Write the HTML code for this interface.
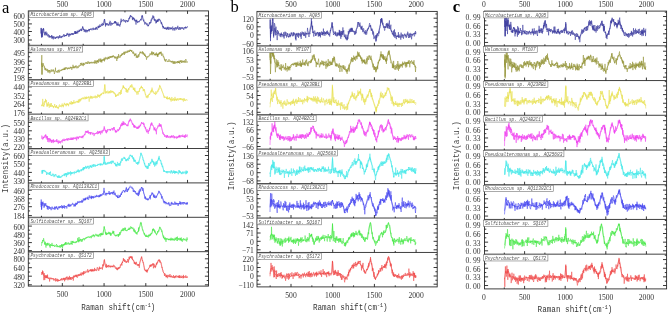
<!DOCTYPE html>
<html><head><meta charset="utf-8"><style>html,body{margin:0;padding:0;background:#fff;width:668px;height:315px;overflow:hidden}svg{display:block;will-change:transform}</style></head><body>
<svg xmlns="http://www.w3.org/2000/svg" width="668" height="315" viewBox="0 0 668 315">
<rect width="668" height="315" fill="#fff"/>
<path d="M41.0,33.3 41.2,27.9 41.5,36.8 41.6,34.6 41.9,31.7 42.0,29.6 42.2,32.8 42.5,37.2 42.8,31.0 43.0,28.8 43.1,30.2 43.4,29.2 43.5,28.5 43.7,28.8 44.0,32.9 44.3,32.7 44.6,32.7 44.9,35.0 45.0,33.0 45.2,32.0 45.5,32.2 45.8,33.5 46.0,31.5 46.1,33.9 46.4,34.6 46.7,34.9 47.0,32.7 47.3,35.3 47.6,35.9 47.9,36.2 48.2,34.2 48.5,35.5 48.8,34.9 49.0,35.1 49.1,37.4 49.4,35.5 49.7,36.5 50.0,37.7 50.3,36.2 50.6,36.7 50.9,37.0 51.2,37.1 51.5,35.2 51.8,37.3 52.0,38.8 52.1,35.6 52.4,38.2 52.7,37.5 53.0,36.6 53.3,39.4 53.6,38.3 53.9,36.2 54.2,37.5 54.5,38.1 54.8,38.5 55.0,38.1 55.1,37.4 55.4,38.3 55.7,39.0 56.0,36.9 56.3,37.9 56.6,37.1 56.9,37.6 57.2,36.3 57.5,37.1 57.8,37.4 58.1,38.5 58.4,38.7 58.7,36.1 59.0,36.5 59.3,37.7 59.6,35.0 59.9,35.4 60.0,36.7 60.2,38.1 60.5,37.6 60.8,36.5 61.1,36.4 61.4,36.4 61.7,38.1 62.0,36.0 62.3,36.0 62.6,36.6 62.9,35.9 63.2,35.7 63.5,34.6 63.8,35.7 64.1,34.3 64.4,36.7 64.7,36.2 65.0,35.4 65.3,36.0 65.6,35.0 65.9,36.2 66.2,35.1 66.5,35.7 66.8,33.6 67.1,35.2 67.4,33.2 67.7,32.9 68.0,34.4 68.3,33.9 68.6,34.9 68.9,36.9 69.2,33.7 69.5,33.8 69.8,35.6 70.0,34.8 70.1,34.1 70.4,34.2 70.7,35.1 71.0,34.9 71.3,33.3 71.6,34.3 71.9,34.4 72.2,33.3 72.5,34.5 72.8,33.3 73.1,35.0 73.4,34.0 73.7,33.8 74.0,33.0 74.3,33.4 74.6,31.4 74.9,32.2 75.0,33.6 75.2,31.1 75.5,34.0 75.8,31.3 76.1,33.7 76.4,31.9 76.7,33.3 77.0,32.4 77.3,30.6 77.6,33.3 77.9,33.4 78.2,31.5 78.5,31.1 78.8,32.0 79.1,29.8 79.4,31.7 79.7,30.0 80.0,30.3 80.3,29.5 80.6,29.7 80.9,28.8 81.2,31.1 81.5,29.6 81.8,30.6 82.0,29.5 82.1,28.5 82.4,27.8 82.7,26.4 83.0,28.0 83.3,29.0 83.5,29.9 83.6,28.8 83.9,29.4 84.2,31.9 84.5,29.7 84.8,29.5 85.1,31.0 85.4,32.3 85.7,29.6 86.0,30.9 86.3,30.7 86.6,29.8 86.9,32.4 87.0,31.5 87.2,31.4 87.5,30.3 87.8,31.2 88.1,30.0 88.4,30.4 88.7,29.2 89.0,28.9 89.3,31.4 89.6,29.3 89.9,29.8 90.0,29.4 90.2,29.1 90.5,28.8 90.8,29.9 91.1,29.0 91.4,29.0 91.7,29.1 92.0,30.3 92.3,29.7 92.6,29.3 92.9,28.4 93.2,27.7 93.5,29.9 93.8,29.9 94.1,28.7 94.4,29.4 94.7,29.4 95.0,29.5 95.3,29.5 95.6,28.0 95.9,29.8 96.2,26.9 96.5,28.8 96.8,28.3 97.1,28.6 97.4,29.6 97.7,28.7 98.0,26.5 98.3,25.8 98.6,28.0 98.9,25.9 99.2,26.7 99.5,27.4 99.8,24.7 100.0,24.4 100.1,26.8 100.4,26.6 100.7,26.1 101.0,26.2 101.3,25.1 101.6,24.2 101.9,25.3 102.2,22.9 102.5,23.4 102.8,25.5 103.1,24.6 103.4,24.9 103.5,23.5 103.7,22.8 104.0,20.8 104.3,19.4 104.5,19.5 104.6,19.0 104.9,21.8 105.2,23.2 105.5,26.5 105.8,23.1 106.1,25.3 106.4,24.2 106.7,24.3 107.0,23.0 107.3,24.0 107.6,25.3 107.9,24.5 108.2,24.7 108.5,24.4 108.8,25.8 109.1,24.6 109.4,22.4 109.7,23.9 110.0,20.8 110.3,21.3 110.6,24.0 110.9,25.8 111.2,24.3 111.5,22.9 111.8,22.9 112.1,24.8 112.4,23.6 112.7,23.5 113.0,23.3 113.3,23.3 113.6,23.9 113.9,23.5 114.2,23.0 114.5,21.5 114.8,22.8 115.0,21.5 115.1,23.5 115.4,21.2 115.7,22.6 116.0,22.9 116.3,21.9 116.6,25.3 116.9,25.5 117.2,23.8 117.5,25.4 117.8,25.3 118.0,22.4 118.1,25.2 118.4,25.1 118.7,25.4 119.0,24.2 119.3,25.0 119.6,25.2 119.9,26.5 120.0,25.6 120.2,24.3 120.5,24.5 120.8,20.9 121.0,20.0 121.1,18.7 121.4,22.2 121.7,21.4 122.0,21.3 122.3,21.1 122.6,20.5 122.9,20.4 123.2,20.1 123.5,19.3 123.8,20.5 124.1,21.9 124.4,21.2 124.7,20.5 125.0,20.0 125.3,20.1 125.6,22.6 125.9,21.4 126.2,21.1 126.5,20.8 126.8,20.0 127.1,20.9 127.4,22.1 127.7,21.1 128.0,21.4 128.3,20.7 128.6,20.5 128.9,18.0 129.2,18.7 129.5,17.3 129.8,18.3 130.1,15.8 130.4,16.2 130.5,16.7 130.7,15.4 131.0,16.1 131.3,16.3 131.6,16.6 131.9,16.2 132.2,18.1 132.5,20.1 132.8,17.5 133.0,18.5 133.1,17.6 133.4,19.1 133.7,17.7 134.0,18.5 134.3,20.5 134.6,18.6 134.9,20.8 135.2,21.5 135.5,20.4 135.8,20.9 136.0,24.6 136.1,20.1 136.4,21.5 136.7,19.7 137.0,21.4 137.3,23.0 137.6,22.8 137.9,21.0 138.2,21.2 138.5,21.8 138.8,22.3 139.1,21.4 139.4,21.5 139.7,21.1 140.0,20.0 140.3,19.9 140.6,19.7 140.9,19.0 141.0,19.5 141.2,20.4 141.5,18.3 141.8,17.0 142.0,15.4 142.1,17.0 142.4,15.4 142.7,16.8 143.0,19.9 143.3,20.6 143.6,20.6 143.9,19.7 144.0,21.2 144.2,22.1 144.5,22.5 144.8,24.5 145.1,23.0 145.4,22.1 145.7,22.1 146.0,23.6 146.3,23.7 146.6,24.2 146.9,24.4 147.0,23.2 147.2,25.7 147.5,25.9 147.8,26.2 148.1,25.0 148.4,26.1 148.5,25.6 148.7,24.8 149.0,24.3 149.3,22.8 149.6,22.1 149.9,23.9 150.2,22.6 150.5,22.5 150.8,22.7 151.0,19.7 151.1,20.3 151.4,20.5 151.7,20.1 152.0,18.5 152.3,19.1 152.6,17.5 152.9,15.4 153.0,15.4 153.2,17.7 153.5,18.1 153.8,16.3 154.1,20.2 154.4,19.1 154.7,21.1 155.0,19.9 155.3,20.2 155.6,19.5 155.9,23.4 156.2,20.8 156.5,22.8 156.8,20.7 157.0,21.7 157.1,19.7 157.4,19.7 157.7,21.9 158.0,19.5 158.3,21.4 158.6,20.3 158.9,18.7 159.0,19.0 159.2,19.2 159.5,20.1 159.8,20.0 160.0,19.8 160.1,20.7 160.4,20.5 160.7,20.8 161.0,22.6 161.3,24.1 161.6,22.2 161.9,24.3 162.2,24.3 162.5,24.7 162.8,27.1 163.0,26.3 163.1,28.5 163.4,26.5 163.7,27.9 164.0,27.6 164.3,27.3 164.6,28.8 164.9,28.2 165.0,29.1 165.2,28.6 165.5,27.5 165.8,28.5 166.1,28.8 166.4,29.7 166.7,27.7 167.0,28.7 167.3,26.9 167.6,29.4 167.9,27.7 168.2,26.8 168.5,28.7 168.8,29.8 169.1,27.2 169.4,27.6 169.7,28.1 170.0,27.6 170.3,29.2 170.6,27.7 170.9,27.8 171.2,29.1 171.5,27.7 171.8,28.8 172.1,27.5 172.4,27.3 172.7,26.6 173.0,30.5 173.3,28.3 173.6,28.9 173.9,28.7 174.2,28.9 174.5,28.6 174.8,30.6 175.0,27.6 175.1,27.0 175.4,27.6 175.7,27.3 176.0,29.3 176.3,29.5 176.6,27.7 176.9,27.2 177.2,28.2 177.5,28.2 177.8,25.8 178.1,29.2 178.4,29.4 178.7,29.8 179.0,27.5 179.3,28.2 179.6,27.0 179.9,27.6 180.0,30.0 180.2,29.6 180.5,28.4 180.8,27.9 181.1,27.0 181.4,28.5 181.7,28.7 182.0,28.6 182.3,28.6 182.6,27.3 182.9,28.3 183.2,28.3 183.5,29.4 183.8,29.9 184.1,27.9 184.4,27.2 184.7,27.8 185.0,27.3 185.3,27.1 185.5,27.8 185.6,26.7 185.9,28.5 186.2,27.6 186.5,27.9 186.8,27.5 187.1,26.9 187.4,26.5 187.5,27.3" fill="none" stroke="#34349a" stroke-width="0.55" stroke-linejoin="round"/>
<path d="M41.0,33.6 41.2,28.2 41.5,37.7 41.8,33.8 42.0,31.4 42.5,35.4 42.6,33.3 43.0,29.8 43.4,28.5 43.5,28.1 44.0,32.8 44.2,33.2 45.0,35.6 45.8,33.1 46.0,33.0 46.6,34.9 47.0,35.7 47.4,36.1 48.2,36.8 49.0,36.5 49.8,36.3 50.6,36.8 51.4,36.8 52.0,37.4 52.2,37.6 53.0,37.2 53.8,37.5 54.6,38.1 55.0,37.5 55.4,37.8 56.2,37.2 57.0,37.2 57.8,37.1 58.6,38.0 59.4,37.0 60.0,36.8 60.2,36.8 61.0,36.7 61.8,36.7 62.6,36.3 63.4,36.7 64.2,35.8 65.0,36.0 65.8,35.4 66.6,35.4 67.4,34.6 68.2,34.8 69.0,34.6 69.8,34.4 70.0,33.7 70.6,34.7 71.4,34.1 72.2,33.9 73.0,33.9 73.8,33.7 74.6,33.7 75.0,33.1 75.4,33.0 76.2,33.0 77.0,32.4 77.8,31.7 78.6,31.2 79.4,30.6 80.0,30.5 80.2,30.8 81.0,29.6 81.8,30.1 82.0,29.8 82.6,26.9 82.8,26.8 83.4,29.0 83.5,29.4 84.2,29.9 85.0,30.6 85.8,31.0 86.6,31.2 87.0,31.6 87.4,30.6 88.2,30.9 89.0,29.7 89.8,29.4 90.0,29.4 90.6,28.9 91.4,28.7 92.2,28.6 93.0,28.8 93.8,28.9 94.6,28.7 95.0,28.1 95.4,28.1 96.2,27.7 97.0,27.8 97.8,26.7 98.6,27.4 99.4,26.5 100.0,26.1 100.2,26.4 101.0,26.2 101.8,25.5 102.6,25.3 103.4,24.5 103.5,24.9 104.2,21.3 104.5,19.3 105.0,22.4 105.5,24.5 105.8,24.4 106.6,24.1 107.4,24.0 108.2,24.7 109.0,24.0 109.8,24.7 110.0,24.6 110.6,23.9 111.4,23.2 112.2,23.6 113.0,23.5 113.8,22.7 114.6,22.6 115.0,21.6 115.4,23.0 116.2,23.2 117.0,24.4 117.8,24.2 118.0,25.3 118.6,25.1 119.4,25.7 120.0,25.1 120.2,24.3 121.0,21.2 121.8,20.2 122.6,20.2 123.4,20.4 124.2,20.1 125.0,20.9 125.8,21.3 126.6,20.8 127.4,20.7 128.0,21.9 128.2,21.5 129.0,19.4 129.8,17.6 130.5,15.3 130.6,15.6 131.4,16.2 132.2,17.2 133.0,18.9 133.8,18.8 134.6,20.3 135.4,20.1 136.0,20.2 136.2,20.9 137.0,21.8 137.8,21.9 138.5,21.8 138.6,21.6 139.4,21.6 140.2,20.0 141.0,19.0 141.8,17.4 142.0,16.5 142.6,17.6 143.4,19.9 144.0,22.1 144.2,21.9 145.0,22.6 145.8,23.8 146.6,24.3 147.0,24.0 147.4,25.0 148.2,25.7 148.5,25.7 149.0,24.6 149.8,23.3 150.6,21.9 151.0,22.6 151.4,20.1 152.2,17.6 153.0,16.6 153.8,17.7 154.6,19.5 155.0,19.9 155.4,20.1 156.2,20.6 157.0,21.4 157.8,20.8 158.6,19.0 159.0,19.6 159.4,19.4 160.0,20.2 160.2,21.1 161.0,22.5 161.8,23.7 162.6,26.5 163.0,26.4 163.4,27.1 164.2,27.8 165.0,29.0 165.8,28.4 166.6,29.0 167.4,28.4 168.2,29.1 169.0,28.4 169.8,28.6 170.0,29.4 170.6,28.8 171.4,28.8 172.2,29.4 173.0,28.7 173.8,28.3 174.6,28.8 175.0,28.0 175.4,28.9 176.2,29.0 177.0,28.4 177.8,28.4 178.6,28.8 179.4,28.8 180.0,28.4 180.2,29.2 181.0,27.9 181.8,28.4 182.6,28.3 183.4,28.2 184.2,28.3 185.0,27.6 185.5,28.2 185.8,27.8 186.6,27.5 187.4,27.0 187.5,27.1" fill="none" stroke="#34349a" stroke-width="0.45" stroke-linejoin="round"/>
<path d="M41.5,65.1 41.8,55.1 42.0,74.6 42.1,67.2 42.2,65.5 42.4,66.9 42.7,65.1 43.0,63.1 43.3,64.7 43.6,65.5 43.9,65.6 44.2,66.6 44.5,66.4 44.8,69.6 45.1,68.3 45.4,70.3 45.7,68.7 46.0,69.5 46.3,69.6 46.6,70.7 46.8,70.9 46.9,70.3 47.2,69.2 47.5,69.1 47.8,72.4 48.1,70.2 48.4,70.3 48.7,72.4 49.0,71.9 49.3,71.2 49.6,70.1 49.9,73.3 50.2,71.0 50.5,71.3 50.8,70.6 51.1,69.4 51.4,69.6 51.7,71.6 52.0,71.6 52.3,70.9 52.6,69.8 52.9,69.6 53.2,70.8 53.5,69.6 53.8,72.0 54.1,72.3 54.4,74.0 54.7,72.1 55.0,70.5 55.3,70.4 55.5,67.7 55.6,70.8 55.9,71.2 56.2,72.4 56.5,71.9 56.8,71.9 57.1,71.4 57.4,72.0 57.7,72.7 58.0,70.1 58.3,70.6 58.6,69.8 58.9,72.6 59.2,72.4 59.5,71.5 59.8,69.7 60.1,70.5 60.4,70.2 60.7,70.4 61.0,70.0 61.3,70.4 61.6,69.5 61.9,70.5 62.2,69.9 62.5,69.3 62.8,69.3 63.0,68.8 63.1,70.1 63.4,69.0 63.7,69.6 64.0,68.9 64.3,67.7 64.6,70.0 64.9,67.9 65.2,69.5 65.5,69.1 65.8,67.0 66.1,67.7 66.4,68.1 66.7,67.7 67.0,67.4 67.3,69.3 67.6,68.2 67.9,68.6 68.2,67.9 68.5,68.5 68.8,67.5 69.1,68.1 69.4,68.8 69.7,68.3 70.0,67.6 70.3,66.8 70.5,68.3 70.6,68.3 70.9,67.6 71.2,67.1 71.5,68.5 71.8,69.8 72.1,67.5 72.4,68.0 72.7,67.9 73.0,64.8 73.3,67.6 73.6,66.6 73.9,68.4 74.2,66.8 74.5,66.3 74.8,66.6 75.1,68.1 75.4,66.2 75.7,66.6 76.0,65.3 76.3,66.3 76.6,67.2 76.9,68.4 77.2,67.2 77.5,66.7 77.8,67.6 78.0,67.4 78.1,68.1 78.4,67.3 78.7,66.0 79.0,66.4 79.3,66.3 79.6,66.3 79.9,65.9 80.2,64.8 80.5,63.3 80.8,64.5 81.1,62.9 81.4,64.8 81.7,64.6 82.0,62.8 82.3,65.1 82.6,65.2 82.9,64.5 83.0,66.0 83.2,66.1 83.5,62.9 83.8,65.1 84.1,64.3 84.4,64.1 84.7,64.5 85.0,62.6 85.3,62.7 85.6,62.5 85.9,62.7 86.2,63.3 86.5,62.0 86.8,62.3 87.1,63.8 87.4,63.1 87.7,63.5 88.0,61.1 88.3,62.1 88.6,62.4 88.9,62.8 89.2,62.2 89.5,63.9 89.8,62.8 90.1,62.9 90.4,62.7 90.7,63.2 91.0,61.9 91.3,63.3 91.6,62.6 91.9,62.5 92.2,62.3 92.5,62.2 92.8,63.3 93.1,63.2 93.4,62.4 93.7,62.9 94.0,62.3 94.3,63.5 94.6,62.1 94.9,60.2 95.2,63.5 95.5,62.0 95.8,60.7 96.1,61.5 96.4,60.8 96.7,63.8 97.0,62.2 97.3,60.0 97.6,62.0 97.9,60.8 98.2,63.0 98.5,60.0 98.8,58.9 99.1,61.1 99.4,60.6 99.7,60.4 100.0,58.6 100.3,60.9 100.6,62.2 100.9,58.7 101.2,61.7 101.5,59.8 101.8,62.5 102.1,60.5 102.4,59.8 102.7,60.9 103.0,60.3 103.3,59.2 103.6,60.4 103.9,59.1 104.2,57.7 104.5,61.4 104.8,58.9 105.1,58.3 105.4,59.2 105.7,57.1 106.0,57.2 106.3,58.1 106.6,58.0 106.9,58.6 107.2,59.6 107.5,57.9 107.8,58.6 108.0,58.5 108.1,56.8 108.4,58.1 108.7,56.9 109.0,58.9 109.3,58.4 109.6,57.6 109.9,56.1 110.2,57.4 110.5,56.4 110.8,57.8 111.1,56.9 111.4,56.1 111.7,57.6 112.0,57.2 112.3,55.8 112.6,57.3 112.9,55.8 113.0,56.0 113.2,56.5 113.5,55.5 113.8,56.1 114.1,56.3 114.4,58.1 114.7,58.2 115.0,56.6 115.3,58.5 115.6,57.1 115.9,57.6 116.2,58.1 116.5,57.6 116.8,61.0 117.1,57.5 117.4,56.2 117.7,58.8 118.0,57.1 118.3,57.0 118.6,54.1 118.9,57.8 119.2,57.3 119.5,57.1 119.8,57.0 120.1,57.6 120.4,55.5 120.7,56.4 121.0,54.6 121.3,54.8 121.6,55.9 121.8,55.2 121.9,53.5 122.2,54.8 122.5,54.1 122.8,53.2 123.1,54.2 123.4,53.2 123.7,52.0 124.0,52.3 124.3,55.0 124.6,51.7 124.9,53.2 125.2,53.5 125.5,53.3 125.8,51.3 126.1,52.0 126.4,52.3 126.7,52.7 127.0,51.2 127.3,50.6 127.6,52.6 127.9,52.6 128.2,51.8 128.5,50.6 128.8,51.7 129.1,51.1 129.4,51.8 129.7,49.8 130.0,51.0 130.3,50.6 130.5,49.8 130.6,50.8 130.9,50.9 131.2,50.6 131.5,51.7 131.8,50.0 132.1,51.8 132.4,52.4 132.7,52.6 133.0,53.7 133.3,51.7 133.6,51.7 133.9,53.8 134.2,54.2 134.5,56.1 134.8,54.9 135.1,53.6 135.4,55.4 135.7,54.2 136.0,53.5 136.3,57.9 136.6,55.8 136.9,56.5 137.2,56.3 137.5,57.8 137.8,56.4 138.0,57.5 138.1,55.2 138.4,54.4 138.7,56.9 139.0,56.4 139.3,54.8 139.6,53.9 139.9,53.1 140.2,51.7 140.5,53.2 140.8,52.4 141.1,52.4 141.4,52.5 141.7,53.4 142.0,53.0 142.3,53.4 142.6,51.4 142.9,52.9 143.0,54.4 143.2,52.4 143.5,53.0 143.8,54.5 144.1,55.0 144.4,55.4 144.7,53.5 145.0,56.0 145.3,54.8 145.5,55.4 145.6,56.8 145.9,56.1 146.2,57.3 146.5,59.7 146.8,57.7 147.1,57.7 147.4,56.3 147.7,56.7 148.0,56.6 148.3,56.8 148.6,55.9 148.9,56.0 149.2,55.9 149.5,54.6 149.8,53.7 150.1,53.4 150.4,53.7 150.7,54.3 151.0,55.0 151.3,54.6 151.6,52.7 151.8,53.5 151.9,51.3 152.2,55.2 152.5,54.4 152.8,53.0 153.1,52.4 153.4,54.1 153.7,52.2 154.0,53.4 154.2,55.2 154.6,54.5 154.9,54.0 155.2,55.5 155.5,53.6 155.8,54.9 156.1,53.2 156.4,52.5 156.7,55.1 157.0,53.7 157.3,56.6 157.6,54.2 157.9,56.9 158.0,53.8 158.2,55.2 158.5,53.2 158.8,52.8 159.1,54.0 159.4,54.3 159.7,52.2 160.0,54.2 160.3,51.9 160.5,52.5 160.6,52.8 160.9,53.5 161.2,51.7 161.5,55.7 161.8,55.0 162.1,54.3 162.4,54.1 162.7,53.7 163.0,54.6 163.3,57.1 163.6,56.8 163.9,56.6 164.2,57.9 164.5,60.5 164.8,59.1 165.1,59.4 165.4,61.7 165.5,60.8 165.7,60.3 166.0,59.9 166.3,59.1 166.6,59.6 166.9,60.4 167.2,60.9 167.5,61.6 167.8,61.6 168.1,61.3 168.4,61.4 168.7,60.3 169.0,59.2 169.3,61.1 169.6,60.8 169.9,61.2 170.2,61.6 170.5,60.7 170.8,60.8 171.1,61.9 171.4,62.0 171.7,61.1 172.0,62.4 172.3,61.7 172.6,60.8 172.9,62.0 173.2,64.0 173.5,61.5 173.8,63.3 174.1,63.5 174.4,63.5 174.7,61.2 175.0,64.0 175.3,62.3 175.6,61.9 175.9,61.9 176.2,62.7 176.5,62.1 176.8,61.8 177.1,63.3 177.4,61.5 177.7,61.1 178.0,62.8 178.3,61.9 178.6,63.0 178.9,60.8 179.2,63.0 179.5,62.5 179.8,63.7 180.1,60.5 180.4,62.0 180.7,61.4 181.0,60.0 181.3,60.8 181.6,62.7 181.9,60.9 182.2,60.6 182.5,62.3 182.8,62.5 183.1,62.5 183.4,60.8 183.7,61.5 184.0,62.5 184.3,60.7 184.6,60.8 184.9,62.3 185.2,63.0 185.5,60.3 185.8,59.0 186.1,60.0 186.4,60.5 186.7,61.5 187.0,62.5 187.3,61.9 187.5,61.5" fill="none" stroke="#909030" stroke-width="0.55" stroke-linejoin="round"/>
<path d="M41.5,66.7 41.8,62.7 42.0,74.5 42.2,64.7 43.0,63.6 43.1,63.8 43.9,66.1 44.2,67.8 44.7,67.5 45.5,68.1 46.3,69.1 46.8,69.4 47.1,69.6 47.9,70.6 48.7,70.3 49.5,70.6 50.3,71.0 50.5,71.1 51.1,70.6 51.9,71.3 52.7,71.1 53.5,71.1 54.3,71.3 55.1,70.7 55.5,71.0 55.9,71.3 56.7,71.5 57.5,71.1 58.3,71.2 59.1,71.6 59.2,71.8 59.9,71.2 60.7,71.0 61.5,69.9 62.3,69.5 63.0,69.3 63.1,69.1 63.9,68.9 64.7,69.5 65.5,68.8 66.3,68.4 67.1,68.7 67.9,69.1 68.7,68.4 69.5,68.7 70.3,68.0 70.5,67.9 71.1,67.2 71.9,67.6 72.7,68.1 73.5,66.9 74.3,67.7 75.1,66.6 75.9,66.6 76.7,66.9 77.5,66.6 78.0,66.3 78.3,65.7 79.1,65.9 79.9,65.0 80.7,66.0 81.5,64.7 82.3,64.5 83.0,63.8 83.1,64.0 83.9,63.5 84.7,64.1 85.5,63.4 86.3,63.5 87.1,62.9 87.9,62.8 88.0,63.7 88.7,62.6 89.5,62.1 90.3,62.9 91.1,62.2 91.9,62.3 92.7,62.7 93.5,62.0 94.3,62.5 95.1,61.9 95.5,62.6 95.9,62.4 96.7,61.6 97.5,61.4 98.3,61.0 99.1,61.6 99.9,61.2 100.7,60.1 101.5,60.7 102.3,59.7 103.0,59.7 103.1,59.3 103.9,60.3 104.7,59.2 105.5,59.0 106.3,58.3 107.1,58.7 107.9,57.6 108.0,58.0 108.7,58.6 109.5,57.4 110.3,57.3 111.1,57.2 111.9,56.4 112.7,56.4 113.0,56.6 113.5,56.5 114.3,56.7 115.1,56.7 115.9,57.2 116.7,57.2 117.5,57.9 118.0,57.7 118.3,57.2 119.1,55.8 119.9,56.5 120.7,56.0 121.5,54.9 121.8,54.3 122.3,54.2 123.1,54.4 123.9,53.2 124.7,52.9 125.5,52.5 126.3,52.6 127.1,51.8 127.9,51.5 128.7,51.0 129.5,51.5 130.3,51.0 130.5,50.5 131.1,50.5 131.9,51.4 132.7,52.6 133.5,52.8 134.2,54.1 135.1,54.4 135.9,54.9 136.7,55.5 137.5,56.0 138.0,55.9 138.3,55.5 139.1,54.5 139.9,52.6 140.5,51.8 140.7,52.5 141.5,52.2 142.3,52.1 143.0,52.0 143.1,52.8 143.9,54.2 144.7,55.6 145.5,56.3 146.3,57.1 147.1,56.8 147.9,57.5 148.0,57.4 148.7,56.7 149.5,55.8 150.3,54.9 151.1,53.1 151.8,53.0 151.9,52.5 152.7,52.9 153.5,53.8 154.2,54.0 155.1,54.7 155.9,54.9 156.7,54.8 157.5,55.2 158.0,54.9 158.3,54.8 159.1,53.4 159.9,53.1 160.5,52.2 160.7,52.6 161.5,53.9 162.3,55.2 163.0,55.6 163.1,55.8 163.9,57.6 164.7,59.3 165.5,60.5 166.3,61.0 167.1,61.4 167.9,61.4 168.7,61.5 169.5,61.4 170.3,61.7 170.5,61.8 171.1,62.1 171.9,62.0 172.7,62.0 173.5,61.9 174.3,62.2 175.1,62.0 175.9,62.1 176.7,62.0 177.5,61.7 178.0,61.5 178.3,62.1 179.1,61.9 179.9,61.7 180.7,61.6 181.5,62.5 182.3,61.3 183.1,61.5 183.9,61.5 184.7,60.9 185.5,61.2 186.3,62.1 187.1,62.1 187.5,62.2" fill="none" stroke="#909030" stroke-width="0.45" stroke-linejoin="round"/>
<path d="M41.5,106.2 41.8,104.7 42.1,105.9 42.4,105.9 42.7,98.9 43.0,102.2 43.3,106.4 43.6,105.1 43.9,106.6 44.2,105.2 44.5,101.8 44.8,101.0 45.1,102.4 45.4,101.6 45.5,98.9 45.7,100.2 46.0,101.7 46.3,100.0 46.6,102.7 46.8,105.8 46.9,106.6 47.2,103.7 47.5,106.4 47.8,103.8 48.1,103.4 48.4,102.0 48.7,106.0 49.0,105.6 49.2,107.8 49.6,105.5 49.9,105.3 50.2,103.2 50.5,107.0 50.8,104.9 51.1,105.4 51.4,103.1 51.7,106.6 52.0,106.7 52.3,105.1 52.6,106.0 52.9,106.4 53.0,107.1 53.2,106.2 53.5,108.1 53.8,106.0 54.1,105.9 54.4,106.1 54.7,104.0 55.0,105.9 55.3,107.9 55.6,107.2 55.9,106.1 56.2,107.6 56.5,105.0 56.8,106.9 57.1,107.8 57.4,108.1 57.7,106.8 58.0,108.4 58.3,109.1 58.6,106.6 58.9,106.1 59.2,105.0 59.5,104.5 59.8,107.0 60.1,106.3 60.4,106.3 60.7,105.4 61.0,105.5 61.3,106.4 61.6,107.2 61.9,104.9 62.2,103.5 62.5,106.3 62.8,105.5 63.0,105.5 63.1,105.1 63.4,107.2 63.7,104.8 64.0,105.2 64.3,102.8 64.6,104.0 64.9,103.8 65.2,104.5 65.5,104.9 65.8,103.8 66.1,106.3 66.4,103.5 66.7,104.1 67.0,104.8 67.3,103.2 67.6,105.0 67.9,104.9 68.2,103.9 68.5,106.2 68.8,104.2 69.1,104.4 69.4,102.9 69.7,102.3 70.0,103.1 70.3,103.3 70.5,103.0 70.6,104.3 70.9,101.5 71.2,102.1 71.5,101.4 71.8,104.6 72.1,102.1 72.4,104.1 72.7,102.0 73.0,103.9 73.3,102.3 73.6,102.8 73.9,100.2 74.2,103.4 74.5,102.6 74.8,102.7 75.1,103.3 75.4,101.9 75.7,101.8 76.0,102.5 76.3,102.0 76.6,101.3 76.9,101.5 77.2,100.9 77.5,102.1 77.8,102.3 78.0,101.4 78.1,103.0 78.4,99.5 78.7,100.7 79.0,102.5 79.3,100.1 79.6,98.9 79.9,101.7 80.2,100.7 80.5,98.9 80.8,100.6 81.1,98.7 81.4,98.2 81.7,99.2 82.0,98.7 82.3,97.8 82.6,98.3 82.9,97.5 83.0,98.6 83.2,98.5 83.5,99.2 83.8,98.0 84.1,96.9 84.4,96.8 84.7,97.7 85.0,99.4 85.3,98.5 85.6,97.1 85.9,98.7 86.2,96.5 86.5,98.7 86.8,97.5 87.1,98.5 87.4,98.2 87.7,97.4 88.0,98.0 88.3,96.4 88.6,97.5 88.9,98.7 89.2,101.7 89.5,98.3 89.8,97.6 90.1,96.5 90.4,98.6 90.7,95.8 91.0,96.5 91.3,97.8 91.6,96.2 91.9,98.9 92.2,98.6 92.5,97.0 92.8,96.8 93.0,96.1 93.1,96.1 93.4,97.8 93.7,98.0 94.0,97.7 94.3,97.6 94.6,96.7 94.9,97.4 95.2,95.5 95.5,97.0 95.8,98.3 96.1,98.1 96.4,96.3 96.7,96.2 97.0,97.7 97.3,98.0 97.6,94.5 97.9,95.5 98.2,96.2 98.5,97.0 98.8,94.8 99.1,96.2 99.4,95.2 99.7,97.6 100.0,95.5 100.3,94.9 100.5,94.5 100.6,95.8 100.9,95.4 101.2,93.6 101.5,94.8 101.8,93.2 102.1,93.7 102.4,93.0 102.7,92.6 103.0,93.1 103.3,92.6 103.6,93.8 103.9,93.8 104.0,92.7 104.2,89.5 104.5,87.9 104.8,84.2 105.1,86.2 105.4,92.1 105.5,93.1 105.7,93.5 106.0,93.2 106.3,91.2 106.6,91.9 106.9,92.8 107.2,91.3 107.5,91.5 107.8,90.7 108.1,91.0 108.4,93.3 108.7,93.0 109.0,91.4 109.3,91.7 109.6,91.0 109.9,93.4 110.0,91.7 110.2,92.5 110.5,90.4 110.8,91.1 111.1,92.4 111.4,92.7 111.7,90.7 112.0,90.9 112.3,92.4 112.6,91.2 112.9,91.0 113.0,91.9 113.2,91.9 113.5,93.1 113.8,93.2 114.1,92.2 114.4,93.1 114.7,93.7 115.0,93.0 115.3,94.0 115.6,96.9 115.9,94.3 116.0,96.8 116.2,95.9 116.5,95.0 116.8,95.4 117.1,95.2 117.4,95.8 117.7,94.1 118.0,94.1 118.3,93.8 118.6,95.6 118.9,94.4 119.0,92.4 119.2,93.0 119.5,92.5 119.8,93.0 120.1,93.0 120.4,94.7 120.7,90.2 121.0,92.9 121.3,94.0 121.6,89.8 121.9,89.6 122.2,88.7 122.5,88.4 122.8,88.7 123.1,85.4 123.4,87.6 123.5,85.7 123.7,87.9 124.0,87.1 124.3,88.2 124.6,88.1 124.9,89.0 125.2,88.5 125.5,88.1 125.8,90.1 126.0,90.4 126.1,92.0 126.4,88.5 126.7,90.8 127.0,92.7 127.3,89.9 127.6,90.5 127.9,92.4 128.2,91.1 128.5,88.3 128.8,90.1 129.1,89.4 129.4,88.4 129.7,87.7 130.0,87.0 130.3,85.5 130.5,85.5 130.6,86.8 130.9,86.0 131.2,87.6 131.5,85.2 131.8,84.2 132.0,85.2 132.1,86.0 132.4,86.8 132.7,87.2 133.0,86.9 133.3,89.7 133.6,88.1 133.9,90.0 134.0,89.1 134.2,88.3 134.5,91.2 134.8,87.7 135.1,89.7 135.4,91.3 135.7,90.8 136.0,92.3 136.3,91.7 136.6,91.7 136.9,94.7 137.0,92.2 137.2,92.2 137.5,91.1 137.8,91.4 138.1,94.5 138.4,92.5 138.7,91.8 139.0,90.8 139.3,91.3 139.6,88.3 139.9,89.2 140.2,88.7 140.5,87.5 140.8,87.9 141.1,86.7 141.4,85.8 141.5,88.1 141.7,87.2 142.0,88.2 142.3,87.3 142.6,88.7 142.9,89.0 143.0,89.6 143.2,91.2 143.5,89.2 143.8,90.4 144.1,90.9 144.4,89.2 144.7,91.0 145.0,92.4 145.3,94.6 145.6,94.1 145.9,96.6 146.2,97.4 146.5,96.3 146.8,97.9 147.1,98.2 147.4,96.8 147.7,95.2 148.0,97.7 148.3,95.7 148.6,94.9 148.9,95.0 149.2,93.8 149.5,94.9 149.8,94.1 150.1,93.9 150.4,92.8 150.7,90.8 151.0,91.0 151.3,91.5 151.6,89.9 151.9,92.6 152.0,87.6 152.2,89.3 152.5,91.5 152.8,91.5 153.1,91.2 153.4,91.5 153.7,93.3 154.0,93.5 154.3,93.9 154.6,92.8 154.9,93.8 155.2,94.6 155.5,94.8 155.8,91.3 156.0,93.8 156.1,93.7 156.4,93.5 156.7,93.3 157.0,93.4 157.3,92.4 157.6,91.1 157.9,90.6 158.2,91.6 158.5,88.8 158.8,89.1 159.1,89.7 159.4,87.8 159.7,84.9 160.0,86.6 160.3,86.2 160.6,87.1 160.9,89.0 161.2,89.0 161.5,88.9 161.8,90.9 162.0,90.9 162.1,90.9 162.4,92.0 162.7,92.9 163.0,93.3 163.3,94.2 163.6,95.7 163.9,95.5 164.0,95.4 164.2,98.0 164.5,96.6 164.8,96.8 165.1,97.1 165.4,97.5 165.7,97.6 166.0,97.8 166.3,97.2 166.6,98.9 166.9,97.5 167.0,99.2 167.2,96.3 167.5,97.2 167.8,99.4 168.1,98.3 168.4,97.9 168.7,99.1 169.0,97.9 169.3,99.2 169.6,97.0 169.9,98.8 170.0,98.8 170.2,99.9 170.5,100.1 170.8,98.4 171.1,101.6 171.4,98.6 171.7,97.2 172.0,97.0 172.3,100.9 172.6,99.1 172.9,98.6 173.2,98.5 173.5,98.2 173.8,100.6 174.1,99.3 174.4,101.1 174.7,99.1 175.0,96.9 175.3,100.2 175.6,98.9 175.9,99.2 176.2,100.9 176.5,99.2 176.8,100.5 177.1,99.4 177.4,98.6 177.7,99.9 178.0,98.7 178.3,100.5 178.6,100.1 178.9,99.2 179.2,99.6 179.5,99.4 179.8,98.6 180.0,99.7 180.1,98.7 180.4,99.6 180.7,98.2 181.0,99.3 181.3,99.7 181.6,98.5 181.9,98.9 182.2,98.8 182.5,100.1 182.8,98.8 183.1,100.1 183.4,101.6 183.7,100.1 184.0,98.0 184.3,99.8 184.6,100.7 184.9,99.3 185.2,100.8 185.5,100.6 185.8,100.4 186.1,99.8 186.4,99.6 186.7,99.7 187.0,100.0 187.3,100.5 187.5,100.3" fill="none" stroke="#e8e050" stroke-width="0.55" stroke-linejoin="round"/>
<path d="M41.5,106.2 42.3,104.5 43.0,102.6 43.1,102.6 43.9,103.9 44.2,105.0 44.7,103.3 45.5,100.4 46.3,102.7 46.8,103.8 47.1,104.0 47.9,104.3 48.7,104.7 49.2,105.5 49.5,104.2 50.3,105.3 51.1,105.8 51.9,106.3 52.7,105.8 53.0,106.4 53.5,106.6 54.3,106.4 55.1,106.1 55.9,106.9 56.7,106.8 57.5,107.8 58.0,107.2 58.3,108.0 59.1,107.0 59.9,106.3 60.7,106.0 61.5,105.4 62.3,105.5 63.0,105.6 63.1,104.9 63.9,105.2 64.7,104.4 65.5,104.7 66.3,105.4 67.1,103.9 67.9,104.6 68.7,104.5 69.5,103.3 70.3,103.2 70.5,103.4 71.1,103.8 71.9,103.1 72.7,102.9 73.5,103.0 74.3,102.5 75.1,102.3 75.9,101.9 76.7,102.1 77.5,101.2 78.0,101.9 78.3,101.0 79.1,100.4 79.9,100.5 80.7,100.1 81.5,98.8 82.3,99.2 83.0,98.3 83.1,98.5 83.9,98.8 84.7,98.0 85.5,98.2 86.3,97.7 87.1,98.3 87.9,97.5 88.0,97.1 88.7,97.2 89.5,97.3 90.3,97.7 91.1,97.6 91.9,97.9 92.7,97.6 93.0,97.6 93.5,97.5 94.3,97.0 95.1,97.0 95.9,96.8 96.7,96.7 97.5,96.0 98.3,95.3 99.1,95.3 99.9,95.4 100.5,94.2 100.7,94.7 101.5,94.6 102.3,93.8 103.1,93.2 103.9,93.7 104.0,93.6 104.7,85.0 105.5,93.0 106.3,93.0 107.1,92.1 107.9,93.5 108.7,92.2 109.5,92.4 110.0,92.2 110.3,92.5 111.1,91.7 111.9,91.9 112.7,92.0 113.0,91.4 113.5,92.1 114.3,93.9 115.1,94.1 115.9,95.9 116.0,95.7 116.7,95.4 117.5,94.7 118.3,94.1 119.0,93.4 119.1,93.1 119.9,92.6 120.7,92.4 121.0,92.0 121.5,90.4 122.3,88.7 123.1,86.8 123.5,86.2 123.9,86.7 124.7,87.7 125.5,88.6 126.0,89.4 126.3,89.6 127.0,90.4 127.1,91.3 127.9,89.6 128.7,88.3 129.5,87.4 130.3,86.8 130.5,85.9 131.1,86.2 131.9,85.7 132.0,85.4 132.7,86.6 133.5,88.8 134.0,89.6 134.3,90.1 135.1,91.2 135.9,91.5 136.7,92.3 137.0,92.5 137.5,92.3 138.3,91.7 139.0,91.2 139.1,92.0 139.9,89.0 140.7,88.0 141.5,86.5 142.3,87.4 143.0,87.9 143.1,88.4 143.9,89.8 144.7,91.9 145.5,94.2 146.3,96.1 146.5,96.5 147.1,96.8 147.9,95.9 148.0,96.4 148.7,94.8 149.5,93.8 150.3,92.3 151.1,91.1 151.9,89.3 152.0,89.3 152.7,90.3 153.5,91.9 154.0,92.8 154.3,93.2 155.1,93.5 155.9,94.4 156.0,93.9 156.7,92.2 157.5,91.0 158.3,89.4 159.1,87.6 159.9,85.9 160.0,86.6 160.7,87.6 161.5,89.0 162.0,91.4 162.3,91.6 163.1,93.9 163.9,96.7 164.0,96.5 164.7,97.7 165.5,96.9 166.3,97.4 167.0,98.2 167.1,98.0 167.9,99.0 168.7,98.2 169.5,98.8 170.0,99.5 170.3,99.4 171.1,99.6 171.9,99.3 172.7,100.0 173.5,99.0 174.3,99.2 175.0,99.5 175.1,99.1 175.9,99.0 176.7,98.9 177.5,98.9 178.3,98.6 179.1,98.8 179.9,98.4 180.0,99.1 180.7,98.5 181.5,99.9 182.3,99.9 183.1,99.8 183.9,99.4 184.7,99.4 185.5,100.1 186.3,99.8 187.1,100.1 187.5,99.7" fill="none" stroke="#e8e050" stroke-width="0.45" stroke-linejoin="round"/>
<path d="M41.5,138.6 41.8,135.6 42.1,136.1 42.4,137.3 42.7,139.5 43.0,139.3 43.3,136.9 43.5,138.4 43.6,137.0 43.9,137.5 44.2,137.2 44.5,137.6 44.8,135.3 45.1,135.7 45.4,135.8 45.5,135.4 45.7,134.3 46.0,138.3 46.3,135.7 46.6,137.9 46.9,137.8 47.2,139.8 47.5,136.1 47.8,141.9 48.1,139.2 48.4,138.0 48.7,139.8 49.0,142.3 49.3,140.1 49.6,138.1 49.9,139.4 50.2,141.7 50.5,138.8 50.8,140.4 51.1,140.3 51.4,143.0 51.7,140.2 52.0,141.8 52.3,139.9 52.6,139.9 52.9,141.9 53.2,143.1 53.5,139.5 53.8,141.9 54.1,142.0 54.4,140.8 54.7,141.8 55.0,141.8 55.3,141.2 55.5,141.0 55.6,140.7 55.9,141.1 56.2,140.2 56.5,141.6 56.8,139.0 57.1,141.9 57.4,141.7 57.7,140.7 58.0,142.4 58.3,143.7 58.6,143.1 58.9,140.4 59.2,143.0 59.5,142.0 59.8,141.8 60.1,141.3 60.4,141.9 60.5,143.4 60.7,142.5 61.0,141.3 61.3,140.7 61.6,140.7 61.9,141.5 62.2,142.5 62.5,139.5 62.8,140.4 63.0,139.9 63.1,139.6 63.4,140.7 63.7,140.7 64.0,138.7 64.3,139.2 64.6,141.1 64.9,140.3 65.2,140.5 65.5,139.5 65.8,139.3 66.1,140.2 66.4,139.1 66.7,138.4 67.0,139.4 67.3,140.4 67.6,138.5 67.9,140.6 68.2,140.1 68.5,138.3 68.8,139.2 69.1,139.0 69.4,139.7 69.7,139.7 70.0,137.9 70.3,137.7 70.5,139.8 70.6,138.8 70.9,139.1 71.2,138.8 71.5,140.0 71.8,137.5 72.1,139.9 72.4,137.9 72.7,139.4 73.0,139.9 73.3,137.3 73.6,138.9 73.9,138.2 74.2,138.3 74.5,138.7 74.8,137.3 75.1,137.4 75.4,139.0 75.7,139.1 76.0,137.7 76.3,136.7 76.6,140.4 76.9,139.0 77.2,138.2 77.5,136.7 77.8,137.2 78.0,137.9 78.1,136.7 78.4,139.1 78.7,137.6 79.0,137.7 79.3,136.3 79.6,136.4 79.9,136.3 80.2,137.4 80.5,136.7 80.8,136.6 81.1,137.1 81.4,137.1 81.7,138.1 82.0,136.5 82.3,135.7 82.6,137.8 82.9,138.2 83.0,136.3 83.2,136.5 83.5,135.7 83.8,136.1 84.1,135.5 84.4,134.1 84.7,134.4 85.0,135.1 85.3,133.4 85.5,132.1 85.6,131.9 85.9,131.0 86.2,131.3 86.5,132.7 86.8,131.3 87.1,132.3 87.4,130.7 87.7,132.4 88.0,132.2 88.3,130.6 88.6,133.4 88.9,132.0 89.2,132.4 89.5,132.6 89.8,132.1 90.1,134.4 90.4,132.6 90.7,134.5 91.0,132.0 91.3,132.8 91.6,132.8 91.9,132.9 92.2,132.6 92.5,133.4 92.8,134.7 93.1,133.3 93.4,133.3 93.7,133.1 94.0,136.1 94.3,135.2 94.6,134.2 94.9,134.3 95.2,133.0 95.5,133.4 95.8,133.7 96.1,133.6 96.4,132.5 96.7,132.5 97.0,133.8 97.3,133.4 97.6,130.9 97.9,133.1 98.2,134.0 98.5,131.9 98.8,132.8 99.1,131.0 99.4,133.2 99.7,131.2 100.0,131.1 100.3,131.9 100.6,134.5 100.9,131.4 101.2,130.6 101.5,132.2 101.8,131.9 102.1,133.3 102.4,130.3 102.7,129.9 103.0,131.1 103.3,130.8 103.6,129.9 103.9,129.7 104.2,126.3 104.5,127.5 104.8,129.0 105.1,130.8 105.4,131.2 105.5,130.4 105.7,129.9 106.0,132.8 106.3,131.5 106.6,133.3 106.9,130.4 107.2,132.0 107.5,129.2 107.8,129.8 108.1,129.6 108.4,129.9 108.7,129.5 109.0,129.6 109.3,130.1 109.6,129.6 109.9,130.4 110.0,129.5 110.2,129.5 110.5,130.8 110.8,129.4 111.1,129.2 111.4,128.9 111.7,129.1 112.0,129.5 112.3,128.2 112.6,130.1 112.9,130.5 113.2,129.9 113.5,128.2 113.8,127.2 114.0,128.2 114.1,127.3 114.4,129.9 114.7,129.4 115.0,129.7 115.3,132.1 115.6,130.4 115.9,132.8 116.0,132.8 116.2,130.7 116.5,131.9 116.8,131.0 117.1,130.4 117.4,129.3 117.7,129.3 118.0,131.2 118.3,130.1 118.6,130.5 118.9,129.0 119.0,129.7 119.2,129.3 119.5,127.4 119.8,129.2 120.1,128.3 120.4,127.3 120.7,124.5 121.0,125.9 121.3,125.8 121.6,126.2 121.9,122.8 122.0,124.0 122.2,125.6 122.5,123.6 122.8,125.1 123.1,121.2 123.4,125.1 123.7,123.7 124.0,121.9 124.3,124.5 124.6,124.8 124.9,125.0 125.0,125.0 125.2,123.0 125.5,123.5 125.8,124.0 126.1,124.7 126.4,125.3 126.7,124.6 127.0,125.4 127.3,125.7 127.6,124.8 127.9,126.2 128.2,125.5 128.5,121.8 128.8,122.0 129.1,120.6 129.4,120.1 129.7,121.5 130.0,119.4 130.3,118.6 130.5,119.3 130.6,120.6 130.9,120.0 131.2,120.6 131.5,122.5 131.8,122.8 132.1,123.4 132.4,124.5 132.7,123.2 133.0,125.0 133.3,124.3 133.6,127.3 133.9,126.4 134.2,124.9 134.5,127.6 134.8,125.4 135.1,127.8 135.4,127.1 135.7,126.3 136.0,126.3 136.3,127.4 136.6,128.0 136.9,127.6 137.0,129.0 137.2,127.0 137.5,128.2 137.8,128.2 138.1,126.4 138.4,128.5 138.7,126.8 139.0,125.6 139.3,127.3 139.6,126.3 139.9,126.7 140.2,124.7 140.5,125.8 140.8,125.0 141.1,124.2 141.4,123.7 141.5,122.6 141.7,122.0 142.0,123.5 142.3,124.0 142.6,123.5 142.9,123.3 143.2,122.4 143.5,124.8 143.8,124.7 144.0,123.3 144.1,126.7 144.4,126.2 144.7,126.2 145.0,127.9 145.3,128.7 145.6,127.2 145.9,129.2 146.2,130.6 146.5,131.7 146.8,132.4 147.1,129.2 147.4,131.2 147.7,132.3 148.0,133.1 148.3,133.8 148.5,131.4 148.6,131.7 148.9,130.0 149.2,130.9 149.5,127.9 149.8,129.5 150.1,128.1 150.4,126.7 150.7,123.7 151.0,123.6 151.3,124.8 151.6,122.5 151.9,123.5 152.0,123.5 152.2,125.1 152.5,125.0 152.8,125.6 153.1,125.4 153.4,126.6 153.7,127.1 154.0,130.3 154.3,128.1 154.6,129.6 154.9,127.3 155.2,130.5 155.5,129.5 155.8,131.3 156.0,130.6 156.1,131.0 156.4,134.3 156.7,128.5 157.0,128.5 157.3,127.8 157.6,127.8 157.9,125.6 158.2,126.5 158.5,126.1 158.8,125.0 159.1,125.0 159.4,123.2 159.5,126.0 159.7,125.3 160.0,127.0 160.3,124.7 160.6,124.6 160.9,126.2 161.0,124.3 161.2,126.9 161.5,126.7 161.8,128.2 162.1,129.9 162.4,130.7 162.7,133.7 163.0,133.5 163.3,132.6 163.5,132.8 163.6,133.6 163.9,135.2 164.2,134.2 164.5,134.8 164.8,137.0 165.1,135.3 165.4,135.5 165.7,135.7 166.0,136.1 166.3,137.9 166.6,135.3 166.9,135.2 167.2,137.1 167.5,135.0 167.8,136.3 168.1,138.0 168.4,136.9 168.7,136.5 169.0,136.3 169.3,136.1 169.6,136.5 169.9,137.0 170.0,138.2 170.2,137.8 170.5,136.4 170.8,136.2 171.1,137.8 171.4,135.4 171.7,136.9 172.0,136.9 172.3,135.7 172.6,136.4 172.9,137.7 173.2,135.7 173.5,135.2 173.8,136.8 174.1,137.4 174.4,136.1 174.7,138.4 175.0,137.1 175.3,137.0 175.6,136.9 175.9,136.6 176.2,136.4 176.5,138.6 176.8,137.6 177.1,137.1 177.4,138.2 177.7,136.6 178.0,137.6 178.3,136.9 178.6,135.9 178.9,137.4 179.2,134.9 179.5,137.1 179.8,135.5 180.0,136.6 180.1,137.6 180.4,136.8 180.7,135.7 181.0,136.4 181.3,136.2 181.6,135.4 181.9,135.4 182.2,136.4 182.5,136.8 182.8,134.6 183.1,136.3 183.4,137.0 183.7,136.7 184.0,135.6 184.3,137.6 184.6,135.4 184.9,137.0 185.2,137.8 185.5,134.4 185.8,136.6 186.1,136.5 186.4,136.5 186.7,135.6 187.0,134.5 187.3,134.8 187.5,136.4" fill="none" stroke="#ee3cee" stroke-width="0.55" stroke-linejoin="round"/>
<path d="M41.5,138.6 42.3,138.6 43.1,137.9 43.5,137.6 43.9,136.4 44.7,136.9 45.5,135.0 46.3,136.8 47.1,137.9 47.5,139.2 47.9,138.6 48.7,139.5 49.5,139.7 50.3,140.5 50.5,139.8 51.1,140.1 51.9,140.5 52.7,141.5 53.5,139.7 54.3,141.3 55.1,141.2 55.5,141.6 55.9,141.8 56.7,141.7 57.5,141.9 58.3,142.0 59.1,141.8 59.9,141.9 60.5,141.5 60.7,141.8 61.5,141.0 62.3,140.6 63.0,140.4 63.1,140.3 63.9,140.2 64.7,140.3 65.5,139.0 66.3,139.8 67.1,139.5 67.9,139.3 68.7,138.8 69.5,139.3 70.3,139.4 70.5,139.3 71.1,138.8 71.9,138.9 72.7,138.8 73.5,139.0 74.3,138.7 75.1,138.3 75.9,138.2 76.7,138.1 77.5,138.0 78.0,137.6 78.3,137.9 79.1,137.2 79.9,137.0 80.7,137.2 81.5,136.7 82.3,136.6 83.0,135.9 83.1,136.8 83.9,135.4 84.7,134.3 85.0,134.1 85.5,131.0 86.3,131.3 87.1,132.8 87.9,132.5 88.0,133.1 88.7,133.4 89.5,132.7 90.3,132.7 91.1,132.8 91.9,133.6 92.7,133.2 93.5,133.0 94.3,133.8 95.1,133.8 95.5,133.2 95.9,133.8 96.7,133.2 97.5,133.9 98.3,133.3 99.1,132.3 99.9,132.2 100.7,131.8 101.5,132.0 102.3,131.7 103.0,131.8 103.1,131.2 103.9,128.3 104.2,127.5 104.7,129.4 105.5,131.4 106.3,130.7 107.1,130.5 107.9,130.2 108.7,130.0 109.5,129.3 110.0,130.0 110.3,129.4 111.1,129.4 111.9,128.2 112.7,128.9 113.5,129.1 114.0,127.7 114.3,129.4 115.1,130.4 115.9,131.3 116.0,131.2 116.7,131.8 117.5,131.1 118.3,130.8 119.0,130.1 119.1,129.6 119.9,128.4 120.7,126.0 121.5,124.8 122.0,122.9 122.3,123.3 123.1,123.2 123.9,124.3 124.7,123.4 125.0,123.6 125.5,124.6 126.3,125.1 127.0,126.2 127.1,125.9 127.9,124.1 128.7,122.7 129.5,120.4 130.3,119.3 130.5,119.1 131.1,120.4 131.9,121.7 132.7,123.5 133.0,124.2 133.5,125.4 134.3,126.0 135.1,126.6 135.9,127.4 136.7,128.4 137.0,128.3 137.5,128.3 138.3,127.7 139.0,128.3 139.1,128.1 139.9,126.1 140.7,124.3 141.5,122.4 142.3,123.6 143.1,123.7 143.9,123.9 144.0,124.1 144.7,126.5 145.5,128.4 146.3,130.7 146.5,131.3 147.1,131.4 147.9,131.4 148.5,132.0 148.7,131.0 149.5,129.0 150.3,126.2 151.0,124.8 151.1,125.7 151.9,122.9 152.0,123.7 152.7,125.3 153.5,126.4 154.0,128.0 154.3,128.6 155.1,129.1 155.9,130.5 156.0,130.3 156.7,129.5 157.5,127.9 158.3,126.5 159.1,125.4 159.5,124.8 159.9,124.9 160.7,125.5 161.0,125.7 161.5,127.5 162.3,130.4 163.1,133.2 163.5,134.5 163.9,134.7 164.7,135.4 165.5,136.1 166.0,136.9 166.3,136.9 167.1,136.5 167.9,136.9 168.7,136.8 169.5,137.0 170.0,137.0 170.3,136.9 171.1,136.7 171.9,136.3 172.7,137.3 173.5,137.8 174.3,137.2 175.0,137.7 175.1,137.4 175.9,137.4 176.7,136.9 177.5,136.9 178.3,136.8 179.1,135.9 179.9,136.6 180.0,136.5 180.7,135.6 181.5,136.7 182.3,136.5 183.1,136.5 183.9,136.6 184.7,136.3 185.5,136.1 186.3,136.3 187.1,136.4 187.5,137.3" fill="none" stroke="#ee3cee" stroke-width="0.45" stroke-linejoin="round"/>
<path d="M41.5,171.4 41.8,170.5 42.1,174.0 42.4,170.0 42.7,173.2 43.0,170.6 43.3,170.7 43.6,170.2 43.9,171.3 44.2,170.4 44.5,170.2 44.8,171.2 45.1,170.7 45.4,172.1 45.5,171.7 45.7,171.3 46.0,171.8 46.3,171.9 46.6,175.0 46.9,173.0 47.2,172.5 47.5,172.9 47.8,174.3 48.1,173.4 48.4,173.4 48.7,173.5 49.0,174.3 49.2,172.2 49.6,174.7 49.9,172.3 50.2,173.1 50.5,171.5 50.8,175.4 51.1,175.9 51.4,175.3 51.7,175.0 52.0,176.1 52.3,175.0 52.6,175.1 52.9,173.5 53.2,174.4 53.5,174.7 53.8,176.4 54.1,177.1 54.2,175.1 54.4,176.2 54.7,176.0 55.0,175.0 55.3,174.2 55.6,175.1 55.9,174.3 56.2,175.7 56.5,176.1 56.8,176.3 57.1,176.4 57.4,177.4 57.7,176.0 58.0,177.9 58.3,175.3 58.6,177.2 58.9,177.7 59.2,176.6 59.5,175.6 59.8,177.7 60.1,176.4 60.4,177.6 60.7,177.4 61.0,176.5 61.3,176.5 61.6,177.2 61.9,176.5 62.2,174.9 62.5,175.9 62.8,176.1 63.0,175.7 63.1,175.5 63.4,175.3 63.7,175.2 64.0,174.2 64.3,173.5 64.6,176.1 64.9,174.0 65.2,174.8 65.5,173.0 65.8,174.5 66.1,173.4 66.4,177.1 66.7,173.1 67.0,173.1 67.3,175.0 67.6,175.2 67.9,171.9 68.2,174.3 68.5,173.8 68.8,172.4 69.1,174.2 69.4,172.6 69.7,172.0 70.0,172.5 70.3,172.4 70.5,171.4 70.6,175.3 70.9,175.3 71.2,172.2 71.5,173.9 71.8,172.7 72.1,174.0 72.4,172.4 72.7,173.1 73.0,172.8 73.3,172.9 73.6,172.3 73.9,172.4 74.2,174.2 74.5,171.6 74.8,171.8 75.1,172.2 75.4,173.0 75.7,172.6 76.0,173.1 76.3,170.7 76.6,172.1 76.9,171.7 77.2,171.5 77.5,172.0 77.8,169.7 78.0,171.7 78.1,171.4 78.4,169.6 78.7,170.8 79.0,172.5 79.3,170.5 79.6,171.5 79.9,170.6 80.2,169.8 80.5,169.6 80.8,169.9 81.1,171.4 81.4,170.8 81.7,169.1 82.0,170.6 82.3,169.3 82.6,168.7 82.9,169.6 83.0,168.2 83.2,167.4 83.5,170.3 83.8,167.0 84.1,169.3 84.4,167.0 84.7,168.3 85.0,167.9 85.3,167.5 85.6,165.9 85.9,167.7 86.2,168.9 86.5,166.7 86.8,167.4 87.1,168.2 87.4,166.5 87.7,167.2 88.0,165.7 88.3,167.2 88.6,167.3 88.9,169.1 89.2,167.4 89.5,166.9 89.8,167.7 90.1,165.2 90.4,167.0 90.7,165.6 91.0,165.6 91.3,167.7 91.6,166.5 91.9,167.6 92.2,164.7 92.5,166.2 92.8,165.4 93.1,165.7 93.4,164.1 93.7,166.9 94.0,166.0 94.3,164.5 94.6,164.1 94.9,164.5 95.2,166.8 95.5,165.3 95.8,165.2 96.1,166.0 96.4,165.5 96.7,165.5 97.0,165.9 97.3,165.5 97.6,166.0 97.9,163.9 98.2,165.0 98.5,164.6 98.8,164.8 99.1,164.4 99.4,163.7 99.7,164.0 100.0,165.3 100.3,163.9 100.5,163.4 100.6,165.3 100.9,165.6 101.2,164.4 101.5,164.5 101.8,163.5 102.1,164.0 102.4,165.2 102.7,164.9 103.0,164.1 103.3,163.7 103.6,162.3 103.8,164.2 103.9,161.9 104.2,156.6 104.5,160.4 104.8,161.8 105.0,164.4 105.1,162.2 105.4,164.5 105.7,164.1 106.0,164.7 106.3,163.8 106.6,163.7 106.9,164.5 107.2,162.5 107.5,163.6 107.8,164.1 108.1,162.2 108.4,161.9 108.7,163.4 109.0,163.1 109.3,163.5 109.6,163.5 109.9,162.0 110.0,163.0 110.2,163.6 110.5,162.0 110.8,162.0 111.1,161.1 111.4,164.0 111.7,164.0 112.0,160.6 112.3,162.5 112.6,162.4 112.9,160.9 113.0,161.1 113.2,160.8 113.5,161.5 113.8,162.6 114.1,163.5 114.4,163.2 114.7,164.2 115.0,163.8 115.3,162.8 115.6,165.7 115.9,165.7 116.0,164.0 116.2,166.4 116.5,165.1 116.8,164.8 117.1,166.4 117.4,161.9 117.7,162.8 118.0,165.0 118.3,164.1 118.6,163.5 118.9,165.9 119.2,164.8 119.5,163.1 119.8,163.7 120.0,165.0 120.1,165.7 120.4,161.4 120.7,162.9 121.0,161.5 121.3,159.5 121.6,160.3 121.9,158.2 122.0,158.9 122.2,160.9 122.5,159.5 122.8,159.6 123.1,159.1 123.4,158.6 123.7,158.8 124.0,157.3 124.3,157.5 124.6,159.0 124.9,157.7 125.2,158.5 125.5,160.4 125.8,161.1 126.1,159.4 126.4,159.6 126.5,161.2 126.7,160.6 127.0,159.3 127.3,160.1 127.6,158.9 127.9,158.5 128.2,160.8 128.5,158.9 128.8,157.9 129.1,157.6 129.4,159.1 129.7,157.0 130.0,154.8 130.3,155.8 130.6,155.8 130.9,155.2 131.2,156.1 131.5,156.3 131.8,156.1 132.0,155.8 132.1,157.3 132.4,155.6 132.7,158.5 133.0,158.4 133.3,159.3 133.6,157.3 133.9,161.7 134.0,158.6 134.2,159.7 134.5,161.5 134.8,160.6 135.1,161.3 135.4,159.9 135.7,162.0 136.0,162.9 136.3,163.6 136.6,162.7 136.9,163.4 137.0,163.8 137.2,162.7 137.5,162.4 137.8,164.9 138.1,162.0 138.4,163.6 138.7,162.1 139.0,163.3 139.3,159.8 139.6,159.6 139.9,158.1 140.2,156.3 140.5,155.5 140.8,153.1 141.0,153.1 141.1,153.0 141.4,154.9 141.7,154.9 142.0,154.6 142.3,156.4 142.6,157.6 142.9,157.4 143.0,160.0 143.2,159.7 143.5,161.0 143.8,160.5 144.1,162.0 144.4,164.3 144.7,162.9 145.0,165.7 145.3,166.4 145.5,166.4 145.6,167.0 145.9,165.5 146.2,167.5 146.5,166.2 146.8,166.3 147.1,169.0 147.4,167.2 147.7,165.8 148.0,169.0 148.3,166.5 148.6,163.1 148.9,165.7 149.2,166.0 149.5,164.8 149.8,165.5 150.0,163.3 150.1,163.9 150.4,161.8 150.7,162.6 151.0,163.4 151.3,161.9 151.6,161.3 151.9,158.8 152.0,160.2 152.2,159.7 152.5,162.2 152.8,160.7 153.1,162.3 153.4,161.4 153.7,164.8 154.0,162.2 154.3,163.9 154.6,166.6 154.9,164.3 155.2,161.6 155.5,165.0 155.8,165.6 156.0,165.6 156.1,162.7 156.4,164.1 156.7,161.1 157.0,164.3 157.3,161.8 157.6,160.5 157.9,160.9 158.2,160.1 158.5,157.7 158.8,159.6 159.0,157.3 159.1,155.9 159.4,159.7 159.7,160.4 160.0,160.9 160.3,160.9 160.6,160.0 160.9,162.4 161.0,163.3 161.2,163.0 161.5,164.7 161.8,163.4 162.1,166.1 162.4,167.1 162.7,165.7 163.0,166.7 163.3,168.6 163.5,170.2 163.6,171.8 163.9,170.1 164.2,170.5 164.5,171.9 164.8,171.0 165.1,171.8 165.4,172.1 165.7,171.9 166.0,172.4 166.3,171.5 166.6,172.6 166.9,171.3 167.2,173.3 167.5,171.7 167.8,172.2 168.1,171.2 168.4,171.8 168.7,172.5 169.0,172.3 169.3,171.6 169.6,171.1 169.9,172.1 170.0,172.2 170.2,172.7 170.5,173.4 170.8,171.8 171.1,170.4 171.4,172.2 171.7,170.5 172.0,171.2 172.3,173.7 172.6,172.9 172.9,171.7 173.2,171.6 173.5,172.8 173.8,170.3 174.1,172.5 174.4,171.7 174.7,173.8 175.0,171.0 175.3,173.1 175.6,171.5 175.9,173.1 176.2,171.3 176.5,172.9 176.8,172.0 177.1,171.6 177.4,172.5 177.7,173.2 178.0,173.2 178.3,174.3 178.6,173.5 178.9,170.0 179.2,172.2 179.5,170.6 179.8,172.1 180.0,173.1 180.1,171.2 180.4,171.3 180.7,172.6 181.0,172.3 181.3,174.1 181.6,172.7 181.9,172.9 182.2,174.1 182.5,171.8 182.8,172.5 183.1,171.5 183.4,172.6 183.7,173.5 184.0,173.8 184.3,172.3 184.6,171.9 184.9,172.1 185.2,171.5 185.5,173.1 185.8,174.3 186.1,170.5 186.4,171.6 186.7,174.0 187.0,170.9 187.3,172.8 187.5,171.2" fill="none" stroke="#3ce8e8" stroke-width="0.55" stroke-linejoin="round"/>
<path d="M41.5,172.4 42.3,171.5 43.0,169.9 43.1,170.6 43.9,170.6 44.7,171.6 45.5,171.7 46.3,172.6 47.1,172.8 47.9,173.3 48.7,173.9 49.2,174.6 49.5,174.2 50.3,174.1 51.1,175.4 51.9,174.8 52.7,174.5 53.5,174.5 54.2,174.5 55.1,175.6 55.9,176.6 56.7,175.9 57.5,176.7 58.3,176.5 59.1,177.8 59.2,177.6 59.9,177.3 60.7,177.3 61.5,176.9 62.3,176.2 63.0,175.3 63.1,175.0 63.9,174.8 64.7,174.3 65.5,175.3 66.3,174.2 67.1,174.2 67.9,174.0 68.7,174.3 69.5,173.1 70.3,173.4 70.5,173.0 71.1,172.8 71.9,172.1 72.7,173.0 73.5,172.3 74.3,172.3 75.1,172.4 75.9,172.2 76.7,172.5 77.5,171.6 78.0,171.8 78.3,171.7 79.1,171.2 79.9,171.0 80.7,170.2 81.5,170.4 82.3,169.3 83.0,168.7 83.1,169.2 83.9,169.3 84.7,168.2 85.5,167.8 86.3,167.4 87.1,167.2 87.9,166.7 88.0,166.8 88.7,166.0 89.5,167.0 90.3,166.6 91.1,165.9 91.9,166.5 92.7,166.0 93.5,166.3 94.3,165.3 95.1,166.2 95.5,165.3 95.9,164.8 96.7,165.6 97.5,165.0 98.3,164.6 99.1,164.7 99.9,163.9 100.5,164.8 100.7,164.4 101.5,164.3 102.3,164.8 103.1,164.1 103.8,163.7 103.9,161.2 104.2,155.9 104.7,160.8 105.0,163.3 105.5,163.3 106.3,163.6 107.1,163.2 107.9,162.9 108.7,163.5 109.5,162.2 110.0,162.6 110.3,161.8 111.1,162.1 111.9,162.1 112.7,162.0 113.0,161.1 113.5,162.4 114.3,163.3 115.1,163.8 115.9,165.6 116.0,164.8 116.7,164.4 117.5,164.7 118.3,163.8 119.1,165.3 119.9,164.7 120.0,164.1 120.7,162.8 121.5,160.9 122.0,160.1 122.3,158.9 123.1,157.9 123.9,156.8 124.0,157.3 124.7,157.7 125.5,159.2 126.3,160.4 126.5,160.3 127.1,159.2 127.9,158.8 128.7,157.1 129.5,156.1 130.0,155.6 130.3,154.9 131.1,155.4 131.9,157.1 132.0,156.2 132.7,157.4 133.5,159.4 134.0,160.3 134.3,160.3 135.1,161.4 135.9,162.4 136.7,163.1 137.0,163.7 137.5,162.4 138.3,161.7 139.0,161.8 139.1,160.9 139.9,158.1 140.7,154.6 141.0,152.7 141.5,154.8 142.3,156.3 143.0,158.6 143.1,159.3 143.9,162.3 144.7,164.1 145.5,167.0 146.3,167.2 147.1,167.7 147.9,166.8 148.0,167.6 148.7,166.4 149.5,164.8 150.0,163.3 150.3,163.4 151.1,162.3 151.9,160.7 152.0,160.4 152.7,161.3 153.5,162.7 154.0,163.9 154.3,164.1 155.1,163.9 155.9,164.3 156.0,164.4 156.7,163.3 157.5,161.1 158.3,159.3 159.0,157.7 159.1,157.8 159.9,159.2 160.7,160.6 161.0,161.3 161.5,163.3 162.3,166.7 163.1,168.6 163.5,169.8 163.9,170.8 164.7,170.7 165.5,171.6 166.0,171.9 166.3,171.7 167.1,171.5 167.9,171.9 168.7,171.8 169.5,172.4 170.0,171.7 170.3,171.9 171.1,172.3 171.9,172.0 172.7,172.2 173.5,172.3 174.3,171.4 175.0,172.1 175.1,171.7 175.9,172.6 176.7,172.2 177.5,172.5 178.3,173.0 179.1,172.3 179.9,172.6 180.0,172.7 180.7,172.3 181.5,172.9 182.3,172.7 183.1,172.8 183.9,172.5 184.7,172.3 185.5,172.4 186.3,172.4 187.1,172.0 187.5,172.7" fill="none" stroke="#3ce8e8" stroke-width="0.45" stroke-linejoin="round"/>
<path d="M41.0,207.0 41.2,199.5 41.5,203.5 41.6,209.7 41.9,205.4 42.0,202.2 42.2,205.8 42.5,202.8 42.8,203.2 43.0,201.6 43.1,204.0 43.4,203.5 43.7,204.4 44.0,207.8 44.3,206.1 44.6,203.3 44.9,206.2 45.0,206.1 45.2,203.9 45.5,204.6 45.8,203.1 46.1,205.1 46.4,205.9 46.7,206.8 47.0,205.8 47.3,209.2 47.6,205.8 47.9,206.2 48.0,209.3 48.2,209.8 48.5,207.2 48.8,207.2 49.1,206.2 49.4,208.9 49.7,207.7 50.0,207.1 50.3,208.0 50.6,209.2 50.9,208.4 51.2,210.2 51.5,208.9 51.8,208.2 52.1,206.6 52.4,208.3 52.7,209.1 53.0,208.9 53.3,209.1 53.6,208.3 53.9,208.9 54.2,209.3 54.5,207.8 54.8,206.5 55.0,209.7 55.1,208.4 55.4,207.4 55.7,208.1 56.0,207.6 56.3,206.2 56.6,207.9 56.9,206.7 57.2,208.6 57.5,208.4 57.8,209.8 58.0,208.5 58.1,208.3 58.4,207.8 58.7,207.4 59.0,206.1 59.3,208.3 59.6,207.4 59.9,206.6 60.0,207.3 60.2,206.7 60.5,206.3 60.8,207.1 61.1,208.0 61.4,206.5 61.7,205.2 62.0,206.0 62.3,208.6 62.6,206.0 62.9,208.0 63.2,206.6 63.5,207.6 63.8,206.6 64.1,205.0 64.4,206.0 64.7,208.6 65.0,206.2 65.3,206.8 65.6,207.1 65.9,206.0 66.2,206.4 66.5,206.6 66.8,208.5 67.1,206.3 67.4,206.2 67.7,205.6 68.0,204.8 68.3,204.3 68.6,206.4 68.9,203.8 69.2,206.9 69.5,206.5 69.8,205.3 70.0,204.4 70.1,205.5 70.4,205.5 70.7,206.5 71.0,204.4 71.3,204.6 71.6,205.0 71.9,204.7 72.2,204.1 72.5,203.0 72.8,202.9 73.1,203.8 73.4,204.2 73.7,205.4 74.0,206.7 74.3,206.1 74.6,204.7 74.9,206.1 75.0,204.1 75.2,203.6 75.5,206.3 75.8,202.8 76.1,203.3 76.4,203.3 76.7,205.0 77.0,202.8 77.3,204.0 77.6,201.3 77.9,201.7 78.2,202.9 78.5,202.7 78.8,201.3 79.1,201.3 79.4,201.2 79.7,202.7 80.0,202.4 80.3,202.1 80.6,202.2 80.9,201.2 81.2,202.8 81.5,200.8 81.8,199.9 82.1,200.4 82.4,202.6 82.7,200.8 83.0,201.5 83.3,198.5 83.6,199.7 83.9,200.2 84.2,198.8 84.5,200.0 84.8,199.1 85.0,198.2 85.1,200.4 85.4,197.7 85.7,200.0 86.0,198.6 86.3,198.0 86.6,198.0 86.9,197.5 87.2,197.9 87.5,199.0 87.8,196.7 88.1,199.7 88.4,199.1 88.7,199.4 89.0,196.9 89.3,195.4 89.6,196.9 89.9,197.3 90.0,197.8 90.2,196.8 90.5,197.2 90.8,197.5 91.1,195.7 91.4,199.1 91.7,196.1 92.0,197.4 92.3,198.0 92.6,196.2 92.9,196.8 93.2,198.5 93.5,196.6 93.8,198.0 94.1,197.1 94.4,197.4 94.7,197.3 95.0,196.2 95.3,196.1 95.6,197.4 95.9,196.5 96.2,196.7 96.5,194.9 96.8,196.1 97.1,197.0 97.4,196.6 97.7,196.2 98.0,195.4 98.3,195.1 98.6,196.6 98.9,197.3 99.2,195.8 99.5,196.9 99.8,195.3 100.0,196.8 100.1,194.5 100.4,195.7 100.7,194.4 101.0,196.1 101.3,196.0 101.6,194.4 101.9,194.5 102.2,194.7 102.5,193.6 102.8,194.0 103.0,194.1 103.1,193.9 103.4,194.6 103.7,191.6 104.0,187.9 104.3,192.1 104.6,192.5 104.9,193.7 105.0,195.2 105.2,194.4 105.5,194.1 105.8,193.5 106.1,195.5 106.4,193.3 106.7,194.1 107.0,192.8 107.3,193.2 107.6,193.7 107.9,193.2 108.2,194.0 108.5,193.4 108.8,192.0 109.1,191.0 109.4,194.3 109.7,192.7 110.0,194.8 110.3,193.3 110.6,192.5 110.9,193.7 111.2,192.8 111.5,193.1 111.8,192.2 112.1,193.6 112.4,194.0 112.7,192.3 113.0,194.6 113.3,192.1 113.6,192.8 113.9,190.8 114.0,190.5 114.2,194.8 114.5,194.8 114.8,195.0 115.1,192.7 115.4,195.1 115.7,195.8 116.0,195.8 116.3,196.4 116.6,195.5 116.9,196.7 117.2,196.1 117.5,197.1 117.8,198.1 118.0,194.8 118.1,197.3 118.4,196.8 118.7,197.1 119.0,197.8 119.3,196.9 119.6,196.9 119.9,195.0 120.0,196.1 120.2,196.9 120.5,194.6 120.8,194.5 121.1,193.3 121.4,195.0 121.7,192.6 122.0,191.8 122.3,192.5 122.6,192.5 122.9,191.9 123.0,191.4 123.2,190.6 123.5,190.6 123.8,190.4 124.1,190.7 124.4,191.0 124.7,192.4 125.0,190.4 125.3,190.7 125.6,191.1 125.9,189.4 126.2,187.4 126.5,187.4 126.8,189.3 127.0,190.2 127.1,192.0 127.4,190.1 127.7,189.5 128.0,189.0 128.3,190.3 128.6,188.6 128.9,189.3 129.2,187.6 129.5,187.4 129.8,187.4 130.0,187.4 130.1,187.4 130.4,187.4 130.7,187.4 131.0,187.4 131.3,187.4 131.6,187.4 131.9,188.5 132.0,188.4 132.2,188.0 132.5,188.7 132.8,188.4 133.1,191.4 133.4,190.8 133.7,192.0 134.0,190.3 134.3,191.2 134.6,192.2 134.9,191.6 135.2,192.0 135.5,191.1 135.8,193.6 136.1,193.2 136.4,194.3 136.7,193.9 137.0,192.8 137.3,195.0 137.6,195.4 137.9,192.9 138.2,192.9 138.5,196.1 138.8,193.1 139.0,190.5 139.1,194.6 139.4,193.2 139.7,190.7 140.0,188.9 140.3,190.4 140.6,191.4 140.9,189.5 141.2,189.2 141.5,187.4 141.8,188.0 142.1,187.4 142.4,190.8 142.7,190.1 143.0,188.1 143.3,189.6 143.6,193.0 143.9,193.9 144.2,194.3 144.5,196.3 144.8,198.6 145.1,197.9 145.4,196.5 145.5,198.5 145.7,197.4 146.0,198.1 146.3,199.4 146.6,199.1 146.9,198.3 147.2,199.4 147.5,198.7 147.8,200.2 148.0,199.6 148.1,200.2 148.4,198.9 148.7,198.7 149.0,198.2 149.3,197.9 149.6,197.0 149.9,197.4 150.0,195.3 150.2,199.4 150.5,195.6 150.8,195.9 151.1,194.7 151.4,194.3 151.7,194.7 152.0,192.4 152.3,193.5 152.6,192.9 152.9,193.6 153.2,193.7 153.5,197.2 153.8,194.6 154.0,195.1 154.1,196.6 154.4,198.0 154.7,195.1 155.0,195.4 155.3,197.3 155.6,197.7 155.9,196.3 156.0,196.0 156.2,196.5 156.5,197.6 156.8,196.1 157.1,195.1 157.4,194.8 157.7,194.1 158.0,194.1 158.3,192.7 158.6,192.6 158.9,190.8 159.0,190.9 159.2,192.3 159.5,192.2 159.8,192.1 160.1,194.1 160.4,194.3 160.7,194.2 161.0,193.9 161.3,196.2 161.6,198.6 161.9,196.1 162.2,196.2 162.5,197.9 162.8,198.5 163.1,199.1 163.4,200.1 163.5,202.3 163.7,202.4 164.0,203.2 164.3,202.3 164.6,200.9 164.9,203.4 165.2,201.8 165.5,202.4 165.8,201.9 166.0,204.3 166.1,204.2 166.4,202.9 166.7,203.1 167.0,203.3 167.3,203.7 167.6,204.3 167.9,203.7 168.2,204.0 168.5,202.4 168.8,203.8 169.1,202.6 169.4,206.0 169.7,205.9 170.0,205.3 170.3,205.4 170.6,206.0 170.9,205.6 171.2,202.6 171.5,203.9 171.8,201.9 172.1,203.5 172.4,203.1 172.7,204.2 173.0,204.6 173.3,203.3 173.6,203.9 173.9,204.4 174.2,204.0 174.5,203.8 174.8,201.6 175.0,203.6 175.1,204.8 175.4,204.3 175.7,202.6 176.0,203.7 176.3,204.1 176.6,202.9 176.9,204.5 177.2,203.0 177.5,203.4 177.8,203.8 178.1,206.0 178.4,203.3 178.7,203.0 179.0,204.3 179.3,203.1 179.6,203.7 179.9,201.2 180.0,203.8 180.2,203.4 180.5,202.1 180.8,204.8 181.1,203.3 181.4,203.4 181.7,202.3 182.0,202.1 182.3,203.2 182.6,202.4 182.9,204.2 183.2,204.6 183.5,203.0 183.8,202.0 184.1,203.0 184.4,202.3 184.7,203.6 185.0,203.4 185.3,202.8 185.6,203.3 185.9,204.3 186.2,204.9 186.5,202.7 186.8,204.0 187.1,203.1 187.4,202.3 187.5,204.6" fill="none" stroke="#4040ee" stroke-width="0.55" stroke-linejoin="round"/>
<path d="M41.0,205.0 41.2,201.8 41.5,209.4 41.8,205.7 42.0,203.5 42.6,203.0 43.0,203.1 43.4,205.0 44.0,205.5 44.2,206.4 45.0,205.3 45.8,205.4 46.6,205.6 47.4,206.8 48.0,206.8 48.2,206.8 49.0,206.6 49.8,207.9 50.0,207.6 50.6,207.7 51.4,207.8 52.2,207.9 53.0,207.9 53.8,208.2 54.6,208.0 55.0,207.2 55.4,208.4 56.2,208.4 57.0,208.4 57.8,209.0 58.0,208.0 58.6,207.1 59.4,208.0 60.0,207.2 60.2,206.4 61.0,206.8 61.8,207.0 62.6,206.3 63.4,206.8 64.2,207.3 65.0,207.0 65.8,206.4 66.6,206.3 67.4,205.7 68.2,205.9 69.0,205.6 69.8,205.2 70.0,205.1 70.6,206.0 71.4,205.1 72.2,204.5 73.0,204.5 73.8,204.9 74.6,204.7 75.0,203.8 75.4,204.0 76.2,203.9 77.0,203.2 77.8,202.6 78.6,202.3 79.4,202.3 80.0,201.8 80.2,201.5 81.0,201.5 81.8,201.4 82.6,201.0 83.4,200.3 84.2,200.6 85.0,199.2 85.8,199.2 86.6,198.4 87.4,198.8 88.2,198.2 89.0,197.3 89.8,197.9 90.0,198.2 90.6,197.8 91.4,197.4 92.2,197.4 93.0,196.4 93.8,196.5 94.6,196.1 95.0,196.2 95.4,196.3 96.2,196.4 97.0,196.4 97.8,196.3 98.6,196.7 99.4,195.4 100.0,195.5 100.2,195.6 101.0,195.0 101.8,195.0 102.6,195.2 103.0,194.2 103.4,193.4 104.0,191.0 104.2,190.9 105.0,193.3 105.8,194.0 106.6,193.6 107.4,194.0 108.2,193.6 109.0,193.8 109.8,194.0 110.0,193.8 110.6,193.3 111.4,192.8 112.2,192.2 113.0,192.2 113.8,192.4 114.0,192.6 114.6,193.3 115.4,194.5 116.0,195.0 116.2,195.2 117.0,196.1 117.8,197.8 118.0,197.2 118.6,197.7 119.4,196.6 120.0,196.9 120.2,196.2 121.0,194.7 121.8,193.2 122.6,190.8 123.0,190.4 123.4,190.4 124.2,191.0 125.0,192.1 125.8,189.6 126.5,188.1 126.6,188.7 127.0,191.8 127.4,191.7 128.2,189.0 129.0,188.1 129.8,186.6 130.0,185.7 130.6,186.1 131.4,187.2 132.0,187.1 132.2,186.9 133.0,188.3 133.8,190.3 134.0,189.9 134.6,191.5 135.4,192.7 136.2,193.2 137.0,194.7 137.8,193.6 138.6,193.2 139.0,192.8 139.4,192.3 140.2,189.7 141.0,188.3 141.5,187.2 141.8,188.0 142.6,188.7 143.0,189.6 143.4,191.3 144.2,194.3 145.0,197.1 145.5,198.8 145.8,199.5 146.6,199.4 147.4,199.6 148.0,199.8 148.2,199.7 149.0,198.6 149.8,197.5 150.0,197.0 150.6,196.2 151.4,195.1 152.0,193.2 152.2,193.0 153.0,195.0 153.8,195.9 154.0,195.9 154.6,196.8 155.4,198.1 156.0,197.6 156.2,196.9 157.0,195.5 157.8,194.1 158.6,192.1 159.0,191.3 159.4,192.1 160.2,193.1 161.0,194.5 161.8,196.7 162.6,198.5 163.4,201.2 163.5,201.0 164.2,202.1 165.0,202.0 165.8,202.7 166.0,202.3 166.6,203.1 167.4,203.1 168.2,204.4 169.0,204.2 169.8,204.7 170.0,204.0 170.6,204.1 171.4,204.4 172.2,203.9 173.0,204.6 173.8,204.0 174.6,204.1 175.0,204.0 175.4,203.8 176.2,204.1 177.0,203.6 177.8,203.8 178.6,204.0 179.4,203.6 180.0,203.5 180.2,203.4 181.0,203.6 181.8,203.7 182.6,203.4 183.4,202.8 184.2,203.4 185.0,203.2 185.8,203.4 186.6,203.3 187.4,203.8 187.5,202.8" fill="none" stroke="#4040ee" stroke-width="0.45" stroke-linejoin="round"/>
<path d="M41.5,245.9 41.8,242.4 42.1,242.8 42.4,243.1 42.7,240.0 43.0,241.3 43.3,240.8 43.6,238.2 43.9,239.8 44.2,240.9 44.5,244.1 44.8,243.3 45.0,245.0 45.1,243.1 45.4,241.8 45.7,246.5 46.0,247.6 46.3,244.4 46.6,243.6 46.9,245.8 47.2,243.0 47.5,244.2 47.8,242.8 48.0,245.3 48.1,244.9 48.4,244.2 48.7,243.9 49.0,243.1 49.3,245.1 49.6,246.4 49.9,244.7 50.2,247.8 50.5,244.2 50.8,245.1 51.1,244.7 51.4,244.9 51.7,245.9 52.0,242.9 52.3,245.9 52.6,246.1 52.9,245.1 53.0,245.4 53.2,245.1 53.5,246.1 53.8,245.7 54.1,244.8 54.4,245.9 54.7,246.8 55.0,246.3 55.3,245.8 55.6,246.0 55.9,245.4 56.2,245.3 56.5,244.0 56.8,246.0 57.1,247.1 57.4,245.7 57.7,245.4 58.0,247.1 58.3,246.3 58.6,246.3 58.9,246.7 59.2,247.0 59.5,246.2 59.8,245.3 60.1,248.0 60.4,246.2 60.7,245.3 61.0,246.2 61.3,247.1 61.6,244.2 61.9,246.6 62.2,244.8 62.5,248.1 62.8,245.4 63.0,244.6 63.1,245.9 63.4,245.9 63.7,244.0 64.0,244.6 64.3,243.9 64.6,245.3 64.9,242.9 65.2,244.3 65.5,242.2 65.8,244.8 66.1,242.1 66.4,243.2 66.7,244.4 67.0,243.8 67.3,243.7 67.6,243.2 67.9,243.6 68.2,242.3 68.5,244.2 68.8,244.5 69.1,244.3 69.4,243.6 69.7,244.7 70.0,243.8 70.3,244.3 70.5,243.9 70.6,243.4 70.9,242.7 71.2,240.9 71.5,243.9 71.8,242.9 72.1,244.9 72.4,241.0 72.7,242.3 73.0,240.9 73.3,242.7 73.6,241.7 73.9,242.8 74.2,242.5 74.5,243.1 74.8,242.3 75.1,242.4 75.4,243.1 75.7,242.1 76.0,241.4 76.3,242.7 76.6,241.3 76.9,241.6 77.2,240.8 77.5,240.4 77.8,237.9 78.0,241.4 78.1,239.6 78.4,241.3 78.7,242.3 79.0,237.0 79.3,241.3 79.6,240.2 79.9,241.3 80.2,238.8 80.5,239.7 80.8,239.0 81.1,241.1 81.4,241.8 81.7,240.0 82.0,239.2 82.3,241.5 82.6,239.1 82.9,238.9 83.0,238.9 83.2,239.1 83.5,239.3 83.8,238.1 84.1,238.4 84.4,240.3 84.7,239.9 85.0,238.6 85.3,238.2 85.6,237.8 85.9,238.9 86.2,237.4 86.5,238.0 86.8,237.3 87.1,236.9 87.4,237.6 87.7,237.4 88.0,236.7 88.3,237.3 88.6,237.4 88.9,236.7 89.2,236.5 89.5,237.0 89.8,237.8 90.1,238.0 90.4,237.1 90.7,236.5 91.0,236.5 91.3,238.2 91.6,237.3 91.9,235.4 92.2,236.4 92.5,235.8 92.8,236.0 93.1,234.6 93.4,236.2 93.7,234.6 94.0,235.3 94.3,237.2 94.6,236.7 94.9,234.9 95.2,234.7 95.5,234.7 95.8,233.8 96.1,234.5 96.4,235.3 96.7,234.5 97.0,236.2 97.3,235.2 97.6,234.7 97.9,236.6 98.2,235.7 98.5,234.9 98.8,236.8 99.1,236.1 99.4,234.1 99.7,234.9 100.0,234.2 100.3,233.1 100.6,236.5 100.9,236.1 101.2,233.4 101.5,234.9 101.8,232.8 102.1,235.2 102.4,234.0 102.7,233.6 103.0,235.0 103.3,232.1 103.6,230.0 103.9,229.3 104.2,226.3 104.5,228.6 104.8,229.2 105.1,231.7 105.4,233.1 105.5,233.8 105.7,232.3 106.0,235.1 106.3,233.2 106.6,235.0 106.9,232.8 107.2,233.1 107.5,233.2 107.8,234.4 108.1,232.9 108.4,233.6 108.7,231.8 109.0,232.9 109.3,233.7 109.6,233.6 109.9,232.0 110.0,234.4 110.2,232.9 110.5,235.6 110.8,233.5 111.1,235.6 111.4,233.9 111.7,233.6 112.0,232.6 112.3,232.8 112.6,233.2 112.9,230.7 113.0,233.5 113.2,231.7 113.5,232.9 113.8,231.0 114.1,234.4 114.4,235.1 114.7,235.1 115.0,235.6 115.3,234.8 115.6,235.4 115.9,236.4 116.2,234.9 116.5,235.6 116.8,235.8 117.1,234.7 117.4,235.2 117.7,234.9 118.0,234.1 118.3,237.0 118.6,234.3 118.9,236.0 119.2,235.4 119.5,232.3 119.8,234.4 120.0,235.1 120.1,234.8 120.4,232.4 120.7,232.9 121.0,230.9 121.3,230.2 121.6,230.2 121.9,229.8 122.0,231.1 122.2,229.7 122.5,230.5 122.8,228.3 123.1,228.4 123.4,228.9 123.7,231.1 124.0,228.1 124.3,228.7 124.6,229.1 124.9,230.2 125.0,227.4 125.2,228.8 125.5,228.0 125.8,231.0 126.1,230.7 126.4,230.6 126.7,230.5 127.0,230.6 127.3,230.7 127.6,229.6 127.9,229.2 128.2,228.8 128.5,229.7 128.8,228.8 129.0,230.0 129.1,227.7 129.4,229.3 129.7,229.1 130.0,229.4 130.3,227.8 130.6,226.4 130.9,226.8 131.2,228.6 131.5,227.0 131.8,227.1 132.1,227.5 132.4,228.3 132.7,228.6 133.0,227.6 133.3,229.0 133.6,230.9 133.9,231.6 134.2,228.7 134.5,230.3 134.8,232.4 135.0,231.2 135.1,230.3 135.4,231.5 135.7,232.5 136.0,233.8 136.3,232.2 136.6,233.4 136.9,233.0 137.0,234.6 137.2,233.5 137.5,233.0 137.8,231.3 138.1,231.5 138.4,231.8 138.5,227.5 138.7,231.2 139.0,229.4 139.3,228.1 139.6,226.9 139.9,226.2 140.2,225.3 140.5,222.9 140.8,223.4 141.0,222.8 141.1,223.2 141.4,223.1 141.7,225.6 142.0,225.8 142.3,228.5 142.5,230.3 142.6,230.1 142.9,229.8 143.2,230.4 143.5,231.6 143.8,233.4 144.1,233.5 144.4,234.6 144.5,233.1 144.7,234.6 145.0,234.8 145.3,235.1 145.6,236.9 145.9,234.6 146.2,234.8 146.5,236.9 146.8,235.6 147.0,236.5 147.1,236.8 147.4,236.5 147.7,235.5 148.0,236.9 148.3,237.5 148.6,234.7 148.9,235.3 149.2,236.4 149.5,235.2 149.8,234.4 150.0,234.8 150.1,235.9 150.4,233.7 150.7,234.5 151.0,234.4 151.3,232.9 151.6,233.7 151.9,233.6 152.0,233.7 152.2,232.9 152.5,229.4 152.8,230.6 153.0,229.5 153.1,230.1 153.4,228.5 153.7,230.7 154.0,230.5 154.3,229.4 154.6,232.3 154.9,230.9 155.0,230.7 155.2,232.5 155.5,232.1 155.8,233.6 156.1,233.6 156.4,234.6 156.5,235.2 156.7,233.9 157.0,234.1 157.3,233.4 157.6,231.3 157.9,232.6 158.2,231.5 158.5,230.5 158.8,231.5 159.1,230.9 159.4,229.5 159.7,226.8 160.0,227.9 160.3,227.9 160.6,228.2 160.9,229.3 161.2,229.2 161.5,231.6 161.8,230.8 162.0,230.8 162.1,232.0 162.4,233.5 162.7,235.2 163.0,236.1 163.3,236.9 163.5,238.0 163.6,235.6 163.9,236.4 164.2,239.0 164.5,237.7 164.8,239.9 165.1,240.2 165.4,237.5 165.7,239.1 166.0,241.9 166.3,238.4 166.6,239.5 166.9,238.6 167.2,238.6 167.5,238.6 167.8,239.1 168.1,239.9 168.4,238.8 168.7,240.2 169.0,238.9 169.3,240.1 169.6,239.9 169.9,238.8 170.0,239.6 170.2,238.9 170.5,238.8 170.8,240.7 171.1,237.7 171.4,240.0 171.7,240.1 172.0,238.6 172.3,240.3 172.6,240.2 172.9,238.2 173.2,240.0 173.5,240.1 173.8,239.1 174.1,240.3 174.4,240.5 174.7,239.1 175.0,237.8 175.3,239.9 175.6,238.7 175.9,237.7 176.2,239.1 176.5,237.2 176.8,239.2 177.1,241.0 177.4,236.6 177.7,239.7 178.0,238.4 178.3,238.9 178.6,238.2 178.9,239.8 179.2,239.2 179.5,238.4 179.8,237.8 180.0,238.8 180.1,240.6 180.4,238.1 180.7,239.7 181.0,239.8 181.3,237.5 181.6,240.4 181.9,239.5 182.2,241.8 182.5,241.2 182.8,239.3 183.1,239.5 183.4,238.6 183.7,238.3 184.0,240.4 184.3,239.3 184.6,239.1 184.9,239.3 185.2,240.0 185.5,240.5 185.8,239.4 186.1,239.2 186.4,239.6 186.7,241.5 187.0,237.4 187.3,238.3 187.5,239.9" fill="none" stroke="#44e844" stroke-width="0.55" stroke-linejoin="round"/>
<path d="M41.5,243.1 42.3,241.4 43.0,239.9 43.1,240.2 43.9,241.3 44.7,242.8 45.0,243.1 45.5,244.2 46.3,244.0 47.1,244.7 47.9,244.5 48.0,244.8 48.7,244.7 49.5,245.0 50.3,245.2 51.1,245.7 51.9,244.9 52.7,245.5 53.0,245.2 53.5,245.4 54.3,246.3 55.1,246.1 55.9,245.9 56.7,246.6 57.5,246.2 58.3,246.8 59.1,246.3 59.2,246.7 59.9,246.1 60.7,245.8 61.5,245.3 62.3,244.8 63.0,244.8 63.1,245.2 63.9,244.5 64.7,244.4 65.5,243.8 66.3,244.0 67.1,244.3 67.9,244.1 68.7,243.0 69.5,243.4 70.3,243.2 70.5,243.8 71.1,243.7 71.9,242.7 72.7,242.6 73.5,242.5 74.3,242.1 75.1,242.3 75.9,242.1 76.7,241.7 77.5,241.7 78.0,241.4 78.3,241.0 79.1,240.5 79.9,240.1 80.7,240.3 81.5,240.0 82.3,239.6 83.0,238.9 83.1,238.8 83.9,239.3 84.7,238.8 85.5,238.3 86.3,237.9 87.1,237.2 87.9,237.4 88.0,237.3 88.7,236.7 89.5,237.5 90.3,236.3 91.1,236.8 91.9,236.2 92.7,236.2 93.5,235.7 94.3,235.6 95.1,235.9 95.5,235.5 95.9,235.3 96.7,235.6 97.5,235.4 98.3,235.1 99.1,234.9 99.9,235.2 100.7,234.4 101.5,234.4 102.3,234.3 103.0,233.5 103.1,232.7 103.9,228.6 104.2,226.8 104.7,228.9 105.5,232.8 106.3,232.8 107.1,233.5 107.9,233.3 108.7,233.0 109.5,233.9 110.0,233.9 110.3,233.8 111.1,233.8 111.9,233.6 112.7,233.1 113.0,232.7 113.5,232.7 114.3,234.6 115.0,235.3 115.1,235.7 115.9,235.6 116.7,235.2 117.5,235.4 118.0,234.8 118.3,234.8 119.1,234.3 119.9,234.2 120.0,234.4 120.7,233.0 121.5,230.5 122.0,229.9 122.3,230.4 123.1,229.0 123.9,229.1 124.7,229.2 125.0,229.5 125.5,230.3 126.3,230.7 127.0,231.0 127.1,230.6 127.9,229.6 128.7,229.3 129.0,229.1 129.5,228.3 130.3,228.7 131.1,227.5 131.5,227.7 131.9,227.9 132.7,228.3 133.0,229.0 133.5,229.6 134.3,231.1 135.0,231.7 135.1,231.4 135.9,233.1 136.7,233.3 137.0,232.9 137.5,231.8 138.3,231.7 138.5,231.1 139.1,229.0 139.9,225.9 140.7,222.2 141.0,221.9 141.5,225.6 142.3,228.8 142.5,228.9 143.1,231.5 143.9,232.7 144.5,235.4 144.7,235.5 145.5,235.4 146.3,236.0 147.0,236.2 147.1,236.5 147.9,236.6 148.7,235.4 149.5,235.6 150.0,235.6 150.3,234.0 151.1,234.5 151.9,232.8 152.0,232.3 152.7,230.0 153.0,228.8 153.5,229.7 154.3,230.7 155.0,230.7 155.1,232.1 155.9,233.8 156.5,234.0 156.7,234.4 157.5,232.7 158.3,230.9 158.5,230.6 159.1,228.5 159.9,227.9 160.0,227.1 160.7,229.6 161.5,229.8 162.0,230.6 162.3,232.7 163.1,236.0 163.5,237.6 163.9,237.8 164.7,238.5 165.5,238.8 166.0,238.8 166.3,238.8 167.1,238.9 167.9,239.2 168.7,239.4 169.5,239.0 170.0,239.7 170.3,239.1 171.1,239.4 171.9,239.4 172.7,239.5 173.5,240.0 174.3,240.0 175.0,239.9 175.1,240.1 175.9,239.4 176.7,240.0 177.5,240.6 178.3,239.6 179.1,239.6 179.9,239.0 180.0,239.3 180.7,239.4 181.5,240.9 182.3,239.4 183.1,239.1 183.9,239.1 184.7,239.6 185.5,239.1 186.3,239.1 187.1,239.5 187.5,239.6" fill="none" stroke="#44e844" stroke-width="0.45" stroke-linejoin="round"/>
<path d="M41.5,275.0 41.8,272.0 42.1,272.9 42.4,273.3 42.5,270.5 42.7,274.5 43.0,271.3 43.3,273.8 43.6,276.6 43.9,280.2 44.2,273.1 44.5,276.4 44.8,279.8 45.1,275.3 45.4,277.9 45.7,276.9 46.0,275.0 46.3,277.8 46.6,276.4 46.8,277.8 46.9,275.5 47.2,278.4 47.5,274.6 47.8,277.5 48.1,278.0 48.4,278.8 48.7,277.8 49.0,277.8 49.3,277.6 49.6,281.5 49.9,278.2 50.2,278.5 50.5,277.7 50.8,278.1 51.1,279.3 51.4,278.0 51.7,277.8 52.0,278.4 52.3,278.6 52.6,279.2 52.9,278.4 53.2,278.9 53.5,278.3 53.8,280.5 54.1,279.6 54.4,279.3 54.7,279.9 55.0,279.5 55.3,278.0 55.5,279.4 55.6,281.4 55.9,280.2 56.2,281.1 56.5,279.4 56.8,278.6 57.1,279.5 57.4,281.6 57.7,279.2 58.0,279.3 58.3,281.3 58.6,279.7 58.9,280.2 59.2,280.9 59.5,280.5 59.8,280.0 60.1,280.4 60.4,279.3 60.7,279.8 61.0,280.5 61.3,278.6 61.6,279.4 61.9,278.3 62.2,280.1 62.5,280.0 62.8,280.2 63.0,280.1 63.1,280.1 63.4,279.6 63.7,277.9 64.0,279.7 64.3,277.9 64.6,281.3 64.9,279.2 65.2,279.6 65.5,277.7 65.8,279.9 66.1,279.9 66.4,277.1 66.7,278.0 67.0,276.4 67.3,277.7 67.6,279.6 67.9,280.3 68.2,277.1 68.5,279.2 68.8,278.1 69.1,279.8 69.4,275.9 69.7,277.9 70.0,279.5 70.3,277.3 70.5,279.2 70.6,277.6 70.9,279.0 71.2,280.0 71.5,277.5 71.8,277.1 72.1,277.6 72.4,278.9 72.7,277.6 73.0,276.9 73.3,280.6 73.6,275.6 73.9,276.3 74.2,277.5 74.5,275.6 74.8,276.6 75.1,276.1 75.4,274.8 75.7,276.6 76.0,275.0 76.3,275.2 76.6,277.0 76.9,274.6 77.2,277.8 77.5,276.8 77.8,276.6 78.0,276.1 78.1,275.4 78.4,274.2 78.7,275.6 79.0,275.8 79.3,274.7 79.6,274.1 79.9,275.8 80.2,273.7 80.5,275.0 80.8,273.8 81.1,272.5 81.4,275.6 81.7,274.5 82.0,274.4 82.3,272.4 82.6,273.7 82.9,273.9 83.0,272.8 83.2,275.2 83.5,271.4 83.8,274.0 84.1,271.3 84.4,271.6 84.7,271.6 85.0,273.3 85.3,271.9 85.6,271.8 85.9,271.4 86.2,270.7 86.5,271.4 86.8,271.1 87.1,271.6 87.4,271.4 87.7,269.2 88.0,270.7 88.3,272.5 88.6,270.8 88.9,271.1 89.2,270.4 89.5,270.4 89.8,270.9 90.1,269.6 90.4,270.7 90.7,269.3 91.0,271.3 91.3,269.4 91.6,271.4 91.9,271.7 92.2,268.9 92.5,271.1 92.8,269.8 93.1,271.4 93.4,269.5 93.7,269.8 94.0,269.6 94.3,271.2 94.6,267.9 94.9,270.8 95.2,270.0 95.5,269.5 95.8,269.5 96.1,270.7 96.4,270.4 96.7,271.1 97.0,268.4 97.3,267.2 97.6,268.4 97.9,268.7 98.2,268.5 98.5,270.2 98.8,271.0 99.1,268.9 99.4,266.7 99.7,269.3 100.0,267.5 100.3,268.0 100.6,268.7 100.9,267.9 101.2,267.5 101.5,267.8 101.8,268.3 102.1,268.1 102.4,269.6 102.7,264.4 103.0,266.3 103.3,264.7 103.6,265.4 103.9,262.0 104.2,260.7 104.5,259.4 104.8,262.2 105.1,264.4 105.4,265.2 105.5,265.3 105.7,266.2 106.0,267.5 106.3,263.9 106.6,267.7 106.9,266.6 107.2,265.5 107.5,267.0 107.8,266.3 108.1,267.3 108.4,265.2 108.7,265.9 109.0,264.9 109.3,266.2 109.6,266.8 109.9,266.1 110.2,266.7 110.5,265.7 110.8,267.4 111.1,265.9 111.4,265.8 111.7,266.6 112.0,266.6 112.3,265.8 112.6,267.2 112.9,266.2 113.2,266.8 113.5,264.8 113.8,265.0 114.1,266.3 114.4,265.7 114.7,266.6 115.0,267.3 115.3,268.3 115.6,268.9 115.9,268.5 116.2,267.4 116.5,269.1 116.8,269.3 117.0,269.8 117.1,267.9 117.4,270.2 117.7,269.1 118.0,268.2 118.3,267.2 118.6,268.8 118.9,267.8 119.0,268.6 119.2,267.4 119.5,267.0 119.8,267.6 120.1,268.0 120.4,264.7 120.7,265.2 121.0,265.2 121.3,264.2 121.6,263.4 121.9,265.5 122.2,261.9 122.5,263.0 122.8,261.0 123.1,260.8 123.4,258.1 123.7,260.8 124.0,259.3 124.3,259.0 124.6,262.0 124.9,260.3 125.2,260.2 125.5,260.3 125.8,262.5 126.1,261.8 126.4,261.9 126.5,261.2 126.7,261.3 127.0,262.2 127.3,261.5 127.6,259.1 127.9,259.8 128.2,260.5 128.5,262.6 128.8,258.7 129.1,256.8 129.4,259.3 129.7,257.7 130.0,256.4 130.3,258.0 130.5,257.0 130.6,256.4 130.9,256.2 131.2,257.5 131.5,257.8 131.8,256.2 132.0,258.8 132.1,256.8 132.4,259.9 132.7,259.3 133.0,259.4 133.3,260.5 133.6,260.1 133.9,261.3 134.2,263.6 134.5,261.9 134.8,263.9 135.0,262.6 135.1,263.5 135.4,264.6 135.7,262.6 136.0,264.2 136.3,261.8 136.6,263.1 136.9,264.1 137.2,265.7 137.5,265.7 137.8,264.2 138.1,265.0 138.4,265.5 138.7,264.0 139.0,266.1 139.3,267.8 139.6,265.0 139.9,262.0 140.2,261.1 140.5,259.6 140.8,259.0 141.1,258.1 141.4,257.9 141.5,257.0 141.7,256.7 142.0,259.5 142.3,260.8 142.6,260.3 142.9,261.8 143.2,263.0 143.5,262.6 143.8,265.4 144.1,267.2 144.4,269.5 144.7,268.9 145.0,269.5 145.3,270.0 145.6,270.9 145.9,271.5 146.2,269.9 146.5,271.3 146.8,271.9 147.0,269.5 147.1,272.6 147.4,270.5 147.7,271.0 148.0,269.7 148.3,268.9 148.6,268.4 148.9,268.1 149.2,268.1 149.5,266.4 149.8,265.0 150.0,265.2 150.1,265.0 150.4,266.5 150.7,264.5 151.0,266.8 151.3,265.2 151.6,264.7 151.9,266.0 152.2,264.2 152.5,264.0 152.8,265.1 153.0,265.0 153.1,263.3 153.4,268.3 153.7,265.4 154.0,263.8 154.3,265.1 154.6,266.6 154.9,266.2 155.0,267.0 155.2,268.1 155.5,266.3 155.8,266.8 156.1,265.1 156.4,263.2 156.7,264.8 157.0,262.2 157.3,263.4 157.6,262.6 157.9,260.7 158.2,260.3 158.5,260.4 158.8,260.3 159.0,260.9 159.1,259.7 159.4,262.4 159.7,261.4 160.0,260.4 160.3,260.9 160.6,262.3 160.9,262.3 161.0,262.9 161.2,264.7 161.5,265.5 161.8,267.5 162.1,267.0 162.4,268.3 162.7,270.0 163.0,270.1 163.3,271.9 163.6,272.9 163.9,273.0 164.2,273.6 164.5,276.0 164.8,273.3 165.1,274.4 165.4,274.6 165.7,274.6 166.0,277.2 166.3,275.8 166.6,277.1 166.9,274.8 167.2,277.8 167.5,278.2 167.8,275.2 168.1,275.2 168.4,275.8 168.7,276.5 169.0,274.8 169.3,276.6 169.6,277.1 169.9,275.8 170.0,274.1 170.2,275.8 170.5,276.1 170.8,277.3 171.1,276.0 171.4,275.5 171.7,277.2 172.0,276.9 172.3,277.3 172.6,276.7 172.9,277.9 173.2,277.3 173.5,275.1 173.8,277.0 174.1,277.5 174.4,276.6 174.7,278.2 175.0,276.4 175.3,277.6 175.6,275.6 175.9,277.0 176.2,276.2 176.5,275.7 176.8,275.4 177.1,277.1 177.4,277.4 177.7,276.5 178.0,275.9 178.3,276.0 178.6,277.6 178.9,275.6 179.2,277.9 179.5,275.3 179.8,277.4 180.0,277.6 180.1,278.1 180.4,276.6 180.7,276.2 181.0,275.5 181.3,278.0 181.6,277.0 181.9,276.6 182.2,276.5 182.5,277.4 182.8,277.1 183.1,278.4 183.4,274.9 183.7,278.0 184.0,276.5 184.3,277.0 184.6,276.6 184.9,276.8 185.2,277.5 185.5,276.3 185.8,275.3 186.1,277.5 186.4,276.7 186.7,277.2 187.0,276.8 187.3,276.7 187.5,277.8" fill="none" stroke="#ee4444" stroke-width="0.55" stroke-linejoin="round"/>
<path d="M41.5,274.2 42.3,272.6 42.5,272.1 43.1,273.6 43.9,275.5 44.2,276.4 44.7,276.6 45.5,276.8 46.3,277.3 46.8,277.1 47.1,277.1 47.9,277.8 48.7,278.1 49.5,278.9 50.3,278.3 50.5,278.2 51.1,278.8 51.9,278.7 52.7,278.7 53.5,279.7 54.3,280.1 55.1,279.7 55.5,279.5 55.9,279.9 56.7,280.0 57.5,279.7 58.3,280.5 59.1,280.6 59.2,280.9 59.9,280.0 60.7,279.8 61.5,279.6 62.3,278.7 63.0,279.8 63.1,278.3 63.9,278.5 64.7,278.7 65.5,278.2 66.3,278.7 67.1,278.3 67.9,278.4 68.7,278.3 69.5,278.1 70.3,278.0 70.5,277.9 71.1,277.9 71.9,277.7 72.7,277.1 73.5,276.8 74.3,276.5 75.1,276.5 75.9,276.0 76.7,275.7 77.5,275.0 78.0,276.2 78.3,274.9 79.1,275.6 79.9,275.0 80.7,274.7 81.5,274.1 82.3,273.9 83.0,273.5 83.1,273.6 83.9,273.4 84.7,273.3 85.5,272.1 86.3,272.3 87.1,272.3 87.9,272.0 88.0,271.1 88.7,271.4 89.5,271.2 90.3,271.1 91.1,270.0 91.9,270.9 92.7,269.8 93.5,270.9 94.3,270.2 95.1,269.7 95.5,269.9 95.9,269.6 96.7,269.2 97.5,269.1 98.3,269.3 99.1,268.3 99.9,268.5 100.7,268.3 101.5,268.1 102.3,267.9 103.0,267.7 103.1,266.9 103.9,262.3 104.2,259.8 104.7,262.2 105.5,266.5 106.3,266.1 107.1,266.1 107.9,265.8 108.7,267.1 109.5,266.8 110.3,267.1 110.5,266.8 111.1,266.6 111.9,266.3 112.7,266.2 113.5,267.1 114.3,266.9 115.0,266.7 115.1,266.3 115.9,267.9 116.7,268.8 117.0,269.4 117.5,268.3 118.3,268.9 119.0,269.0 119.1,268.2 119.9,266.9 120.7,265.5 121.5,263.6 122.3,262.7 123.1,260.9 123.9,259.5 124.0,259.6 124.7,260.4 125.5,261.5 126.3,262.2 126.5,263.0 127.1,261.7 127.9,261.3 128.7,259.8 129.5,258.5 130.3,257.9 130.5,257.2 131.1,257.5 131.9,257.9 132.0,258.2 132.7,259.5 133.5,260.9 134.3,262.1 135.0,262.9 135.1,263.5 135.9,263.9 136.7,264.4 137.5,264.8 138.3,265.2 139.0,266.0 139.1,264.9 139.9,262.5 140.7,260.1 141.5,256.6 142.3,259.5 143.1,262.8 143.9,265.6 144.7,268.9 145.0,271.0 145.5,270.2 146.3,271.1 147.0,271.3 147.1,271.1 147.9,269.9 148.7,268.1 149.5,267.3 150.0,265.8 150.3,265.8 151.1,264.9 151.9,264.5 152.7,263.8 153.0,263.7 153.5,263.9 154.3,265.5 155.0,267.1 155.1,265.6 155.9,265.5 156.7,263.5 157.5,262.5 158.3,260.4 159.0,260.3 159.1,259.3 159.9,261.1 160.7,263.0 161.0,262.6 161.5,264.4 162.3,268.9 163.0,271.7 163.1,271.8 163.9,272.9 164.7,273.8 165.5,275.8 166.0,276.5 166.3,275.6 167.1,276.1 167.9,276.1 168.7,276.8 169.5,276.2 170.0,277.1 170.3,276.6 171.1,276.4 171.9,276.6 172.7,276.5 173.5,277.5 174.3,276.8 175.1,276.6 175.9,276.8 176.7,277.3 177.5,276.5 178.3,276.4 179.1,277.5 179.9,277.3 180.0,276.9 180.7,277.0 181.5,277.4 182.3,276.0 183.1,277.4 183.9,276.9 184.7,277.2 185.5,276.9 186.3,278.0 187.1,276.7 187.5,277.3" fill="none" stroke="#ee4444" stroke-width="0.45" stroke-linejoin="round"/>
<g stroke="#2a2a2a" stroke-width="0.9" fill="none">
<rect x="28.3" y="10.9" width="180.2" height="275.2"/>
<line x1="28.3" y1="45.3" x2="208.5" y2="45.3"/>
<line x1="28.3" y1="79.7" x2="208.5" y2="79.7"/>
<line x1="28.3" y1="114.1" x2="208.5" y2="114.1"/>
<line x1="28.3" y1="148.5" x2="208.5" y2="148.5"/>
<line x1="28.3" y1="182.9" x2="208.5" y2="182.9"/>
<line x1="28.3" y1="217.3" x2="208.5" y2="217.3"/>
<line x1="28.3" y1="251.7" x2="208.5" y2="251.7"/>
</g>
<path d="M62.34,45.3v-3M104.07,45.3v-3M145.81,45.3v-3M187.54,45.3v-3M41.47,45.3v-1.5M83.2,45.3v-1.5M124.94,45.3v-1.5M166.67,45.3v-1.5M62.34,79.7v-3M104.07,79.7v-3M145.81,79.7v-3M187.54,79.7v-3M41.47,79.7v-1.5M83.2,79.7v-1.5M124.94,79.7v-1.5M166.67,79.7v-1.5M62.34,114.1v-3M104.07,114.1v-3M145.81,114.1v-3M187.54,114.1v-3M41.47,114.1v-1.5M83.2,114.1v-1.5M124.94,114.1v-1.5M166.67,114.1v-1.5M62.34,148.5v-3M104.07,148.5v-3M145.81,148.5v-3M187.54,148.5v-3M41.47,148.5v-1.5M83.2,148.5v-1.5M124.94,148.5v-1.5M166.67,148.5v-1.5M62.34,182.9v-3M104.07,182.9v-3M145.81,182.9v-3M187.54,182.9v-3M41.47,182.9v-1.5M83.2,182.9v-1.5M124.94,182.9v-1.5M166.67,182.9v-1.5M62.34,217.3v-3M104.07,217.3v-3M145.81,217.3v-3M187.54,217.3v-3M41.47,217.3v-1.5M83.2,217.3v-1.5M124.94,217.3v-1.5M166.67,217.3v-1.5M62.34,251.7v-3M104.07,251.7v-3M145.81,251.7v-3M187.54,251.7v-3M41.47,251.7v-1.5M83.2,251.7v-1.5M124.94,251.7v-1.5M166.67,251.7v-1.5M62.34,286.1v-3M104.07,286.1v-3M145.81,286.1v-3M187.54,286.1v-3M41.47,286.1v-1.5M83.2,286.1v-1.5M124.94,286.1v-1.5M166.67,286.1v-1.5M62.34,10.9v3M104.07,10.9v3M145.81,10.9v3M187.54,10.9v3M41.47,10.9v1.5M83.2,10.9v1.5M124.94,10.9v1.5M166.67,10.9v1.5M28.3,15.9h3.6M208.5,15.9h-3.6M28.3,23.9h3.6M208.5,23.9h-3.6M28.3,31.5h3.6M208.5,31.5h-3.6M28.3,40h3.6M208.5,40h-3.6M28.3,19.92h1.8M208.5,19.92h-1.8M28.3,27.92h1.8M208.5,27.92h-1.8M28.3,35.52h1.8M208.5,35.52h-1.8M28.3,44.02h1.8M208.5,44.02h-1.8M28.3,52.6h3.6M208.5,52.6h-3.6M28.3,61.1h3.6M208.5,61.1h-3.6M28.3,69.4h3.6M208.5,69.4h-3.6M28.3,77.7h3.6M208.5,77.7h-3.6M28.3,56.78h1.8M208.5,56.78h-1.8M28.3,65.28h1.8M208.5,65.28h-1.8M28.3,73.58h1.8M208.5,73.58h-1.8M28.3,48.42h1.8M208.5,48.42h-1.8M28.3,86.9h3.6M208.5,86.9h-3.6M28.3,95.1h3.6M208.5,95.1h-3.6M28.3,104h3.6M208.5,104h-3.6M28.3,112.3h3.6M208.5,112.3h-3.6M28.3,91.13h1.8M208.5,91.13h-1.8M28.3,99.33h1.8M208.5,99.33h-1.8M28.3,108.23h1.8M208.5,108.23h-1.8M28.3,82.67h1.8M208.5,82.67h-1.8M28.3,122.4h3.6M208.5,122.4h-3.6M28.3,130.8h3.6M208.5,130.8h-3.6M28.3,138.9h3.6M208.5,138.9h-3.6M28.3,146.9h3.6M208.5,146.9h-3.6M28.3,126.48h1.8M208.5,126.48h-1.8M28.3,134.88h1.8M208.5,134.88h-1.8M28.3,142.98h1.8M208.5,142.98h-1.8M28.3,118.32h1.8M208.5,118.32h-1.8M28.3,155.5h3.6M208.5,155.5h-3.6M28.3,164h3.6M208.5,164h-3.6M28.3,172.4h3.6M208.5,172.4h-3.6M28.3,180.3h3.6M208.5,180.3h-3.6M28.3,159.63h1.8M208.5,159.63h-1.8M28.3,168.13h1.8M208.5,168.13h-1.8M28.3,176.53h1.8M208.5,176.53h-1.8M28.3,151.37h1.8M208.5,151.37h-1.8M28.3,190.2h3.6M208.5,190.2h-3.6M28.3,198.8h3.6M208.5,198.8h-3.6M28.3,206.7h3.6M208.5,206.7h-3.6M28.3,215.6h3.6M208.5,215.6h-3.6M28.3,194.43h1.8M208.5,194.43h-1.8M28.3,203.03h1.8M208.5,203.03h-1.8M28.3,210.93h1.8M208.5,210.93h-1.8M28.3,185.97h1.8M208.5,185.97h-1.8M28.3,226.1h3.6M208.5,226.1h-3.6M28.3,234.1h3.6M208.5,234.1h-3.6M28.3,242.6h3.6M208.5,242.6h-3.6M28.3,250.6h3.6M208.5,250.6h-3.6M28.3,230.18h1.8M208.5,230.18h-1.8M28.3,238.18h1.8M208.5,238.18h-1.8M28.3,246.68h1.8M208.5,246.68h-1.8M28.3,222.02h1.8M208.5,222.02h-1.8M28.3,258.8h3.6M208.5,258.8h-3.6M28.3,267.7h3.6M208.5,267.7h-3.6M28.3,276.2h3.6M208.5,276.2h-3.6M28.3,284.8h3.6M208.5,284.8h-3.6M28.3,263.13h1.8M208.5,263.13h-1.8M28.3,272.03h1.8M208.5,272.03h-1.8M28.3,280.53h1.8M208.5,280.53h-1.8M28.3,254.47h1.8M208.5,254.47h-1.8" stroke="#222" stroke-width="0.9" fill="none"/>
<rect x="29" y="11.5" width="64.41" height="6.2" fill="#fff" stroke="#666" stroke-width="0.55"/>
<text x="30.4" y="16.4" font-family="Liberation Mono" font-style="italic" font-size="5.6" fill="#555" textLength="61.41" lengthAdjust="spacingAndGlyphs">Microbacterium sp. AQ95</text>
<rect x="29" y="45.9" width="53.73" height="6.2" fill="#fff" stroke="#666" stroke-width="0.55"/>
<text x="30.4" y="50.8" font-family="Liberation Mono" font-style="italic" font-size="5.6" fill="#555" textLength="50.73" lengthAdjust="spacingAndGlyphs">Halomonas sp. MT107</text>
<rect x="29" y="80.3" width="64.41" height="6.2" fill="#fff" stroke="#666" stroke-width="0.55"/>
<text x="30.4" y="85.2" font-family="Liberation Mono" font-style="italic" font-size="5.6" fill="#555" textLength="61.41" lengthAdjust="spacingAndGlyphs">Pseudomonas sp. AQ23RB1</text>
<rect x="29" y="114.7" width="59.07" height="6.2" fill="#fff" stroke="#666" stroke-width="0.55"/>
<text x="30.4" y="119.6" font-family="Liberation Mono" font-style="italic" font-size="5.6" fill="#555" textLength="56.07" lengthAdjust="spacingAndGlyphs">Bacillus sp. AQ24B2C1</text>
<rect x="29" y="149.1" width="80.43" height="6.2" fill="#fff" stroke="#666" stroke-width="0.55"/>
<text x="30.4" y="154" font-family="Liberation Mono" font-style="italic" font-size="5.6" fill="#555" textLength="77.43" lengthAdjust="spacingAndGlyphs">Pseudoalteromonas sp. AQ25683</text>
<rect x="29" y="183.5" width="69.75" height="6.2" fill="#fff" stroke="#666" stroke-width="0.55"/>
<text x="30.4" y="188.4" font-family="Liberation Mono" font-style="italic" font-size="5.6" fill="#555" textLength="66.75" lengthAdjust="spacingAndGlyphs">Rhodococcus sp. AQ11382C1</text>
<rect x="29" y="217.9" width="64.41" height="6.2" fill="#fff" stroke="#666" stroke-width="0.55"/>
<text x="30.4" y="222.8" font-family="Liberation Mono" font-style="italic" font-size="5.6" fill="#555" textLength="61.41" lengthAdjust="spacingAndGlyphs">Sulfitobacter sp. SQ167</text>
<rect x="29" y="252.3" width="64.41" height="6.2" fill="#fff" stroke="#666" stroke-width="0.55"/>
<text x="30.4" y="257.2" font-family="Liberation Mono" font-style="italic" font-size="5.6" fill="#555" textLength="61.41" lengthAdjust="spacingAndGlyphs">Psychrobacter sp. QS172</text>
<g font-family="Liberation Serif" font-size="7.6" fill="#333" text-anchor="end">
<text x="24.8" y="19.35">600</text>
<text x="24.8" y="27.35">500</text>
<text x="24.8" y="34.95">400</text>
<text x="24.8" y="43.45">300</text>
<text x="24.8" y="56.05">495</text>
<text x="24.8" y="64.55">396</text>
<text x="24.8" y="72.85">297</text>
<text x="24.8" y="81.15">198</text>
<text x="24.8" y="90.35">440</text>
<text x="24.8" y="98.55">352</text>
<text x="24.8" y="107.45">264</text>
<text x="24.8" y="115.75">176</text>
<text x="24.8" y="125.85">550</text>
<text x="24.8" y="134.25">440</text>
<text x="24.8" y="142.35">330</text>
<text x="24.8" y="150.35">220</text>
<text x="24.8" y="158.95">660</text>
<text x="24.8" y="167.45">550</text>
<text x="24.8" y="175.85">440</text>
<text x="24.8" y="183.75">330</text>
<text x="24.8" y="193.65">460</text>
<text x="24.8" y="202.25">368</text>
<text x="24.8" y="210.15">276</text>
<text x="24.8" y="219.05">184</text>
<text x="24.8" y="229.55">600</text>
<text x="24.8" y="237.55">480</text>
<text x="24.8" y="246.05">360</text>
<text x="24.8" y="254.05">240</text>
<text x="24.8" y="262.25">800</text>
<text x="24.8" y="271.15">640</text>
<text x="24.8" y="279.65">480</text>
<text x="24.8" y="288.25">320</text>
</g>
<g font-family="Liberation Serif" font-size="7.6" fill="#333" text-anchor="middle">
<text x="62.34" y="6.85">500</text>
<text x="62.34" y="297.15">500</text>
<text x="104.07" y="6.85">1000</text>
<text x="104.07" y="297.15">1000</text>
<text x="145.81" y="6.85">1500</text>
<text x="145.81" y="297.15">1500</text>
<text x="187.54" y="6.85">2000</text>
<text x="187.54" y="297.15">2000</text>
</g>
<text x="2" y="13.2" font-family="Liberation Serif" font-size="16.5" fill="#000">a</text>
<text x="81.2" y="309.6" font-family="Liberation Mono" font-size="9" fill="#333" textLength="74.1" lengthAdjust="spacingAndGlyphs">Raman shift(cm<tspan dy="-3" font-size="6">-1</tspan><tspan dy="3">)</tspan></text>
<text transform="translate(8.2,158.5) rotate(-90)" text-anchor="middle" font-family="Liberation Mono" font-size="8.2" fill="#444" textLength="69" lengthAdjust="spacingAndGlyphs">Intensity(a.u.)</text>
<path d="M270.0,15.9 270.2,15.9 270.5,41.1 270.6,32.3 270.9,30.3 271.0,33.9 271.2,29.4 271.5,31.1 271.8,25.3 272.1,31.0 272.4,17.2 272.5,17.6 272.7,21.5 273.0,15.9 273.3,33.6 273.5,33.5 273.6,37.5 273.9,33.7 274.0,33.6 274.2,32.5 274.5,23.2 274.8,24.3 275.1,26.9 275.4,35.3 275.5,31.1 275.7,31.6 276.0,26.7 276.3,33.0 276.6,34.8 276.9,34.3 277.2,40.1 277.5,30.0 277.8,30.9 278.1,33.1 278.4,31.5 278.7,34.2 279.0,35.5 279.3,34.4 279.6,34.9 279.9,35.5 280.2,36.6 280.5,33.8 280.8,33.5 281.0,37.2 281.1,33.8 281.4,32.6 281.7,35.0 282.0,34.0 282.3,35.3 282.6,35.2 282.9,36.7 283.2,37.2 283.5,32.4 283.8,33.0 284.1,38.5 284.4,33.8 284.7,32.0 285.0,31.6 285.3,35.3 285.6,34.3 285.9,32.0 286.0,33.9 286.2,33.6 286.5,37.5 286.8,36.0 287.1,35.5 287.4,33.0 287.7,35.0 288.0,36.8 288.3,35.8 288.6,37.5 288.9,35.7 289.2,36.7 289.5,36.0 289.8,33.5 290.1,37.2 290.4,35.3 290.7,36.1 291.0,32.5 291.3,32.7 291.6,34.0 291.9,32.6 292.2,35.5 292.5,35.0 292.8,36.4 293.1,35.4 293.4,32.2 293.7,35.8 294.0,32.8 294.3,32.8 294.6,33.9 294.9,33.7 295.2,36.0 295.5,39.2 295.8,34.7 296.0,40.4 296.1,33.8 296.4,34.7 296.7,33.1 297.0,33.0 297.3,36.7 297.6,34.8 297.9,34.8 298.2,32.8 298.5,37.8 298.8,34.1 299.1,33.2 299.4,34.3 299.7,35.4 300.0,35.3 300.3,36.7 300.6,32.4 300.9,33.6 301.0,37.4 301.2,38.9 301.5,33.5 301.8,34.2 302.1,31.6 302.4,33.1 302.7,32.9 303.0,34.0 303.3,32.1 303.6,35.9 303.9,34.1 304.2,33.6 304.5,36.1 304.8,33.6 305.1,31.7 305.4,33.8 305.7,37.8 306.0,33.9 306.3,34.5 306.6,33.1 306.9,32.9 307.2,34.2 307.5,27.9 307.8,30.6 308.1,31.3 308.4,31.8 308.7,35.1 309.0,37.0 309.3,33.3 309.6,32.9 309.8,33.3 309.9,34.2 310.2,27.8 310.5,27.3 310.8,27.1 311.1,25.8 311.4,18.2 311.5,23.7 311.7,21.2 312.0,27.6 312.3,29.5 312.6,25.8 312.9,33.0 313.0,33.0 313.2,31.6 313.5,34.4 313.8,36.6 314.1,33.9 314.4,31.1 314.7,30.6 315.0,31.6 315.3,32.2 315.6,36.0 315.9,34.4 316.0,33.9 316.2,35.5 316.5,33.3 316.8,33.5 317.1,32.0 317.4,32.2 317.7,33.4 318.0,32.0 318.3,36.6 318.6,33.8 318.9,32.9 319.2,36.0 319.5,32.0 319.8,36.1 320.1,34.2 320.4,37.4 320.7,32.5 321.0,32.8 321.3,32.3 321.6,31.5 321.9,34.3 322.2,32.0 322.5,34.7 322.8,32.6 323.1,35.6 323.4,28.6 323.7,33.8 324.0,32.9 324.3,32.7 324.6,31.4 324.9,35.9 325.2,32.1 325.5,33.7 325.8,32.5 326.0,32.3 326.1,33.3 326.4,34.5 326.7,31.3 327.0,32.4 327.3,30.6 327.6,34.1 327.9,31.8 328.2,32.0 328.5,35.2 328.8,34.1 329.1,35.0 329.4,34.2 329.7,36.5 330.0,33.4 330.3,30.1 330.6,30.9 330.9,28.3 331.2,27.4 331.5,27.1 331.8,24.1 332.1,22.0 332.2,25.6 332.4,27.8 332.7,26.2 333.0,30.9 333.3,32.2 333.5,32.0 333.6,31.8 333.9,33.1 334.2,32.8 334.5,33.3 334.8,33.7 335.1,31.4 335.4,35.6 335.7,32.0 336.0,32.0 336.3,35.5 336.6,35.1 336.9,36.5 337.2,34.0 337.5,32.5 337.8,36.0 338.1,33.0 338.4,33.7 338.7,32.5 339.0,34.9 339.3,29.9 339.6,35.4 339.9,30.6 340.0,36.1 340.2,31.5 340.5,35.6 340.8,38.8 341.1,33.3 341.4,31.1 341.7,36.8 342.0,32.4 342.3,30.8 342.6,35.0 342.9,27.4 343.0,29.8 343.2,30.0 343.5,31.9 343.8,30.4 344.1,36.1 344.4,37.2 344.7,36.3 345.0,36.6 345.3,34.6 345.6,38.7 345.9,36.9 346.2,39.4 346.5,40.2 346.8,38.4 347.0,34.7 347.1,36.8 347.4,40.2 347.7,37.4 348.0,38.7 348.3,31.1 348.6,34.2 348.9,33.2 349.2,29.6 349.5,30.4 349.8,32.3 350.0,30.7 350.1,28.6 350.4,30.4 350.7,32.0 351.0,27.9 351.3,30.5 351.6,31.6 351.9,27.9 352.0,31.6 352.2,29.2 352.5,31.6 352.8,32.0 353.1,31.4 353.4,30.9 353.7,30.8 354.0,32.8 354.3,32.7 354.6,34.7 354.9,31.3 355.2,31.8 355.5,34.3 355.8,31.4 356.0,31.4 356.1,33.3 356.4,29.4 356.7,28.6 357.0,28.5 357.3,26.2 357.6,23.5 357.9,22.0 358.2,23.7 358.5,24.9 358.8,25.2 359.1,27.0 359.4,26.0 359.7,23.5 360.0,22.6 360.3,25.0 360.6,25.9 360.9,26.0 361.0,29.4 361.2,26.7 361.5,29.6 361.8,26.8 362.1,25.8 362.4,28.6 362.7,32.1 363.0,31.5 363.3,30.3 363.6,28.3 363.9,29.5 364.0,30.9 364.2,33.5 364.5,32.6 364.8,31.9 365.1,33.1 365.4,34.6 365.7,30.2 366.0,31.8 366.3,33.1 366.6,34.6 366.9,33.6 367.2,29.5 367.5,30.6 367.8,28.4 368.1,28.4 368.4,29.2 368.7,27.5 369.0,26.4 369.3,24.7 369.6,23.2 369.9,24.7 370.0,25.4 370.2,26.8 370.5,25.0 370.8,25.9 371.1,30.4 371.4,29.5 371.7,30.8 372.0,28.6 372.3,29.3 372.6,29.7 372.9,34.5 373.2,31.7 373.5,31.5 373.8,34.7 374.0,39.1 374.1,36.9 374.4,37.4 374.7,37.5 375.0,37.2 375.3,37.1 375.6,35.3 375.9,41.6 376.0,38.2 376.2,40.7 376.5,34.6 376.8,37.7 377.1,33.6 377.4,33.1 377.7,35.3 378.0,36.2 378.3,36.0 378.6,35.5 378.9,31.5 379.0,33.5 379.2,29.6 379.5,28.1 379.8,27.7 380.1,25.4 380.4,25.5 380.7,19.0 381.0,23.1 381.3,18.6 381.5,21.7 381.6,21.3 381.9,18.4 382.2,22.0 382.5,24.5 382.8,22.8 383.0,23.9 383.1,24.8 383.4,26.9 383.7,27.8 384.0,26.1 384.3,29.0 384.6,30.6 384.9,30.0 385.0,27.0 385.2,26.2 385.5,27.5 385.8,27.9 386.1,23.9 386.4,24.8 386.7,23.1 387.0,27.7 387.3,24.5 387.6,28.3 387.9,22.8 388.2,24.5 388.5,24.2 388.8,28.5 389.0,27.3 389.1,24.2 389.4,20.4 389.7,29.0 390.0,27.8 390.3,26.3 390.6,26.5 390.9,24.7 391.0,29.6 391.2,30.8 391.5,31.8 391.8,31.0 392.1,32.0 392.4,34.1 392.7,33.2 393.0,33.7 393.3,35.3 393.6,30.5 393.9,36.7 394.2,35.8 394.5,29.4 394.8,35.3 395.0,38.0 395.1,36.9 395.4,32.4 395.7,34.0 396.0,36.1 396.3,39.2 396.6,37.3 396.9,35.6 397.2,37.0 397.5,36.3 397.8,35.6 398.1,36.8 398.4,32.2 398.7,38.0 399.0,37.2 399.3,35.4 399.6,35.0 399.9,34.5 400.0,37.3 400.2,37.1 400.5,37.1 400.8,39.7 401.1,32.6 401.4,35.0 401.7,34.8 402.0,37.8 402.3,35.5 402.6,34.3 402.9,36.2 403.2,36.4 403.5,38.7 403.8,36.1 404.1,34.3 404.4,34.3 404.7,33.7 405.0,36.0 405.3,36.5 405.6,35.0 405.9,35.1 406.2,37.9 406.5,35.7 406.8,36.5 407.1,33.5 407.4,34.5 407.7,31.7 408.0,32.9 408.3,36.2 408.6,38.0 408.9,35.0 409.2,33.3 409.5,35.8 409.8,37.8 410.0,35.1 410.1,37.1 410.4,35.4 410.7,33.1 411.0,33.4 411.3,34.7 411.6,39.3 411.9,36.0 412.2,34.1 412.5,35.0 412.8,34.8 413.1,33.3 413.4,33.6 413.7,33.4 414.0,35.2 414.3,36.4 414.6,36.1 414.9,32.8 415.0,34.3 415.2,32.0 415.5,31.1 415.8,33.1 416.0,34.2" fill="none" stroke="#34349a" stroke-width="0.55" stroke-linejoin="round"/>
<path d="M270.0,28.7 270.2,19.7 270.5,37.6 270.8,30.6 271.0,26.2 271.5,31.6 271.6,30.7 272.4,22.4 272.5,22.0 273.0,21.8 273.2,27.5 273.5,35.9 274.0,33.9 274.8,28.2 275.5,30.8 275.6,30.6 276.4,32.3 277.2,33.8 278.0,33.1 278.8,33.7 279.6,33.6 280.4,34.6 281.0,34.3 281.2,35.1 282.0,34.9 282.8,34.8 283.6,35.5 284.4,35.3 285.2,35.3 286.0,35.2 286.8,35.6 287.6,34.5 288.4,34.2 289.2,34.7 290.0,34.9 290.8,35.6 291.0,34.9 291.6,34.2 292.4,34.2 293.2,33.8 294.0,34.3 294.8,34.2 295.6,34.1 296.0,34.2 296.4,34.6 297.2,34.5 298.0,33.7 298.8,34.8 299.6,34.1 300.4,34.9 301.0,34.8 301.2,35.5 302.0,34.3 302.8,34.1 303.6,33.8 304.4,34.1 305.2,33.7 306.0,33.3 306.8,33.6 307.6,34.0 308.4,33.6 309.2,33.3 309.8,32.1 310.0,31.0 310.8,26.9 311.5,22.3 311.6,24.5 312.4,27.9 313.0,32.5 313.2,31.8 314.0,32.8 314.8,33.5 315.6,33.6 316.0,33.1 316.4,33.2 317.2,34.1 318.0,33.7 318.8,33.9 319.6,34.3 320.4,32.8 321.0,34.2 321.2,34.5 322.0,34.6 322.8,34.0 323.6,33.1 324.4,33.7 325.2,34.0 326.0,32.6 326.8,32.8 327.6,33.5 328.4,33.8 329.2,33.5 329.8,33.6 330.0,33.0 330.8,29.7 331.6,26.6 332.2,23.1 332.4,24.7 333.2,31.7 333.5,35.0 334.0,34.0 334.8,33.3 335.6,34.4 336.4,34.0 337.2,34.3 338.0,34.7 338.8,34.7 339.6,33.8 340.0,33.9 340.4,34.3 341.2,33.8 342.0,33.8 342.8,32.3 343.0,31.7 343.6,33.3 344.4,35.5 345.0,36.5 345.2,37.0 346.0,38.0 346.8,38.9 347.0,38.6 347.6,37.2 348.4,34.7 349.2,32.3 350.0,29.8 350.8,29.9 351.6,29.4 352.0,27.9 352.4,29.9 353.2,31.0 354.0,31.9 354.8,31.8 355.6,30.9 356.0,31.1 356.4,29.3 357.2,27.5 358.0,24.7 358.5,22.1 358.8,23.0 359.6,25.2 360.4,26.6 361.0,27.6 361.2,27.3 362.0,28.6 362.8,30.1 363.6,31.3 364.0,31.6 364.4,31.5 365.2,32.6 366.0,33.3 366.8,31.3 367.6,29.7 368.4,28.2 369.2,26.3 370.0,25.6 370.8,27.6 371.6,29.6 372.0,29.8 372.4,31.1 373.2,34.1 374.0,36.3 374.8,37.2 375.6,37.9 376.0,37.7 376.4,38.2 377.2,35.1 378.0,33.1 378.8,32.5 379.0,31.0 379.6,28.9 380.4,24.3 381.2,20.2 381.5,18.2 382.0,19.9 382.8,23.5 383.0,25.1 383.6,26.0 384.4,26.9 385.0,28.0 385.2,27.7 386.0,26.5 386.8,25.1 387.0,24.9 387.6,24.4 388.4,25.5 389.0,25.3 389.2,26.2 390.0,27.0 390.8,29.8 391.0,30.6 391.6,30.5 392.4,33.7 393.0,34.8 393.2,35.1 394.0,35.3 394.8,36.2 395.0,35.6 395.6,35.6 396.4,36.3 397.2,36.5 398.0,35.6 398.8,36.9 399.6,37.0 400.0,36.9 400.4,35.9 401.2,36.5 402.0,35.3 402.8,36.0 403.6,35.4 404.4,35.0 405.0,34.6 405.2,34.7 406.0,35.4 406.8,34.6 407.6,34.8 408.4,35.2 409.2,35.0 410.0,34.2 410.8,34.5 411.6,34.4 412.4,35.5 413.2,34.4 414.0,33.4 414.8,33.1 415.0,33.4 415.6,33.4 416.0,32.7" fill="none" stroke="#34349a" stroke-width="0.6" stroke-linejoin="round"/>
<path d="M270.0,57.6 270.2,50.3 270.5,63.6 270.6,60.6 270.9,63.6 271.0,55.9 271.2,50.3 271.5,53.9 271.8,53.7 272.1,52.5 272.4,56.5 272.5,50.3 272.7,51.7 273.0,54.4 273.3,56.4 273.6,50.3 273.9,58.7 274.2,55.4 274.5,59.4 274.8,58.0 275.1,65.6 275.4,72.2 275.7,66.8 276.0,63.1 276.3,59.3 276.6,66.4 276.9,67.5 277.2,61.6 277.5,66.9 277.8,60.2 278.1,61.9 278.4,65.4 278.7,62.2 279.0,67.1 279.3,69.1 279.6,68.0 279.9,67.3 280.2,69.6 280.5,67.6 280.8,69.1 281.0,69.1 281.1,64.1 281.4,70.8 281.7,68.9 282.0,66.7 282.3,68.0 282.6,66.9 282.9,67.2 283.2,64.7 283.5,66.2 283.8,66.5 284.1,69.5 284.4,68.3 284.7,68.5 285.0,67.6 285.3,70.4 285.6,63.1 285.9,66.1 286.2,69.7 286.5,68.5 286.8,69.3 287.1,71.5 287.4,70.2 287.7,65.9 288.0,68.3 288.3,66.7 288.5,69.7 288.6,70.3 288.9,67.4 289.2,68.4 289.5,66.7 289.8,70.3 290.1,66.7 290.4,67.8 290.7,66.8 291.0,67.1 291.3,66.1 291.6,64.4 291.9,64.4 292.2,65.0 292.5,65.0 292.8,63.3 293.1,63.1 293.4,63.9 293.7,65.4 294.0,63.7 294.3,62.7 294.6,63.9 294.9,63.4 295.2,65.0 295.5,62.6 295.8,62.8 296.0,67.0 296.1,64.6 296.4,62.5 296.7,66.7 297.0,63.9 297.3,62.8 297.6,65.5 297.9,61.7 298.2,64.0 298.5,65.1 298.8,65.8 299.1,63.3 299.4,63.1 299.7,64.2 300.0,66.1 300.3,60.8 300.6,66.0 300.9,65.2 301.0,66.8 301.2,62.7 301.5,66.6 301.8,62.8 302.1,64.7 302.4,63.3 302.7,59.5 303.0,63.9 303.3,64.5 303.6,65.1 303.9,62.9 304.2,62.0 304.5,64.9 304.8,63.1 305.1,65.8 305.4,60.6 305.7,63.1 306.0,63.0 306.3,62.0 306.6,59.5 306.9,63.1 307.2,64.6 307.5,65.5 307.8,63.2 308.1,66.2 308.4,61.8 308.7,62.3 309.0,61.3 309.3,61.9 309.6,62.1 309.9,61.1 310.2,61.6 310.5,62.7 310.8,61.9 311.0,59.9 311.1,62.6 311.4,59.3 311.7,60.7 312.0,59.8 312.3,55.5 312.6,56.4 312.9,59.3 313.2,55.9 313.5,55.3 313.8,54.9 314.0,55.7 314.1,56.7 314.4,56.3 314.7,60.7 315.0,58.1 315.3,59.2 315.6,60.6 315.9,62.6 316.0,62.5 316.2,67.1 316.5,62.2 316.8,62.8 317.1,64.5 317.4,63.1 317.7,64.5 318.0,61.1 318.3,60.9 318.6,58.7 318.9,63.5 319.2,64.0 319.5,67.3 319.8,66.5 320.1,65.0 320.4,64.9 320.7,62.1 321.0,64.5 321.3,62.3 321.6,60.6 321.9,61.2 322.2,63.8 322.5,62.4 322.8,60.8 323.1,65.1 323.4,61.5 323.7,65.7 324.0,64.9 324.3,62.9 324.6,61.7 324.9,62.8 325.2,62.0 325.5,63.8 325.8,64.0 326.0,68.8 326.1,60.8 326.4,63.5 326.7,65.6 327.0,66.5 327.3,67.2 327.6,63.0 327.9,66.2 328.2,59.1 328.5,63.9 328.8,66.0 329.1,65.8 329.4,61.8 329.7,63.4 330.0,60.8 330.3,63.4 330.6,62.1 330.9,65.1 331.0,63.0 331.2,65.0 331.5,62.9 331.8,61.9 332.1,65.0 332.4,63.2 332.7,58.1 333.0,62.4 333.3,60.5 333.5,61.2 333.6,60.0 333.9,56.4 334.2,60.1 334.5,57.1 334.8,59.8 335.1,61.8 335.4,66.2 335.7,64.6 336.0,65.5 336.3,66.3 336.6,63.3 336.9,66.5 337.2,65.5 337.5,63.8 337.8,64.5 338.1,64.9 338.4,66.5 338.7,67.9 339.0,64.7 339.3,63.4 339.6,69.5 339.9,72.0 340.2,69.5 340.5,66.6 340.8,65.4 341.0,66.9 341.1,66.6 341.4,68.6 341.7,69.0 342.0,71.7 342.3,65.6 342.6,65.8 342.9,66.5 343.2,65.4 343.5,69.1 343.8,65.3 344.1,69.4 344.4,69.2 344.7,69.9 345.0,66.3 345.3,69.3 345.6,69.9 345.9,71.4 346.2,70.7 346.5,69.1 346.8,72.9 347.1,73.6 347.2,73.8 347.4,69.7 347.7,71.3 348.0,67.9 348.3,68.5 348.6,69.4 348.9,64.6 349.2,71.5 349.5,67.9 349.8,63.5 350.1,62.8 350.4,62.8 350.7,62.0 351.0,59.4 351.3,60.6 351.6,57.3 351.9,58.2 352.2,62.1 352.5,58.4 352.8,58.0 353.1,61.6 353.4,59.2 353.7,55.6 354.0,57.1 354.3,59.9 354.6,56.9 354.9,59.2 355.2,58.6 355.5,60.6 355.8,59.6 356.0,57.8 356.1,55.8 356.4,56.9 356.7,55.8 357.0,59.2 357.3,55.3 357.6,51.6 357.9,56.3 358.2,56.9 358.5,53.3 358.8,56.0 359.0,52.1 359.1,55.1 359.4,54.7 359.7,56.2 360.0,57.0 360.3,55.5 360.6,58.7 360.9,56.8 361.2,58.6 361.5,61.3 361.8,57.6 362.1,60.0 362.2,63.5 362.4,63.0 362.7,59.8 363.0,60.1 363.3,62.4 363.6,59.9 363.9,61.8 364.2,59.4 364.5,63.4 364.8,59.8 365.1,63.4 365.4,64.3 365.7,62.1 366.0,62.0 366.3,60.4 366.6,58.4 366.9,64.3 367.2,56.4 367.5,56.9 367.8,59.5 368.1,58.5 368.4,59.8 368.7,59.8 369.0,57.3 369.3,55.5 369.6,55.9 369.9,57.2 370.2,59.7 370.5,59.5 370.8,59.9 371.0,55.7 371.1,57.9 371.4,58.9 371.7,60.1 372.0,59.8 372.3,63.8 372.6,65.0 372.9,67.4 373.2,63.6 373.5,65.6 373.8,69.7 374.1,67.2 374.4,66.2 374.7,70.0 375.0,67.1 375.3,68.9 375.6,66.9 375.9,72.3 376.0,69.0 376.2,68.7 376.5,70.0 376.8,66.8 377.1,68.1 377.4,65.8 377.7,69.2 378.0,61.9 378.3,61.7 378.5,63.4 378.6,62.2 378.9,61.9 379.2,59.8 379.5,61.0 379.8,59.3 380.1,60.1 380.4,54.3 380.7,56.4 381.0,51.4 381.3,56.1 381.6,54.2 381.9,57.6 382.2,54.1 382.5,58.7 382.8,58.5 383.1,54.4 383.4,59.2 383.5,55.2 383.7,60.0 384.0,56.3 384.3,59.5 384.6,59.0 384.9,56.5 385.2,56.3 385.5,61.0 385.8,58.9 386.0,61.9 386.1,59.7 386.4,63.9 386.7,58.0 387.0,60.5 387.3,56.8 387.6,55.3 387.9,55.4 388.2,51.9 388.5,51.3 388.8,54.9 389.0,50.9 389.1,50.3 389.4,54.1 389.7,54.6 390.0,55.7 390.3,59.2 390.6,60.7 390.9,63.2 391.0,62.7 391.2,62.5 391.5,62.9 391.8,63.2 392.1,63.2 392.4,68.1 392.7,64.1 393.0,67.9 393.3,65.3 393.5,68.3 393.6,60.9 393.9,66.8 394.2,67.7 394.5,69.4 394.8,69.4 395.1,65.3 395.4,66.2 395.7,69.8 396.0,66.9 396.3,66.8 396.6,68.2 396.9,63.9 397.2,69.5 397.5,67.4 397.8,61.0 398.1,65.0 398.4,66.5 398.5,70.8 398.7,66.7 399.0,63.7 399.3,68.9 399.6,66.8 399.9,65.3 400.2,67.5 400.5,64.2 400.8,64.2 401.1,66.3 401.4,65.1 401.7,65.9 402.0,63.7 402.3,67.6 402.6,61.8 402.9,61.8 403.2,65.2 403.5,63.3 403.8,64.3 404.1,63.6 404.4,63.2 404.7,61.6 405.0,64.4 405.3,66.3 405.6,62.3 405.9,67.6 406.2,66.9 406.5,62.2 406.8,66.7 407.1,62.0 407.4,63.9 407.7,62.1 408.0,63.0 408.3,60.7 408.5,63.7 408.6,62.0 408.9,62.3 409.2,60.2 409.5,63.9 409.8,67.3 410.1,62.6 410.4,62.9 410.7,61.1 411.0,62.1 411.3,61.3 411.6,60.3 411.9,61.6 412.2,62.1 412.5,63.7 412.8,62.4 413.1,63.3 413.4,65.0 413.5,64.7 413.7,62.3 414.0,60.2 414.3,63.7 414.6,64.8 414.9,67.1 415.2,66.4 415.5,72.0 415.8,66.9 416.0,67.5" fill="none" stroke="#909030" stroke-width="0.55" stroke-linejoin="round"/>
<path d="M270.0,60.1 270.2,52.4 270.5,74.0 270.8,65.2 271.0,57.2 271.5,57.4 271.6,57.2 272.4,53.1 272.5,54.0 273.0,53.8 273.2,53.9 274.0,58.6 274.8,62.6 275.6,62.9 276.4,64.6 277.2,64.6 278.0,64.5 278.8,65.9 279.6,65.8 280.4,66.2 281.0,65.6 281.2,65.7 282.0,66.2 282.8,66.8 283.6,67.1 284.4,68.1 284.8,68.3 285.2,67.7 286.0,67.8 286.8,69.0 287.6,68.4 288.4,69.1 288.5,68.4 289.2,67.5 290.0,66.3 290.8,64.9 291.0,65.1 291.6,64.4 292.4,64.5 293.2,64.6 294.0,64.8 294.8,63.1 295.6,63.9 296.0,64.1 296.4,63.7 297.2,64.4 298.0,64.4 298.8,64.5 299.6,64.2 300.4,64.4 301.0,64.5 301.2,64.1 302.0,65.1 302.8,63.7 303.6,63.6 304.4,63.3 305.2,64.4 306.0,63.5 306.8,63.2 307.6,62.9 308.4,62.9 309.2,63.0 310.0,62.6 310.8,62.7 311.0,62.6 311.6,60.1 312.4,59.9 313.2,57.6 314.0,54.4 314.8,58.5 315.6,60.9 316.0,62.6 316.4,63.2 317.2,63.3 318.0,63.5 318.8,64.2 319.6,64.0 320.4,63.4 321.0,63.2 321.2,64.3 322.0,63.2 322.8,64.1 323.6,64.2 324.4,64.3 325.2,65.4 326.0,65.0 326.8,64.7 327.6,65.2 328.4,64.5 329.2,65.2 330.0,65.6 330.8,64.5 331.0,64.4 331.6,63.6 332.4,60.4 333.2,58.8 333.5,58.2 334.0,59.2 334.8,62.0 335.6,64.1 336.0,64.9 336.4,65.0 337.2,65.7 338.0,66.0 338.8,66.2 339.6,65.8 340.4,66.0 341.0,66.8 341.2,66.4 342.0,67.4 342.8,67.0 343.6,67.8 344.4,68.1 344.8,68.7 345.2,69.4 346.0,69.8 346.8,71.8 347.2,70.5 347.6,70.7 348.4,67.8 349.2,66.4 349.8,64.6 350.0,64.4 350.8,62.3 351.6,60.0 352.2,58.1 352.4,58.2 353.2,58.5 354.0,58.4 354.8,58.5 355.6,56.6 356.0,57.5 356.4,56.8 357.2,56.3 358.0,55.6 358.8,55.2 359.0,54.8 359.6,55.6 360.4,57.6 361.2,58.3 362.0,59.6 362.2,60.5 362.8,60.0 363.6,61.0 364.4,62.9 365.2,62.9 366.0,63.0 366.8,62.1 367.6,60.3 368.4,57.4 369.0,55.6 369.2,56.4 370.0,57.7 370.8,58.2 371.0,58.3 371.6,60.8 372.4,63.2 373.2,64.6 373.5,65.7 374.0,67.1 374.8,68.5 375.6,70.6 376.0,71.5 376.4,70.8 377.2,67.2 378.0,64.7 378.5,61.7 378.8,61.2 379.6,59.7 380.4,56.1 381.0,55.7 381.2,55.6 382.0,56.6 382.8,57.7 383.5,58.2 383.6,58.3 384.4,58.9 385.2,59.3 386.0,60.4 386.8,57.0 387.6,54.9 388.4,52.0 389.0,51.2 389.2,52.1 390.0,56.1 390.8,60.0 391.0,60.2 391.6,61.1 392.4,63.7 393.2,65.7 393.5,66.4 394.0,65.8 394.8,66.5 395.6,65.7 396.4,66.3 397.2,66.3 398.0,65.1 398.5,66.6 398.8,67.2 399.6,65.6 400.4,65.0 401.2,65.4 402.0,63.9 402.8,64.1 403.5,63.9 403.6,63.5 404.4,63.7 405.2,63.3 406.0,63.4 406.8,64.0 407.6,63.3 408.4,63.4 408.5,63.4 409.2,63.8 410.0,63.2 410.8,62.8 411.6,63.3 412.4,62.0 413.2,61.8 413.5,62.7 414.0,64.5 414.8,64.9 415.6,66.9 416.0,66.9" fill="none" stroke="#909030" stroke-width="0.6" stroke-linejoin="round"/>
<path d="M270.0,107.3 270.3,105.1 270.6,98.6 270.9,100.4 271.2,89.6 271.5,96.2 271.8,93.8 272.1,100.9 272.4,102.0 272.7,97.6 273.0,92.8 273.3,92.5 273.5,97.8 273.6,94.4 273.9,93.8 274.2,90.6 274.5,94.0 274.8,93.6 275.1,94.3 275.4,88.6 275.5,90.9 275.7,88.1 276.0,94.2 276.3,95.4 276.6,95.9 276.9,100.5 277.2,96.9 277.5,104.1 277.8,101.3 278.1,101.8 278.4,101.4 278.7,99.4 279.0,100.1 279.3,103.9 279.6,102.2 279.9,103.1 280.2,102.0 280.5,104.4 280.8,104.0 281.0,100.1 281.1,106.7 281.4,104.7 281.7,104.6 282.0,103.9 282.3,103.2 282.6,105.1 282.9,108.7 283.2,103.6 283.5,101.5 283.8,103.4 284.1,103.4 284.4,104.7 284.7,100.6 285.0,102.1 285.3,102.6 285.6,105.0 285.9,105.7 286.0,104.0 286.2,105.6 286.5,104.0 286.8,103.9 287.1,99.3 287.4,102.0 287.7,101.7 288.0,104.3 288.3,103.7 288.6,101.8 288.9,103.5 289.2,103.2 289.5,104.0 289.8,102.3 290.1,102.0 290.4,105.3 290.7,102.6 291.0,104.7 291.3,101.3 291.6,102.4 291.9,102.2 292.2,100.9 292.5,104.0 292.8,100.4 293.1,102.9 293.4,98.8 293.7,103.6 294.0,102.2 294.3,104.0 294.6,105.7 294.9,100.9 295.2,101.9 295.5,99.7 295.8,101.0 296.0,101.8 296.1,98.8 296.4,103.4 296.7,103.0 297.0,103.8 297.3,100.7 297.6,102.1 297.9,99.9 298.2,101.3 298.5,97.1 298.8,101.6 299.1,101.8 299.4,100.8 299.7,100.9 300.0,98.1 300.3,100.0 300.6,99.8 300.9,101.3 301.0,101.6 301.2,100.3 301.5,100.9 301.8,101.8 302.1,99.4 302.4,102.6 302.7,104.3 303.0,101.2 303.3,99.9 303.6,100.8 303.9,102.4 304.2,102.6 304.5,98.1 304.8,100.7 305.1,100.5 305.4,99.7 305.7,100.8 306.0,101.3 306.3,101.7 306.6,98.7 306.9,99.5 307.2,95.9 307.5,102.4 307.8,96.7 308.1,100.4 308.4,99.3 308.7,99.1 309.0,97.2 309.3,98.2 309.6,98.3 309.9,97.9 310.2,98.4 310.5,98.8 310.8,97.8 311.0,99.5 311.1,100.2 311.4,97.9 311.7,100.4 312.0,99.4 312.3,98.2 312.6,99.9 312.9,101.4 313.2,98.9 313.5,96.4 313.8,101.0 314.1,101.6 314.4,97.7 314.7,100.1 315.0,101.1 315.3,96.3 315.6,101.6 315.9,101.5 316.0,101.4 316.2,102.6 316.5,98.3 316.8,101.6 317.1,103.9 317.4,96.5 317.7,99.7 318.0,101.6 318.3,99.5 318.6,97.5 318.9,101.3 319.2,101.2 319.5,99.8 319.8,101.5 320.1,102.9 320.4,103.0 320.7,102.0 321.0,99.2 321.3,100.8 321.6,97.5 321.9,99.5 322.2,101.6 322.5,102.4 322.8,101.6 323.1,101.7 323.4,98.4 323.7,99.7 324.0,99.8 324.3,100.8 324.6,100.6 324.9,105.4 325.2,103.3 325.5,99.9 325.8,100.6 326.0,101.1 326.1,101.2 326.4,101.4 326.7,98.8 327.0,104.2 327.3,103.1 327.6,103.1 327.9,102.0 328.2,102.8 328.5,101.7 328.8,98.9 329.1,99.7 329.4,104.7 329.7,100.4 330.0,98.7 330.3,104.8 330.6,101.0 330.9,102.2 331.2,99.5 331.5,105.4 331.8,99.7 332.1,96.6 332.4,84.8 332.5,87.8 332.7,89.7 333.0,93.5 333.2,102.5 333.6,102.2 333.9,97.3 334.2,103.0 334.5,102.2 334.8,103.2 335.1,100.1 335.4,101.6 335.7,101.2 336.0,99.4 336.3,102.6 336.6,101.9 336.9,106.0 337.2,102.9 337.5,105.7 337.8,105.1 338.1,102.3 338.4,100.4 338.5,104.0 338.7,104.6 339.0,105.5 339.3,104.4 339.6,104.6 339.9,102.9 340.2,102.9 340.5,109.8 340.8,106.5 341.1,102.4 341.4,105.2 341.7,105.8 342.0,102.2 342.2,104.9 342.6,106.8 342.9,108.8 343.2,108.9 343.5,105.7 343.8,106.0 344.1,104.2 344.4,108.1 344.7,109.8 345.0,106.6 345.3,107.9 345.6,106.8 345.9,106.3 346.2,106.4 346.5,110.2 346.8,109.7 347.1,109.1 347.2,103.7 347.4,106.8 347.7,109.6 348.0,105.4 348.3,102.6 348.6,104.0 348.9,101.7 349.2,100.6 349.5,101.0 349.8,100.6 350.1,98.6 350.4,98.2 350.7,95.8 351.0,96.7 351.3,97.5 351.6,95.9 351.9,94.6 352.2,91.7 352.5,96.4 352.8,93.0 353.1,96.6 353.4,95.3 353.7,97.7 354.0,98.9 354.3,97.1 354.6,93.3 354.8,95.5 354.9,97.2 355.2,96.8 355.5,98.3 355.8,100.5 356.1,97.8 356.4,96.1 356.7,98.1 357.0,95.1 357.2,96.5 357.6,95.1 357.9,90.4 358.2,95.0 358.5,95.9 358.8,91.9 359.1,93.7 359.4,92.9 359.7,91.2 360.0,91.4 360.3,94.5 360.6,88.7 360.9,93.2 361.2,96.1 361.5,96.7 361.8,100.5 362.1,94.9 362.2,93.6 362.4,98.1 362.7,94.3 363.0,97.0 363.3,98.2 363.6,102.3 363.9,100.2 364.2,98.9 364.5,101.8 364.8,104.8 365.1,98.6 365.4,98.7 365.7,102.0 366.0,99.5 366.3,96.8 366.6,97.4 366.9,97.1 367.2,94.5 367.5,94.7 367.8,97.7 368.1,95.1 368.4,95.6 368.7,92.7 369.0,91.3 369.3,91.8 369.6,89.2 369.8,91.3 369.9,92.0 370.2,89.1 370.5,92.4 370.8,92.3 371.1,97.2 371.4,92.9 371.7,96.8 372.0,95.0 372.2,99.3 372.6,98.4 372.9,100.1 373.2,101.6 373.5,102.2 373.8,102.9 374.1,104.2 374.4,105.2 374.7,104.8 375.0,106.4 375.3,107.6 375.6,107.6 375.9,109.1 376.0,112.5 376.2,106.9 376.5,111.4 376.8,106.8 377.1,107.5 377.4,105.7 377.7,104.6 378.0,104.9 378.3,105.8 378.5,102.4 378.6,102.1 378.9,100.4 379.2,103.7 379.5,101.4 379.8,100.1 380.1,97.3 380.4,93.2 380.7,96.5 381.0,91.7 381.3,94.3 381.6,97.5 381.9,95.1 382.2,95.2 382.5,93.1 382.8,98.1 383.1,97.9 383.4,96.7 383.5,98.3 383.7,94.8 384.0,95.3 384.3,96.6 384.6,97.2 384.9,95.2 385.2,92.6 385.5,93.4 385.8,95.9 386.0,92.6 386.1,93.8 386.4,93.3 386.7,90.9 387.0,91.2 387.3,87.4 387.6,88.7 387.9,89.1 388.2,89.5 388.5,89.9 388.8,88.1 389.1,90.8 389.4,90.9 389.7,90.9 390.0,91.9 390.3,94.1 390.6,95.2 390.9,95.0 391.0,100.8 391.2,96.7 391.5,98.5 391.8,98.0 392.1,103.9 392.4,96.6 392.7,100.8 393.0,102.8 393.3,105.3 393.5,103.8 393.6,101.9 393.9,106.3 394.2,104.8 394.5,103.2 394.8,103.3 395.1,103.7 395.4,104.4 395.7,101.2 396.0,104.5 396.3,103.5 396.6,105.2 396.9,105.0 397.2,102.7 397.5,106.8 397.8,105.8 398.1,103.3 398.4,103.3 398.5,104.0 398.7,105.5 399.0,107.0 399.3,103.0 399.6,103.0 399.9,105.0 400.2,104.0 400.5,103.7 400.8,103.5 401.1,103.2 401.4,106.8 401.7,105.2 402.0,102.8 402.3,105.3 402.6,106.0 402.9,103.2 403.2,102.8 403.5,99.5 403.8,102.5 404.1,102.5 404.4,104.2 404.7,100.2 405.0,99.1 405.3,101.0 405.6,102.4 405.9,98.9 406.2,102.0 406.5,100.8 406.8,100.2 407.1,102.3 407.4,103.7 407.7,99.5 408.0,102.3 408.3,101.5 408.5,102.7 408.6,101.7 408.9,100.8 409.2,103.3 409.5,102.6 409.8,100.4 410.1,98.8 410.4,100.9 410.7,102.4 411.0,103.2 411.3,100.9 411.6,101.2 411.9,99.0 412.2,101.5 412.5,102.6 412.8,101.4 413.1,102.3 413.4,100.7 413.5,100.8 413.7,102.9 414.0,100.0 414.3,102.8 414.6,103.0 414.9,102.5 415.2,103.0 415.5,102.8 415.8,102.5 416.0,103.8" fill="none" stroke="#e8e050" stroke-width="0.55" stroke-linejoin="round"/>
<path d="M270.0,103.6 270.8,100.4 271.5,98.3 271.6,99.1 272.4,96.8 273.2,96.4 273.5,94.4 274.0,93.3 274.8,91.3 275.5,90.1 275.6,91.1 276.4,94.8 277.2,99.0 278.0,100.3 278.8,101.2 279.6,100.9 280.4,102.6 281.0,102.0 281.2,102.2 282.0,102.6 282.8,104.0 283.6,103.6 284.4,103.5 285.2,103.1 286.0,103.2 286.8,103.3 287.6,104.2 288.4,103.9 289.2,103.2 290.0,102.7 290.8,102.0 291.0,102.7 291.6,103.1 292.4,102.9 293.2,102.7 294.0,102.0 294.8,102.4 295.6,101.9 296.0,102.4 296.4,102.0 297.2,101.9 298.0,101.8 298.8,101.3 299.6,102.1 300.4,100.8 301.0,101.7 301.2,101.0 302.0,100.8 302.8,100.9 303.6,100.2 304.4,99.8 305.2,99.7 306.0,99.5 306.8,99.9 307.6,99.9 308.4,99.5 309.2,98.5 310.0,99.1 310.8,99.3 311.0,98.2 311.6,98.5 312.4,99.6 313.2,99.3 314.0,100.1 314.8,99.6 315.6,99.3 316.0,100.1 316.4,100.2 317.2,100.5 318.0,100.1 318.8,100.6 319.6,102.1 320.4,101.0 321.0,102.2 321.2,100.9 322.0,101.6 322.8,101.7 323.6,102.1 324.4,101.8 325.2,101.5 326.0,102.0 326.8,101.3 327.6,100.8 328.4,100.2 329.2,103.1 330.0,102.8 330.8,103.3 331.6,102.7 331.8,101.8 332.4,88.0 332.5,86.5 333.2,101.2 334.0,102.4 334.8,102.4 335.6,102.8 336.4,102.3 337.2,103.6 338.0,103.2 338.5,104.3 338.8,104.6 339.6,104.1 340.4,105.0 341.2,105.0 342.0,105.0 342.2,104.9 342.8,106.4 343.6,107.3 344.4,108.2 344.8,108.5 345.2,108.4 346.0,108.1 346.8,107.1 347.2,106.0 347.6,105.3 348.4,103.4 349.2,101.2 349.8,100.1 350.0,99.0 350.8,97.1 351.6,95.6 352.2,94.0 352.4,93.9 353.2,96.8 354.0,97.2 354.8,99.2 355.6,97.6 356.4,96.1 357.2,95.4 358.0,94.4 358.8,92.7 359.6,91.7 359.8,92.6 360.4,92.2 361.2,94.1 362.0,96.1 362.2,96.2 362.8,97.1 363.6,99.3 364.4,101.4 364.8,102.3 365.2,101.4 366.0,100.2 366.8,97.5 367.2,96.0 367.6,96.0 368.4,94.4 369.2,92.0 369.8,91.0 370.0,91.4 370.8,94.0 371.6,96.3 372.2,97.4 372.4,98.6 373.2,100.4 374.0,103.2 374.8,106.0 375.6,108.8 376.0,110.8 376.4,108.2 377.2,106.7 378.0,104.1 378.5,103.0 378.8,100.9 379.6,98.6 380.4,97.6 381.0,95.6 381.2,95.8 382.0,95.9 382.8,97.3 383.5,97.5 383.6,96.7 384.4,96.0 385.2,94.8 386.0,93.1 386.8,91.4 387.6,89.4 388.4,87.9 388.5,87.9 389.2,90.5 390.0,93.3 390.8,95.0 391.0,96.6 391.6,98.5 392.4,100.7 393.2,102.4 393.5,102.3 394.0,104.0 394.8,103.7 395.6,104.9 396.4,103.9 397.2,105.1 398.0,104.7 398.5,104.2 398.8,104.7 399.6,104.4 400.4,104.5 401.2,104.1 402.0,103.9 402.8,103.3 403.5,102.3 403.6,102.3 404.4,102.5 405.2,102.2 406.0,101.4 406.8,101.1 407.6,102.5 408.4,102.1 408.5,103.0 409.2,101.8 410.0,102.6 410.8,102.1 411.6,102.3 412.4,102.0 413.2,102.6 413.5,102.3 414.0,102.5 414.8,103.6 415.6,104.5 416.0,105.1" fill="none" stroke="#e8e050" stroke-width="0.6" stroke-linejoin="round"/>
<path d="M270.0,145.0 270.3,136.1 270.6,139.7 270.9,132.6 271.2,135.2 271.5,131.9 271.8,135.7 272.1,123.3 272.4,129.5 272.7,128.5 273.0,131.6 273.3,126.6 273.5,127.1 273.6,132.2 273.9,125.6 274.2,124.9 274.5,128.4 274.8,119.2 275.1,127.7 275.4,129.0 275.7,130.6 276.0,127.3 276.3,130.0 276.5,132.6 276.6,132.7 276.9,136.3 277.2,133.6 277.5,137.9 277.8,134.5 278.1,135.9 278.4,133.6 278.7,134.5 279.0,137.3 279.3,138.7 279.6,135.7 279.8,139.8 279.9,136.6 280.2,140.1 280.5,134.6 280.8,136.4 281.1,138.4 281.4,137.0 281.7,136.1 282.0,138.4 282.3,139.1 282.6,136.7 282.9,138.8 283.2,136.4 283.5,136.7 283.8,140.8 284.1,137.6 284.4,138.0 284.7,140.0 285.0,136.6 285.3,136.4 285.6,137.5 285.9,138.0 286.2,139.6 286.5,137.9 286.8,137.3 287.1,136.3 287.4,138.2 287.7,138.1 288.0,140.8 288.3,136.5 288.5,136.2 288.6,136.0 288.9,138.5 289.2,139.6 289.5,141.4 289.8,136.0 290.1,139.0 290.4,137.8 290.7,141.3 291.0,139.1 291.3,140.9 291.6,138.1 291.9,139.6 292.2,138.5 292.5,136.9 292.8,139.5 293.1,137.5 293.4,134.2 293.5,137.7 293.7,135.7 294.0,138.6 294.3,140.4 294.6,138.3 294.9,138.7 295.2,135.8 295.5,136.5 295.8,136.5 296.1,140.7 296.4,136.7 296.7,137.7 297.0,133.9 297.3,136.1 297.6,137.1 297.9,136.6 298.2,136.2 298.5,137.5 298.8,137.7 299.1,135.0 299.4,134.7 299.7,137.9 300.0,138.3 300.3,134.6 300.6,138.0 300.9,134.7 301.2,136.6 301.5,138.9 301.8,134.2 302.1,136.9 302.4,136.3 302.7,134.2 303.0,138.0 303.3,134.9 303.5,135.3 303.6,134.8 303.9,137.5 304.2,137.6 304.5,138.9 304.8,135.8 305.1,134.7 305.4,138.1 305.7,134.5 306.0,136.8 306.3,138.5 306.6,137.2 306.9,132.9 307.2,134.3 307.5,134.5 307.8,136.9 308.1,134.1 308.4,136.6 308.5,135.5 308.7,134.8 309.0,134.2 309.3,132.1 309.6,134.9 309.9,132.3 310.2,134.2 310.5,129.4 310.8,127.5 311.1,132.3 311.4,127.3 311.5,129.0 311.7,128.2 312.0,128.5 312.3,127.7 312.6,125.9 312.9,125.7 313.2,127.7 313.5,126.0 313.8,131.0 314.1,129.2 314.4,132.3 314.7,130.0 315.0,132.7 315.3,131.2 315.6,131.5 315.9,133.3 316.0,133.7 316.2,138.5 316.5,131.8 316.8,133.1 317.1,135.5 317.4,134.3 317.7,135.1 318.0,136.4 318.3,135.3 318.6,134.7 318.9,133.8 319.2,136.0 319.5,137.3 319.8,136.7 320.1,138.2 320.4,135.5 320.7,136.9 321.0,135.0 321.3,133.3 321.6,137.7 321.9,135.7 322.2,137.5 322.5,135.2 322.8,133.7 323.1,134.6 323.4,136.0 323.7,135.7 324.0,136.6 324.3,137.8 324.6,136.9 324.9,137.9 325.2,136.9 325.5,136.1 325.8,135.8 326.0,133.7 326.1,138.3 326.4,138.9 326.7,135.3 327.0,135.5 327.3,135.7 327.6,137.6 327.9,137.2 328.2,136.6 328.5,136.5 328.8,133.5 329.1,136.0 329.4,135.8 329.7,137.0 330.0,135.1 330.3,136.3 330.6,136.6 330.9,140.5 331.0,135.0 331.2,138.7 331.5,132.9 331.8,133.4 332.1,130.9 332.4,133.5 332.7,130.5 333.0,129.4 333.3,132.5 333.6,134.4 333.9,132.8 334.2,135.5 334.5,135.9 334.8,139.5 335.1,133.9 335.4,141.2 335.7,137.3 336.0,134.4 336.3,138.3 336.6,136.4 336.9,137.8 337.2,138.0 337.5,139.3 337.8,134.5 338.1,138.4 338.4,139.7 338.5,135.5 338.7,139.0 339.0,139.2 339.3,137.0 339.6,134.9 339.9,138.3 340.2,137.5 340.5,141.0 340.8,137.9 341.1,139.7 341.4,139.4 341.7,139.1 342.0,136.7 342.2,137.8 342.6,139.5 342.9,139.7 343.2,140.5 343.5,142.5 343.8,141.9 344.1,143.8 344.4,146.9 344.7,144.4 345.0,142.8 345.3,140.7 345.6,144.1 345.9,143.9 346.2,143.0 346.5,140.0 346.8,142.7 347.1,140.7 347.2,140.3 347.4,138.5 347.7,138.0 348.0,136.8 348.3,137.7 348.6,135.2 348.9,135.3 349.2,133.5 349.5,131.1 349.8,132.5 350.1,132.0 350.4,131.5 350.7,125.8 351.0,132.2 351.3,130.1 351.6,128.2 351.9,132.7 352.2,129.3 352.5,130.8 352.8,130.2 353.1,126.5 353.4,132.6 353.7,128.7 354.0,132.7 354.3,130.7 354.6,130.4 354.8,127.3 354.9,130.3 355.2,128.6 355.5,129.6 355.8,126.8 356.1,129.0 356.4,125.7 356.7,125.2 357.0,128.6 357.3,125.7 357.6,122.6 357.9,124.0 358.2,119.9 358.5,120.3 358.8,120.7 359.0,119.2 359.1,119.2 359.4,121.7 359.7,120.2 360.0,120.3 360.3,121.1 360.6,121.7 360.9,124.8 361.2,124.8 361.5,122.5 361.8,128.3 362.1,128.3 362.2,126.6 362.4,125.8 362.7,128.4 363.0,128.1 363.3,131.1 363.6,131.0 363.9,134.4 364.2,130.8 364.5,133.5 364.8,135.8 365.1,134.1 365.4,133.5 365.7,131.8 366.0,136.5 366.3,132.5 366.6,133.2 366.9,130.4 367.2,130.4 367.5,130.1 367.8,131.9 368.1,130.8 368.4,130.8 368.7,128.8 369.0,127.7 369.3,123.9 369.6,121.8 369.8,124.8 369.9,121.9 370.2,124.6 370.5,123.1 370.8,126.7 371.1,125.6 371.4,124.6 371.7,126.1 372.0,128.9 372.2,127.6 372.6,130.5 372.9,128.9 373.2,131.2 373.5,129.7 373.8,134.4 374.1,130.1 374.4,135.0 374.7,136.7 375.0,132.8 375.3,135.3 375.6,136.6 375.9,140.0 376.0,139.8 376.2,139.0 376.5,140.2 376.8,142.3 377.1,136.1 377.4,137.5 377.7,136.6 378.0,136.9 378.3,130.7 378.5,134.4 378.6,131.6 378.9,130.6 379.2,131.9 379.5,129.7 379.8,126.5 380.1,127.5 380.4,125.0 380.7,125.4 381.0,125.2 381.3,124.6 381.6,128.5 381.9,130.7 382.2,128.4 382.5,125.4 382.8,131.1 383.1,132.5 383.4,129.5 383.5,130.7 383.7,131.9 384.0,130.0 384.3,131.3 384.6,129.9 384.9,130.2 385.2,127.7 385.5,127.8 385.8,127.0 386.0,130.3 386.1,128.2 386.4,126.3 386.7,127.0 387.0,124.8 387.3,125.4 387.6,125.4 387.9,121.9 388.2,119.7 388.5,119.2 388.8,124.0 389.1,122.9 389.4,122.3 389.7,124.4 390.0,123.7 390.3,128.8 390.6,128.2 390.9,128.1 391.0,126.6 391.2,133.4 391.5,131.1 391.8,128.2 392.1,132.1 392.4,134.1 392.7,135.6 393.0,135.4 393.3,140.0 393.5,139.9 393.6,139.3 393.9,138.1 394.2,136.3 394.5,138.4 394.8,138.7 395.1,136.9 395.4,139.4 395.7,139.9 396.0,138.0 396.3,138.3 396.6,142.2 396.9,141.6 397.2,141.4 397.5,136.0 397.8,136.4 398.1,142.9 398.4,137.9 398.5,141.6 398.7,139.5 399.0,140.6 399.3,137.9 399.6,138.7 399.9,139.5 400.2,138.6 400.5,138.6 400.8,141.1 401.1,138.7 401.4,140.6 401.7,137.4 402.0,137.7 402.3,139.3 402.6,137.9 402.9,139.8 403.2,137.9 403.5,137.7 403.8,137.7 404.1,134.9 404.4,136.5 404.7,139.1 405.0,137.2 405.3,137.6 405.6,139.2 405.9,135.5 406.2,137.6 406.5,136.0 406.8,138.5 407.1,134.2 407.4,136.2 407.7,136.0 408.0,136.3 408.3,135.9 408.5,139.8 408.6,136.4 408.9,136.3 409.2,134.1 409.5,134.5 409.8,135.3 410.1,134.7 410.4,137.4 410.7,135.6 411.0,135.6 411.3,136.1 411.6,134.8 411.9,134.3 412.2,135.4 412.5,136.9 412.8,136.7 413.1,135.7 413.4,139.9 413.5,137.8 413.7,138.6 414.0,140.3 414.3,136.5 414.6,139.8 414.9,138.8 415.2,139.1 415.5,136.0 415.8,137.4 416.0,139.0" fill="none" stroke="#ee3cee" stroke-width="0.55" stroke-linejoin="round"/>
<path d="M270.0,138.7 270.8,135.3 271.5,133.1 271.6,132.4 272.4,131.4 273.2,129.4 273.5,128.9 274.0,126.8 274.8,124.7 275.6,129.7 276.4,133.5 276.5,134.5 277.2,134.2 278.0,134.6 278.8,136.1 279.6,135.5 279.8,137.9 280.4,137.2 281.2,137.8 282.0,137.1 282.8,136.7 283.5,137.2 283.6,137.3 284.4,138.3 285.2,137.6 286.0,138.0 286.8,139.3 287.6,138.1 288.4,138.6 288.5,139.6 289.2,140.0 290.0,137.8 290.8,137.1 291.6,137.9 292.4,138.2 293.2,137.9 293.5,137.5 294.0,137.1 294.8,138.0 295.6,137.2 296.4,137.0 297.2,137.2 298.0,137.8 298.5,137.0 298.8,138.2 299.6,136.7 300.4,137.1 301.2,135.6 302.0,136.3 302.8,136.6 303.5,136.2 303.6,136.1 304.4,136.0 305.2,135.3 306.0,135.7 306.8,136.5 307.6,135.8 308.4,134.9 308.5,135.3 309.2,133.4 310.0,132.5 310.8,131.3 311.5,129.0 311.6,129.2 312.4,128.4 313.2,128.3 313.5,127.7 314.0,128.4 314.8,131.7 315.6,134.1 316.0,134.4 316.4,133.6 317.2,134.9 318.0,135.8 318.8,135.2 319.6,136.1 320.4,136.2 321.0,135.3 321.2,136.2 322.0,136.8 322.8,136.7 323.6,136.7 324.4,136.3 325.2,137.1 326.0,137.2 326.8,137.4 327.6,137.9 328.4,136.9 329.2,137.4 330.0,136.9 330.8,138.0 331.0,136.8 331.6,135.6 332.4,130.8 333.0,128.5 333.2,130.3 334.0,134.1 334.8,138.5 335.6,138.3 336.4,138.3 337.2,137.4 338.0,137.7 338.5,138.2 338.8,137.5 339.6,138.1 340.4,138.9 341.2,138.7 342.0,139.1 342.2,139.8 342.8,140.5 343.6,141.2 344.4,143.5 344.8,144.1 345.2,143.3 346.0,143.3 346.8,141.5 347.2,140.3 347.6,138.9 348.4,137.2 349.2,134.6 349.8,133.5 350.0,132.4 350.8,131.9 351.6,129.8 352.2,129.1 352.4,129.3 353.2,129.7 354.0,131.1 354.8,131.4 355.6,129.2 356.4,126.9 357.2,125.2 358.0,122.2 358.8,121.3 359.0,120.5 359.6,121.7 360.4,123.6 361.2,124.7 362.0,126.0 362.2,127.3 362.8,128.3 363.6,131.4 364.4,133.0 364.8,135.0 365.2,134.6 366.0,133.8 366.8,132.5 367.2,132.1 367.6,130.1 368.4,126.8 369.2,124.8 369.8,122.4 370.0,123.2 370.8,125.0 371.6,125.5 372.2,127.1 372.4,128.5 373.2,130.6 374.0,133.9 374.8,135.9 375.6,138.3 376.0,140.5 376.4,139.0 377.2,137.4 378.0,134.9 378.5,133.6 378.8,132.8 379.6,129.8 380.4,127.2 381.0,124.7 381.2,125.8 382.0,127.6 382.8,129.1 383.5,129.7 383.6,130.5 384.4,128.6 385.2,129.6 386.0,127.9 386.8,125.8 387.6,122.6 388.4,120.2 388.5,120.8 389.2,123.2 390.0,125.0 390.8,128.2 391.0,128.6 391.6,130.0 392.4,135.1 393.2,137.4 393.5,139.0 394.0,139.1 394.8,138.3 395.6,139.5 396.4,138.6 397.2,138.2 398.0,139.2 398.5,139.2 398.8,138.7 399.6,138.7 400.4,139.3 401.2,138.6 402.0,138.0 402.8,137.5 403.5,138.6 403.6,137.4 404.4,136.5 405.2,137.9 406.0,136.9 406.8,135.8 407.6,136.0 408.4,135.8 408.5,135.3 409.2,136.1 410.0,136.3 410.8,137.0 411.6,136.7 412.4,136.6 413.2,136.9 413.5,137.2 414.0,138.0 414.8,138.8 415.6,137.8 416.0,138.3" fill="none" stroke="#ee3cee" stroke-width="0.6" stroke-linejoin="round"/>
<path d="M270.0,172.5 270.3,176.9 270.6,174.2 270.9,169.6 271.2,166.3 271.5,168.3 271.8,170.0 272.1,164.1 272.4,167.5 272.7,159.9 273.0,164.3 273.3,168.3 273.5,161.7 273.6,162.4 273.9,168.3 274.2,161.9 274.5,167.4 274.8,174.5 275.1,169.4 275.4,173.4 275.7,172.9 276.0,166.7 276.3,168.6 276.6,170.2 276.9,172.0 277.2,172.9 277.5,171.4 277.8,170.1 278.1,167.2 278.4,172.2 278.7,168.5 279.0,172.3 279.3,173.4 279.6,167.5 279.8,175.0 279.9,170.6 280.2,173.4 280.5,173.1 280.8,175.1 281.1,173.3 281.4,174.1 281.7,172.8 282.0,169.6 282.3,170.8 282.6,172.9 282.9,173.3 283.2,171.7 283.5,170.5 283.8,169.8 284.1,172.4 284.4,177.9 284.7,172.1 285.0,171.3 285.3,173.1 285.6,173.6 285.9,172.7 286.2,168.9 286.5,171.1 286.8,171.4 287.1,173.8 287.4,171.6 287.7,172.7 288.0,171.4 288.3,172.3 288.5,177.1 288.6,174.7 288.9,173.5 289.2,171.2 289.5,170.6 289.8,174.4 290.1,172.3 290.4,173.8 290.7,173.1 291.0,172.7 291.3,168.4 291.6,174.2 291.9,175.8 292.2,172.8 292.5,172.3 292.8,172.6 293.1,171.8 293.4,168.6 293.5,171.2 293.7,171.7 294.0,173.4 294.3,170.1 294.6,171.4 294.9,172.1 295.2,173.0 295.5,175.9 295.8,173.4 296.1,173.7 296.4,170.3 296.7,174.8 297.0,169.3 297.3,174.6 297.6,173.4 297.9,172.0 298.2,170.1 298.5,172.6 298.8,170.9 299.1,173.8 299.4,166.6 299.7,171.6 300.0,166.7 300.3,171.3 300.6,170.7 300.9,172.5 301.2,169.0 301.5,169.5 301.8,167.3 302.1,170.0 302.4,171.1 302.7,170.4 303.0,168.9 303.3,170.2 303.5,171.4 303.6,170.8 303.9,166.8 304.2,169.4 304.5,168.6 304.8,165.6 305.1,171.0 305.4,170.6 305.7,168.2 306.0,170.7 306.3,170.0 306.6,168.8 306.9,170.0 307.2,169.2 307.5,168.3 307.8,171.2 308.1,167.0 308.4,172.8 308.5,170.0 308.7,168.7 309.0,170.0 309.3,167.4 309.6,168.2 309.9,172.2 310.2,169.4 310.5,168.1 310.8,167.6 311.0,169.1 311.1,169.0 311.4,167.2 311.7,170.1 312.0,168.5 312.3,168.8 312.6,170.4 312.9,168.3 313.2,167.2 313.5,170.0 313.8,171.7 314.1,169.6 314.4,171.4 314.7,171.9 315.0,169.0 315.3,169.7 315.6,169.4 315.9,171.1 316.2,170.7 316.5,170.1 316.8,172.0 317.1,170.5 317.4,169.5 317.7,168.2 318.0,169.5 318.3,171.6 318.5,170.4 318.6,169.4 318.9,170.2 319.2,167.8 319.5,168.1 319.8,171.0 320.1,169.4 320.4,169.6 320.7,171.7 321.0,169.0 321.3,169.0 321.6,171.9 321.9,170.5 322.2,166.4 322.5,169.0 322.8,167.6 323.1,168.2 323.4,168.7 323.5,166.4 323.7,168.0 324.0,172.2 324.3,169.0 324.6,168.7 324.9,171.3 325.2,167.4 325.5,169.4 325.8,171.9 326.1,169.9 326.4,170.7 326.7,169.8 327.0,171.0 327.3,171.5 327.6,169.9 327.9,170.2 328.2,170.4 328.5,166.7 328.8,171.9 329.1,173.5 329.4,171.9 329.7,171.2 330.0,170.2 330.3,171.3 330.6,173.8 330.9,173.0 331.2,169.3 331.5,172.8 331.8,169.3 332.1,163.7 332.4,159.5 332.5,159.1 332.7,160.9 333.0,167.7 333.2,170.8 333.6,173.1 333.9,168.2 334.2,170.8 334.5,171.6 334.8,173.2 335.1,167.4 335.4,170.7 335.7,167.9 336.0,172.4 336.3,170.6 336.6,172.2 336.9,173.4 337.2,173.1 337.5,171.3 337.8,172.9 338.1,177.0 338.4,170.9 338.5,172.7 338.7,170.9 339.0,173.2 339.3,170.6 339.6,173.2 339.9,169.8 340.2,172.8 340.5,176.7 340.8,170.5 341.1,171.9 341.4,174.5 341.7,171.4 342.0,169.4 342.2,170.6 342.6,174.1 342.9,175.9 343.2,174.5 343.5,174.9 343.8,177.2 344.1,175.7 344.4,178.5 344.7,179.2 345.0,176.3 345.3,179.0 345.5,178.1 345.6,176.3 345.9,175.7 346.2,177.1 346.5,171.1 346.8,172.0 347.1,176.3 347.4,177.3 347.7,174.0 348.0,174.4 348.3,169.4 348.5,169.7 348.6,170.8 348.9,170.4 349.2,170.7 349.5,168.9 349.8,168.6 350.1,167.4 350.4,167.9 350.7,167.9 351.0,166.8 351.3,167.6 351.6,165.0 351.9,164.5 352.2,162.0 352.5,162.0 352.8,166.3 353.1,165.6 353.4,164.7 353.5,163.9 353.7,162.2 354.0,160.1 354.3,162.3 354.6,162.5 354.9,158.4 355.2,164.8 355.5,161.2 355.8,162.8 356.0,164.3 356.1,164.6 356.4,161.3 356.7,163.2 357.0,162.9 357.3,161.0 357.6,161.0 357.9,158.5 358.2,160.3 358.5,154.0 358.8,158.9 359.0,159.3 359.1,160.8 359.4,159.2 359.7,159.7 360.0,160.1 360.3,168.3 360.6,161.6 360.9,164.1 361.2,161.5 361.5,164.5 361.8,162.8 362.1,164.6 362.2,166.9 362.4,169.0 362.7,167.5 363.0,169.0 363.3,169.1 363.6,168.9 363.9,170.5 364.2,174.5 364.5,172.9 364.8,172.6 365.1,171.0 365.4,171.7 365.7,169.1 366.0,169.8 366.3,164.7 366.6,167.5 366.9,163.7 367.2,164.0 367.5,167.1 367.8,164.3 368.1,160.7 368.4,160.1 368.7,161.2 369.0,160.5 369.3,158.1 369.6,158.5 369.8,156.0 369.9,153.7 370.2,160.2 370.5,158.7 370.8,161.7 371.1,161.7 371.4,162.6 371.7,162.7 372.0,166.4 372.2,169.9 372.6,169.2 372.9,169.2 373.2,169.6 373.5,168.8 373.8,170.9 374.1,172.3 374.4,168.6 374.7,172.1 375.0,174.9 375.3,177.8 375.5,180.0 375.6,180.1 375.9,174.6 376.2,175.0 376.5,173.0 376.8,171.2 377.1,171.0 377.4,171.2 377.7,171.8 378.0,166.9 378.3,168.5 378.5,166.1 378.6,170.1 378.9,169.9 379.2,165.7 379.5,164.6 379.8,166.5 380.1,166.6 380.4,162.7 380.7,162.9 381.0,163.5 381.3,161.4 381.6,165.9 381.9,163.5 382.2,163.6 382.5,161.7 382.8,166.0 383.1,161.8 383.4,163.3 383.5,163.5 383.7,163.9 384.0,161.2 384.3,161.7 384.6,163.6 384.9,162.4 385.2,162.3 385.5,163.3 385.8,162.0 386.0,162.6 386.1,160.4 386.4,158.2 386.7,162.0 387.0,155.4 387.3,155.3 387.6,154.8 387.9,160.1 388.2,155.2 388.5,156.1 388.8,153.7 389.1,153.9 389.4,156.9 389.7,156.8 390.0,158.7 390.3,160.6 390.6,160.6 390.9,161.4 391.0,161.1 391.2,162.2 391.5,164.7 391.8,167.2 392.1,165.4 392.4,169.0 392.7,171.5 393.0,171.2 393.3,172.8 393.5,177.1 393.6,175.6 393.9,177.5 394.2,176.9 394.5,173.1 394.8,172.6 395.1,173.3 395.4,175.3 395.7,167.6 396.0,173.7 396.3,175.6 396.6,173.5 396.9,174.0 397.2,173.0 397.5,170.2 397.8,174.6 398.1,172.7 398.4,173.8 398.5,173.4 398.7,176.8 399.0,174.1 399.3,173.8 399.6,173.0 399.9,171.4 400.2,173.4 400.5,174.5 400.8,172.6 401.1,168.9 401.4,171.5 401.7,178.6 402.0,171.8 402.3,172.7 402.6,169.1 402.9,171.2 403.2,170.6 403.5,173.3 403.8,172.8 404.1,172.3 404.4,172.8 404.7,170.0 405.0,173.7 405.3,170.3 405.6,172.2 405.9,174.1 406.2,169.4 406.5,170.8 406.8,169.8 407.1,169.9 407.4,170.1 407.7,169.5 408.0,169.4 408.3,170.7 408.5,167.1 408.6,167.9 408.9,168.3 409.2,167.1 409.5,170.0 409.8,168.8 410.1,168.3 410.4,167.7 410.7,168.5 411.0,170.6 411.3,167.6 411.6,171.7 411.9,171.1 412.2,170.5 412.5,167.5 412.8,169.3 413.1,172.2 413.4,169.9 413.5,169.0 413.7,169.2 414.0,171.3 414.3,168.0 414.6,173.3 414.9,172.4 415.2,170.6 415.5,173.8 415.8,168.3 416.0,170.9" fill="none" stroke="#3ce8e8" stroke-width="0.55" stroke-linejoin="round"/>
<path d="M270.0,173.9 270.8,169.5 271.5,165.1 271.6,166.2 272.4,165.5 273.2,167.2 273.5,166.9 274.0,166.8 274.8,168.0 275.6,168.9 276.0,169.9 276.4,170.2 277.2,168.8 278.0,169.4 278.8,170.6 279.6,170.6 279.8,170.6 280.4,170.9 281.2,171.3 282.0,171.9 282.8,171.3 283.5,170.6 283.6,171.9 284.4,171.6 285.2,171.3 286.0,172.4 286.8,172.2 287.6,172.8 288.4,171.9 288.5,173.2 289.2,172.8 290.0,172.7 290.8,172.1 291.6,172.0 292.4,172.8 293.2,172.5 293.5,172.1 294.0,171.5 294.8,172.3 295.6,171.7 296.4,172.3 297.2,171.4 298.0,171.8 298.5,171.8 298.8,171.2 299.6,171.6 300.4,170.4 301.2,171.5 302.0,170.6 302.8,170.3 303.5,170.3 303.6,170.3 304.4,169.9 305.2,170.1 306.0,169.6 306.8,169.6 307.6,169.6 308.4,169.2 308.5,168.8 309.2,169.1 310.0,169.1 310.8,167.2 311.0,167.8 311.6,168.8 312.4,168.9 313.2,169.4 313.5,170.1 314.0,169.9 314.8,170.0 315.6,169.6 316.4,170.7 317.2,169.0 318.0,169.6 318.5,169.6 318.8,168.5 319.6,168.4 320.4,169.6 321.2,168.7 322.0,169.1 322.8,167.9 323.5,168.6 323.6,169.1 324.4,169.8 325.2,170.4 326.0,169.2 326.8,170.4 327.6,169.8 328.4,169.9 328.5,169.8 329.2,169.8 330.0,169.1 330.8,169.9 331.6,169.3 331.8,170.1 332.4,160.9 332.5,157.4 333.2,170.5 334.0,170.1 334.8,170.7 335.6,171.6 336.4,171.5 337.2,172.0 338.0,172.2 338.5,171.5 338.8,171.5 339.6,172.3 340.4,172.5 341.2,173.3 342.0,171.7 342.2,173.4 342.8,173.9 343.6,174.4 344.4,175.2 345.2,176.1 345.5,176.4 346.0,176.7 346.8,174.5 347.6,173.0 348.4,171.8 348.5,172.0 349.2,170.4 350.0,168.1 350.8,165.9 351.0,165.2 351.6,165.1 352.4,164.7 353.2,164.1 353.5,164.1 354.0,164.3 354.8,163.4 355.6,162.4 356.0,162.4 356.4,161.5 357.2,161.3 358.0,160.0 358.8,160.0 359.0,159.4 359.6,160.2 360.4,161.3 361.2,163.5 362.0,165.0 362.2,164.9 362.8,166.9 363.6,169.1 364.4,172.0 364.8,172.3 365.2,171.3 366.0,169.5 366.8,166.2 367.2,164.2 367.6,163.9 368.4,160.6 369.2,158.8 369.8,156.9 370.0,157.4 370.8,160.6 371.6,164.3 372.2,165.0 372.4,165.5 373.2,169.5 374.0,171.2 374.8,174.2 375.5,175.8 375.6,176.1 376.4,174.7 377.2,171.4 378.0,169.0 378.5,168.0 378.8,167.7 379.6,166.5 380.4,164.1 381.0,163.4 381.2,163.6 382.0,163.6 382.8,164.2 383.5,164.0 383.6,163.2 384.4,163.2 385.2,161.2 386.0,160.8 386.8,158.1 387.6,155.9 388.4,154.4 388.5,153.6 389.2,156.3 390.0,158.6 390.8,161.0 391.0,162.4 391.6,165.1 392.4,168.6 393.2,173.0 393.5,174.4 394.0,173.9 394.8,173.2 395.6,173.3 396.4,174.5 397.2,173.4 398.0,173.4 398.5,173.8 398.8,172.6 399.6,173.3 400.4,171.3 401.2,171.8 402.0,171.0 402.8,171.9 403.5,171.8 403.6,171.3 404.4,171.1 405.2,172.5 406.0,170.8 406.8,170.4 407.6,169.4 408.4,169.0 408.5,169.4 409.2,169.3 410.0,169.6 410.8,169.8 411.6,169.3 412.4,170.5 413.2,170.6 413.5,171.2 414.0,171.4 414.8,172.7 415.6,172.4 416.0,173.1" fill="none" stroke="#3ce8e8" stroke-width="0.6" stroke-linejoin="round"/>
<path d="M270.0,212.0 270.3,199.6 270.6,193.1 270.9,207.2 271.0,199.4 271.2,199.8 271.5,205.7 271.8,193.6 272.1,201.6 272.4,200.4 272.7,204.5 273.0,203.1 273.3,206.4 273.6,199.1 273.9,201.9 274.2,200.5 274.5,208.0 274.8,208.8 275.1,204.7 275.4,207.5 275.7,204.7 276.0,203.4 276.3,202.8 276.6,204.7 276.9,209.4 277.2,212.9 277.5,202.3 277.8,207.5 278.1,205.2 278.4,207.2 278.7,200.2 279.0,207.7 279.3,204.2 279.6,207.5 279.8,207.8 279.9,208.7 280.2,206.5 280.5,207.3 280.8,201.5 281.1,202.5 281.4,205.0 281.7,205.5 282.0,205.6 282.3,206.8 282.6,206.5 282.9,208.4 283.2,210.3 283.5,203.2 283.8,206.2 284.1,207.2 284.4,205.5 284.7,207.8 285.0,200.9 285.3,207.5 285.6,205.6 285.9,201.9 286.2,205.5 286.5,210.5 286.8,206.0 287.1,210.8 287.4,211.0 287.7,206.9 288.0,205.6 288.3,207.8 288.5,209.3 288.6,212.4 288.9,206.8 289.2,204.3 289.5,209.8 289.8,202.5 290.1,206.0 290.4,206.9 290.7,207.5 291.0,204.6 291.3,206.5 291.6,207.9 291.9,206.0 292.2,204.4 292.5,207.8 292.8,206.2 293.1,203.8 293.4,203.9 293.5,209.5 293.7,205.3 294.0,206.7 294.3,204.6 294.6,205.1 294.9,205.2 295.2,207.4 295.5,207.2 295.8,207.8 296.1,207.6 296.4,204.7 296.7,204.1 297.0,200.9 297.3,207.6 297.6,204.8 297.9,203.1 298.2,203.2 298.5,207.6 298.8,205.4 299.1,207.6 299.4,206.5 299.7,208.6 300.0,207.1 300.3,200.3 300.6,206.8 300.9,203.5 301.2,209.4 301.5,206.6 301.8,204.9 302.1,205.7 302.4,205.2 302.7,207.9 303.0,208.1 303.3,203.8 303.5,202.7 303.6,209.4 303.9,207.5 304.2,204.2 304.5,209.2 304.8,209.1 305.1,207.6 305.4,207.5 305.7,205.4 306.0,200.2 306.3,208.3 306.6,205.1 306.9,211.0 307.2,205.3 307.5,207.4 307.8,204.4 308.1,202.8 308.4,204.9 308.5,210.3 308.7,206.1 309.0,202.0 309.3,208.8 309.6,209.4 309.9,205.7 310.2,208.0 310.5,208.0 310.8,206.4 311.0,208.5 311.1,204.5 311.4,209.2 311.7,209.0 312.0,204.3 312.3,207.3 312.6,206.9 312.9,205.7 313.2,206.9 313.5,203.3 313.8,201.7 314.1,205.5 314.4,204.8 314.7,203.4 315.0,204.2 315.3,202.2 315.6,203.2 315.9,204.6 316.2,208.0 316.5,205.5 316.8,203.2 317.1,203.1 317.4,204.5 317.7,204.8 318.0,209.1 318.3,201.8 318.5,202.8 318.6,206.2 318.9,203.1 319.2,204.4 319.5,200.4 319.8,200.6 320.1,205.9 320.4,202.3 320.7,206.3 321.0,204.0 321.3,205.9 321.6,208.0 321.9,203.9 322.2,204.1 322.5,208.1 322.8,205.4 323.1,204.9 323.4,206.9 323.5,202.5 323.7,204.4 324.0,202.1 324.3,201.9 324.6,206.5 324.9,208.0 325.2,205.8 325.5,201.8 325.8,204.4 326.1,205.3 326.4,204.5 326.7,207.0 327.0,202.6 327.3,202.3 327.6,203.5 327.9,203.8 328.2,203.1 328.5,205.2 328.8,201.3 329.1,202.9 329.4,203.2 329.7,205.3 330.0,205.4 330.3,203.1 330.6,204.9 330.9,205.2 331.2,201.7 331.5,205.7 331.8,204.7 332.1,200.9 332.4,200.8 332.5,200.0 332.7,201.6 333.0,203.4 333.3,204.0 333.6,203.1 333.9,206.5 334.0,208.5 334.2,207.9 334.5,207.2 334.8,205.3 335.1,204.8 335.4,208.8 335.7,205.1 336.0,203.3 336.3,206.9 336.6,208.5 336.9,201.4 337.2,208.1 337.5,202.1 337.8,205.6 338.1,203.8 338.4,202.2 338.5,201.7 338.7,201.6 339.0,201.2 339.3,203.3 339.6,206.4 339.9,203.5 340.2,208.0 340.5,203.4 340.8,202.3 341.1,204.2 341.4,207.2 341.7,202.1 342.0,203.5 342.2,205.5 342.6,203.4 342.9,206.7 343.2,205.9 343.5,206.8 343.8,208.6 344.1,209.3 344.4,212.8 344.7,209.4 345.0,210.1 345.3,211.2 345.6,208.7 345.9,209.6 346.2,208.5 346.5,210.4 346.8,206.7 347.1,209.7 347.2,208.9 347.4,212.6 347.7,206.4 348.0,206.0 348.3,205.3 348.6,204.2 348.9,204.5 349.2,207.0 349.5,202.8 349.8,203.6 350.1,203.1 350.4,204.3 350.7,199.3 351.0,199.7 351.3,200.6 351.6,202.9 351.9,197.7 352.2,196.7 352.5,201.0 352.8,199.0 353.1,199.1 353.4,203.4 353.7,198.4 354.0,205.1 354.3,205.0 354.6,200.2 354.8,206.2 354.9,202.7 355.2,201.5 355.5,203.2 355.8,200.2 356.1,193.9 356.4,199.5 356.7,198.2 357.0,195.4 357.3,199.6 357.6,196.2 357.9,195.1 358.2,201.3 358.5,198.3 358.8,198.8 359.0,199.1 359.1,192.3 359.4,199.5 359.7,194.0 360.0,194.4 360.3,197.7 360.6,196.6 360.9,201.6 361.2,197.4 361.5,199.9 361.8,199.0 362.1,198.0 362.2,199.0 362.4,199.1 362.7,201.3 363.0,201.7 363.3,204.8 363.6,203.6 363.9,206.0 364.2,209.8 364.5,208.5 364.8,214.3 365.1,207.9 365.4,207.2 365.7,207.2 366.0,207.1 366.3,202.9 366.6,202.1 366.9,200.7 367.2,199.3 367.5,199.5 367.8,195.6 368.1,195.6 368.4,195.5 368.7,200.4 369.0,197.3 369.3,198.3 369.6,195.1 369.8,195.9 369.9,193.8 370.2,192.2 370.5,196.9 370.8,196.8 371.1,197.7 371.4,197.1 371.7,202.2 372.0,203.9 372.2,204.3 372.6,206.2 372.9,203.2 373.2,206.8 373.5,206.1 373.8,206.1 374.1,208.5 374.4,207.5 374.7,210.0 375.0,211.3 375.3,208.7 375.5,216.1 375.6,214.6 375.9,213.8 376.2,215.5 376.5,212.4 376.8,211.7 377.1,213.4 377.4,208.2 377.7,205.8 378.0,209.9 378.3,207.1 378.5,209.4 378.6,208.2 378.9,204.4 379.2,205.1 379.5,201.5 379.8,203.0 380.1,201.9 380.4,198.9 380.7,204.7 381.0,200.5 381.3,199.4 381.6,200.3 381.9,199.9 382.2,199.2 382.5,201.0 382.8,198.2 383.1,198.9 383.4,201.3 383.5,202.8 383.7,201.5 384.0,199.4 384.3,202.0 384.6,200.2 384.9,202.7 385.2,199.6 385.5,198.2 385.8,195.5 386.0,200.3 386.1,199.4 386.4,199.9 386.7,192.4 387.0,192.9 387.3,197.6 387.6,194.1 387.9,188.2 388.2,194.5 388.5,189.7 388.8,196.4 389.1,196.5 389.4,190.5 389.7,196.3 390.0,196.5 390.3,198.4 390.6,195.5 390.9,191.3 391.0,200.6 391.2,195.1 391.5,200.7 391.8,202.7 392.1,204.6 392.4,205.2 392.7,210.4 393.0,209.2 393.3,207.7 393.5,208.3 393.6,206.8 393.9,208.5 394.2,212.3 394.5,208.9 394.8,207.1 395.1,204.9 395.4,202.4 395.7,205.6 396.0,206.1 396.3,208.8 396.6,205.4 396.9,209.1 397.2,206.4 397.5,204.9 397.8,207.6 398.1,205.9 398.4,206.9 398.5,205.6 398.7,208.4 399.0,203.2 399.3,206.4 399.6,207.8 399.9,208.5 400.2,207.4 400.5,209.2 400.8,207.1 401.1,212.0 401.4,205.0 401.7,202.1 402.0,201.8 402.3,197.6 402.6,206.2 402.9,202.3 403.2,202.4 403.5,206.8 403.8,201.1 404.1,205.2 404.4,206.9 404.7,207.8 405.0,205.6 405.3,202.0 405.6,202.6 405.9,208.1 406.2,208.3 406.5,203.7 406.8,206.7 407.1,206.3 407.4,203.2 407.7,206.2 408.0,202.3 408.3,200.6 408.5,205.1 408.6,203.7 408.9,203.2 409.2,207.5 409.5,202.7 409.8,202.7 410.1,201.4 410.4,203.8 410.7,204.3 411.0,203.1 411.3,207.3 411.6,205.4 411.9,206.6 412.2,202.6 412.5,204.8 412.8,209.1 413.1,208.1 413.4,206.9 413.5,208.4 413.7,207.8 414.0,206.9 414.3,207.3 414.6,207.6 414.9,206.0 415.2,209.9 415.5,213.0 415.8,208.4 416.0,208.3" fill="none" stroke="#4040ee" stroke-width="0.55" stroke-linejoin="round"/>
<path d="M270.0,207.3 270.8,199.9 271.0,199.2 271.6,200.2 272.4,202.9 273.0,203.3 273.2,203.3 274.0,204.4 274.8,204.2 275.6,205.4 276.0,205.0 276.4,205.2 277.2,206.8 278.0,204.7 278.8,206.8 279.6,206.4 279.8,207.3 280.4,205.9 281.2,206.6 282.0,205.6 282.8,206.8 283.5,205.7 283.6,205.4 284.4,204.6 285.2,205.4 286.0,206.8 286.8,205.9 287.6,205.9 288.4,206.7 288.5,206.6 289.2,206.6 290.0,206.1 290.8,207.0 291.6,205.3 292.4,205.4 293.2,205.4 293.5,205.8 294.0,206.3 294.8,205.7 295.6,206.1 296.4,206.0 297.2,207.4 298.0,205.6 298.5,206.7 298.8,206.1 299.6,206.3 300.4,206.6 301.2,207.0 302.0,206.1 302.8,206.4 303.5,206.2 303.6,205.3 304.4,207.6 305.2,206.6 306.0,206.3 306.8,206.2 307.6,206.0 308.4,206.2 308.5,206.3 309.2,206.7 310.0,207.3 310.8,207.3 311.0,207.7 311.6,206.8 312.4,204.3 313.2,203.4 313.5,203.0 314.0,204.0 314.8,202.5 315.6,202.9 316.4,204.2 317.2,202.7 318.0,205.2 318.5,204.3 318.8,204.7 319.6,204.7 320.4,202.9 321.2,205.0 322.0,204.4 322.8,204.9 323.5,205.1 323.6,205.2 324.4,206.0 325.2,204.7 326.0,205.1 326.8,204.6 327.6,204.8 328.4,203.9 328.5,204.0 329.2,204.1 330.0,202.7 330.8,202.0 331.6,202.1 332.4,200.0 332.5,201.0 333.2,202.6 334.0,205.7 334.8,205.4 335.6,204.4 336.4,205.0 337.2,205.4 338.0,204.1 338.5,204.7 338.8,205.5 339.6,203.1 340.4,203.8 341.2,204.7 342.0,203.5 342.2,203.4 342.8,205.0 343.6,207.1 344.4,211.8 344.8,213.1 345.2,213.0 346.0,211.8 346.8,210.3 347.2,209.5 347.6,209.8 348.4,208.4 349.2,204.4 349.8,204.6 350.0,204.6 350.8,202.1 351.6,199.8 352.2,198.9 352.4,198.3 353.2,199.1 354.0,200.0 354.8,201.4 355.6,199.4 356.4,198.5 357.2,197.7 358.0,196.0 358.8,194.6 359.0,195.1 359.6,196.0 360.4,196.7 361.2,198.1 362.0,200.1 362.2,199.7 362.8,201.7 363.6,204.2 364.4,206.4 364.8,208.3 365.2,206.6 366.0,203.7 366.8,203.2 367.2,200.9 367.6,200.3 368.4,198.5 369.2,196.1 369.8,194.4 370.0,195.2 370.8,197.7 371.6,200.8 372.2,202.2 372.4,203.0 373.2,204.2 374.0,207.5 374.8,210.7 375.5,212.4 375.6,213.2 376.4,211.1 377.2,209.4 378.0,207.3 378.5,206.7 378.8,205.2 379.6,204.2 380.4,201.7 381.0,199.8 381.2,199.5 382.0,200.5 382.8,200.2 383.5,201.4 383.6,201.1 384.4,199.3 385.2,198.5 386.0,198.4 386.8,196.2 387.6,194.8 388.4,192.4 388.5,192.9 389.2,193.7 390.0,196.9 390.8,199.2 391.0,199.1 391.6,201.5 392.4,204.0 393.2,206.8 393.5,208.1 394.0,208.0 394.8,207.7 395.6,207.7 396.4,206.7 397.2,206.3 398.0,207.1 398.5,205.5 398.8,205.8 399.6,205.7 400.4,206.6 401.2,206.3 402.0,207.4 402.8,205.5 403.5,205.4 403.6,205.4 404.4,204.6 405.2,205.5 406.0,204.3 406.8,204.2 407.6,204.5 408.4,204.0 408.5,204.6 409.2,204.9 410.0,205.1 410.8,205.0 411.6,204.8 412.4,205.5 413.2,205.3 413.5,205.2 414.0,205.6 414.8,207.6 415.6,207.0 416.0,208.6" fill="none" stroke="#4040ee" stroke-width="0.6" stroke-linejoin="round"/>
<path d="M270.0,236.5 270.3,237.4 270.6,234.8 270.9,238.8 271.2,239.5 271.5,226.8 271.8,235.2 272.1,234.3 272.4,234.9 272.7,239.3 273.0,234.3 273.3,234.6 273.5,237.0 273.6,235.1 273.9,235.8 274.2,240.5 274.5,234.7 274.8,242.6 275.1,242.7 275.4,238.9 275.7,241.6 276.0,237.3 276.3,239.5 276.6,239.5 276.9,238.6 277.2,243.1 277.5,241.9 277.8,243.7 278.1,238.1 278.4,241.3 278.7,240.7 279.0,238.4 279.3,244.1 279.6,242.1 279.8,243.1 279.9,245.6 280.2,241.7 280.5,245.5 280.8,238.3 281.1,244.5 281.4,243.3 281.7,239.0 282.0,239.0 282.3,246.5 282.6,240.5 282.9,243.7 283.2,242.1 283.5,241.6 283.8,241.0 284.1,238.8 284.4,239.0 284.7,239.9 285.0,243.0 285.3,237.8 285.6,239.2 285.9,242.1 286.2,240.9 286.5,240.3 286.8,239.5 287.1,238.1 287.4,239.6 287.7,239.0 288.0,239.9 288.3,238.9 288.5,237.9 288.6,242.8 288.9,236.6 289.2,241.6 289.5,239.7 289.8,239.4 290.1,238.2 290.4,238.8 290.7,239.9 291.0,236.9 291.3,242.2 291.6,241.0 291.9,240.4 292.2,240.2 292.5,242.5 292.8,240.6 293.1,241.8 293.4,239.6 293.5,243.8 293.7,239.4 294.0,238.7 294.3,239.3 294.6,242.1 294.9,243.1 295.2,241.0 295.5,244.0 295.8,238.6 296.1,239.1 296.4,239.5 296.7,242.5 297.0,238.6 297.3,240.4 297.6,238.3 297.9,240.8 298.2,238.9 298.5,245.7 298.8,241.8 299.1,239.4 299.4,241.7 299.7,240.4 300.0,239.0 300.3,241.1 300.6,237.5 300.9,242.8 301.2,242.4 301.5,238.6 301.8,240.1 302.1,237.2 302.4,241.4 302.7,241.0 303.0,241.0 303.3,239.8 303.5,240.8 303.6,239.5 303.9,240.2 304.2,239.3 304.5,239.3 304.8,239.0 305.1,235.5 305.4,238.4 305.7,241.2 306.0,242.1 306.3,238.6 306.6,239.9 306.9,242.2 307.2,240.1 307.5,240.7 307.8,237.0 308.1,240.4 308.4,239.3 308.5,239.3 308.7,238.5 309.0,241.6 309.3,233.1 309.6,234.8 309.9,237.4 310.2,237.0 310.5,234.8 310.8,236.1 311.1,234.9 311.4,234.6 311.5,236.3 311.7,233.8 312.0,236.9 312.3,239.0 312.6,237.4 312.9,241.8 313.2,239.1 313.5,238.7 313.8,241.0 314.0,243.7 314.1,245.0 314.4,242.0 314.7,242.2 315.0,241.4 315.3,241.9 315.6,238.5 315.9,239.4 316.0,237.6 316.2,240.1 316.5,240.7 316.8,236.1 317.1,239.6 317.4,238.9 317.7,240.5 318.0,235.9 318.3,239.1 318.6,236.6 318.9,239.9 319.2,242.6 319.5,238.8 319.8,240.9 320.1,241.0 320.4,237.9 320.7,238.2 321.0,238.4 321.3,239.8 321.6,236.8 321.9,239.0 322.2,236.3 322.5,238.9 322.8,238.0 323.1,234.8 323.4,237.2 323.7,238.7 324.0,237.7 324.3,238.3 324.6,241.2 324.9,235.2 325.2,236.6 325.5,236.5 325.8,237.7 326.0,237.0 326.1,237.3 326.4,236.1 326.7,236.1 327.0,240.8 327.3,241.5 327.6,236.8 327.9,237.3 328.2,234.0 328.5,236.2 328.8,238.3 329.1,237.7 329.4,236.3 329.7,239.8 330.0,241.8 330.3,236.5 330.6,235.1 330.9,238.2 331.2,239.4 331.5,236.3 331.8,237.7 332.1,233.7 332.4,227.4 332.5,223.4 332.7,230.0 333.0,232.5 333.2,241.2 333.6,238.7 333.9,231.0 334.2,236.9 334.5,239.9 334.8,241.9 335.1,239.2 335.4,238.2 335.7,243.0 336.0,236.6 336.3,240.6 336.6,236.5 336.9,236.3 337.2,237.5 337.5,241.0 337.8,239.9 338.1,239.0 338.4,240.4 338.5,238.5 338.7,242.6 339.0,240.4 339.3,241.7 339.6,238.2 339.9,240.5 340.2,238.6 340.5,242.0 340.8,238.1 341.1,242.2 341.4,242.9 341.7,242.3 342.0,243.7 342.2,244.1 342.6,241.4 342.9,241.1 343.2,238.1 343.5,242.3 343.8,242.2 344.1,242.4 344.4,246.0 344.7,243.7 345.0,243.1 345.3,246.5 345.5,242.3 345.6,245.7 345.9,244.9 346.2,244.6 346.5,241.1 346.8,240.5 347.1,240.3 347.4,240.4 347.7,243.1 348.0,240.4 348.3,240.2 348.5,237.4 348.6,237.9 348.9,239.6 349.2,238.7 349.5,237.3 349.8,239.3 350.1,236.0 350.4,235.8 350.7,235.5 351.0,234.8 351.3,237.1 351.6,233.2 351.9,236.3 352.2,232.6 352.5,232.8 352.8,235.8 353.1,236.5 353.4,235.6 353.5,232.3 353.7,237.4 354.0,236.7 354.3,232.9 354.6,236.6 354.9,233.0 355.2,234.1 355.5,232.7 355.8,232.2 356.0,230.9 356.1,233.0 356.4,234.5 356.7,232.6 357.0,234.1 357.3,234.5 357.6,235.4 357.9,234.5 358.2,232.5 358.5,232.7 358.8,232.0 359.0,230.5 359.1,229.8 359.4,235.2 359.7,230.9 360.0,233.6 360.3,235.6 360.6,234.0 360.9,233.1 361.2,235.4 361.5,237.8 361.8,233.9 362.1,234.2 362.2,234.9 362.4,237.6 362.7,238.4 363.0,236.6 363.3,238.1 363.6,240.1 363.9,236.9 364.2,239.2 364.5,240.7 364.8,242.0 365.1,241.6 365.4,237.3 365.7,239.2 366.0,238.0 366.3,238.9 366.6,238.8 366.9,237.4 367.2,237.5 367.5,239.6 367.8,237.7 368.1,234.9 368.4,232.1 368.7,234.2 369.0,228.2 369.3,225.9 369.6,226.0 369.9,223.6 370.2,222.5 370.5,222.5 370.8,224.1 371.1,226.1 371.4,229.4 371.7,232.0 372.0,233.9 372.2,232.5 372.6,236.8 372.9,239.3 373.2,237.0 373.5,238.0 373.8,239.7 374.1,241.1 374.4,240.7 374.7,242.4 375.0,241.2 375.3,240.8 375.5,243.2 375.6,243.6 375.9,243.6 376.2,242.2 376.5,241.2 376.8,242.9 377.1,243.0 377.4,241.1 377.7,240.2 378.0,240.6 378.3,239.2 378.5,240.4 378.6,238.4 378.9,235.5 379.2,241.1 379.5,237.8 379.8,238.0 380.1,235.4 380.4,234.6 380.7,233.9 381.0,233.2 381.3,233.1 381.6,231.9 381.9,234.4 382.2,233.9 382.5,237.3 382.8,232.5 383.1,233.8 383.4,234.6 383.5,231.3 383.7,232.9 384.0,230.3 384.3,232.0 384.6,232.8 384.9,232.3 385.2,232.8 385.5,230.8 385.8,231.3 386.0,230.0 386.1,225.1 386.4,228.4 386.7,224.8 387.0,227.7 387.3,228.0 387.6,227.2 387.9,224.5 388.2,222.8 388.5,222.5 388.8,224.4 389.1,224.9 389.4,225.4 389.7,225.1 390.0,226.3 390.3,229.6 390.6,233.4 390.9,233.6 391.0,232.8 391.2,236.3 391.5,237.7 391.8,237.2 392.1,237.4 392.4,241.1 392.7,239.4 393.0,241.6 393.3,239.6 393.5,244.0 393.6,241.8 393.9,245.6 394.2,238.1 394.5,240.2 394.8,239.1 395.1,241.8 395.4,242.6 395.7,240.5 396.0,241.6 396.3,241.6 396.6,239.8 396.9,240.6 397.2,238.8 397.5,239.9 397.8,239.7 398.1,239.3 398.4,238.8 398.5,241.2 398.7,240.7 399.0,243.6 399.3,237.1 399.6,240.5 399.9,240.8 400.2,241.7 400.5,241.2 400.8,244.7 401.1,239.6 401.4,238.3 401.7,241.7 402.0,239.5 402.3,241.4 402.6,240.6 402.9,244.4 403.2,239.3 403.5,243.5 403.8,241.3 404.1,240.7 404.4,240.3 404.7,238.4 405.0,240.5 405.3,240.6 405.6,239.9 405.9,238.5 406.2,239.5 406.5,239.2 406.8,236.1 407.1,237.5 407.4,240.1 407.7,241.7 408.0,239.7 408.3,242.4 408.5,240.4 408.6,239.4 408.9,238.3 409.2,237.9 409.5,238.9 409.8,240.0 410.1,238.3 410.4,240.0 410.7,243.4 411.0,237.1 411.3,240.7 411.6,240.5 411.9,241.0 412.2,241.0 412.5,240.4 412.8,239.8 413.1,240.1 413.4,239.0 413.5,239.5 413.7,240.9 414.0,241.0 414.3,241.5 414.6,240.0 414.9,239.4 415.2,245.1 415.5,242.8 415.8,243.5 416.0,242.5" fill="none" stroke="#44e844" stroke-width="0.55" stroke-linejoin="round"/>
<path d="M270.0,240.4 270.8,236.7 271.5,233.5 271.6,235.0 272.4,235.4 273.2,236.5 273.5,236.1 274.0,238.5 274.8,238.5 275.6,239.1 276.0,239.9 276.4,240.4 277.2,241.5 278.0,241.6 278.8,241.8 279.6,241.6 279.8,242.4 280.4,241.9 281.2,242.4 282.0,241.3 282.8,241.3 283.5,241.0 283.6,241.1 284.4,240.9 285.2,241.4 286.0,240.8 286.8,240.1 287.6,240.5 288.4,240.3 288.5,239.8 289.2,240.8 290.0,240.8 290.8,240.7 291.6,241.4 292.4,239.9 293.2,241.0 293.5,240.9 294.0,240.1 294.8,241.3 295.6,239.9 296.4,240.5 297.2,240.5 298.0,240.0 298.5,239.8 298.8,240.7 299.6,240.9 300.4,240.2 301.2,241.2 302.0,240.7 302.8,240.0 303.5,241.1 303.6,240.7 304.4,240.3 305.2,240.6 306.0,240.4 306.8,239.6 307.6,239.5 308.4,239.8 308.5,239.8 309.2,239.1 310.0,236.8 310.8,235.6 311.5,234.0 311.6,235.7 312.4,237.6 313.2,240.4 314.0,243.9 314.8,241.8 315.6,239.9 316.0,239.4 316.4,240.0 317.2,239.4 318.0,238.8 318.8,238.7 319.6,239.1 320.4,237.7 321.0,238.1 321.2,238.7 322.0,238.5 322.8,237.4 323.6,237.8 324.4,237.8 325.2,237.6 326.0,237.3 326.8,237.0 327.6,237.0 328.4,237.2 329.2,237.2 329.8,237.9 330.0,237.3 330.8,237.7 331.6,237.7 331.8,237.2 332.4,226.5 332.5,224.1 333.2,237.7 334.0,238.7 334.8,238.3 335.6,239.2 336.4,238.7 337.2,239.6 338.0,238.8 338.5,239.5 338.8,239.3 339.6,239.8 340.4,239.7 341.2,240.8 342.0,242.1 342.2,242.0 342.8,241.7 343.6,242.8 344.4,243.4 345.2,243.1 345.5,244.2 346.0,243.5 346.8,242.0 347.6,240.7 348.4,240.3 348.5,238.8 349.2,238.2 350.0,237.8 350.8,236.2 351.0,233.9 351.6,236.0 352.4,234.5 353.2,235.5 353.5,236.0 354.0,234.8 354.8,235.2 355.6,234.4 356.0,234.1 356.4,235.1 357.2,233.6 358.0,232.7 358.8,231.3 359.0,231.2 359.6,232.4 360.4,233.6 361.2,234.9 362.0,235.1 362.2,235.5 362.8,237.1 363.6,237.7 364.4,239.9 364.8,241.2 365.2,239.9 366.0,238.9 366.8,237.7 367.2,237.2 367.6,235.6 368.4,231.7 369.2,228.0 370.0,224.5 370.5,222.7 370.8,224.2 371.6,230.8 372.2,233.3 372.4,235.4 373.2,238.4 374.0,240.0 374.8,242.8 375.5,244.8 375.6,245.7 376.4,243.5 377.2,242.4 378.0,240.1 378.5,239.6 378.8,238.6 379.6,236.7 380.4,234.5 381.0,233.4 381.2,233.0 382.0,234.2 382.8,234.2 383.5,234.8 383.6,233.9 384.4,232.8 385.2,232.3 386.0,229.9 386.8,227.4 387.6,225.2 388.4,223.0 388.5,222.7 389.2,225.3 390.0,229.4 390.8,233.7 391.0,235.4 391.6,236.9 392.4,238.0 393.2,241.5 393.5,242.3 394.0,241.6 394.8,241.3 395.6,240.5 396.4,240.5 397.2,240.5 398.0,241.7 398.5,240.9 398.8,241.4 399.6,241.0 400.4,240.8 401.2,241.6 402.0,240.8 402.8,241.8 403.5,240.9 403.6,240.4 404.4,240.4 405.2,240.8 406.0,240.2 406.8,240.9 407.6,239.9 408.4,240.3 408.5,239.9 409.2,239.9 410.0,240.4 410.8,240.2 411.6,240.2 412.4,240.3 413.2,240.8 413.5,240.8 414.0,241.6 414.8,241.5 415.6,242.2 416.0,242.5" fill="none" stroke="#44e844" stroke-width="0.6" stroke-linejoin="round"/>
<path d="M270.0,276.3 270.3,272.7 270.6,268.1 270.9,265.7 271.0,262.9 271.2,267.1 271.5,266.7 271.8,271.6 272.1,265.1 272.4,269.2 272.7,268.0 273.0,267.0 273.3,269.2 273.6,275.6 273.9,277.4 274.2,266.4 274.5,277.0 274.8,269.8 275.1,271.7 275.4,272.0 275.7,271.3 276.0,277.6 276.3,279.0 276.6,270.5 276.9,276.6 277.2,276.1 277.5,274.0 277.8,277.1 278.1,275.0 278.4,274.9 278.7,273.3 279.0,275.0 279.3,275.7 279.6,276.0 279.9,273.1 280.2,277.4 280.5,273.3 280.8,274.2 281.0,273.0 281.1,272.1 281.4,276.0 281.7,274.3 282.0,278.7 282.3,275.7 282.6,277.9 282.9,274.9 283.2,275.4 283.5,277.1 283.8,275.5 284.1,274.7 284.4,276.1 284.7,278.3 285.0,277.4 285.3,277.4 285.6,280.8 285.9,277.9 286.0,275.5 286.2,276.2 286.5,273.6 286.8,275.3 287.1,278.7 287.4,276.7 287.7,273.9 288.0,274.8 288.3,273.3 288.6,279.7 288.9,275.1 289.2,273.7 289.5,278.5 289.8,275.8 290.1,273.8 290.4,273.8 290.7,273.4 291.0,274.9 291.3,275.0 291.6,276.1 291.9,272.3 292.2,274.3 292.5,275.9 292.8,277.5 293.1,278.9 293.4,277.5 293.7,273.4 294.0,274.8 294.3,276.4 294.6,273.6 294.9,272.8 295.2,272.3 295.5,275.1 295.8,274.0 296.0,274.3 296.1,272.7 296.4,275.3 296.7,273.2 297.0,272.1 297.3,272.3 297.6,272.2 297.9,275.6 298.2,275.9 298.5,273.8 298.8,273.6 299.1,278.3 299.4,276.1 299.7,277.3 300.0,275.8 300.3,275.1 300.6,275.3 300.9,277.6 301.0,278.6 301.2,275.3 301.5,274.9 301.8,276.3 302.1,275.9 302.4,274.4 302.7,273.6 303.0,273.6 303.3,277.4 303.6,274.2 303.9,274.2 304.2,274.2 304.5,272.7 304.8,275.7 305.1,274.6 305.4,275.4 305.7,277.2 306.0,274.1 306.3,274.4 306.6,272.9 306.9,275.7 307.2,274.6 307.5,275.9 307.8,276.7 308.1,271.9 308.4,276.7 308.7,272.1 309.0,272.5 309.3,271.0 309.6,277.1 309.9,273.7 310.2,275.5 310.5,273.3 310.8,277.3 311.0,276.5 311.1,274.4 311.4,272.7 311.7,274.1 312.0,276.9 312.3,275.0 312.6,274.7 312.9,275.4 313.2,273.3 313.5,272.1 313.8,272.3 314.1,273.4 314.4,276.4 314.7,274.2 315.0,273.4 315.3,274.1 315.6,272.8 315.9,275.5 316.0,275.4 316.2,272.4 316.5,276.7 316.8,271.7 317.1,274.5 317.4,273.2 317.7,275.2 318.0,275.4 318.3,274.0 318.6,274.3 318.9,271.4 319.2,271.2 319.5,273.6 319.8,273.9 320.1,272.3 320.4,274.4 320.7,275.1 321.0,270.3 321.3,274.1 321.6,276.9 321.9,273.3 322.2,273.6 322.5,273.6 322.8,274.2 323.1,269.1 323.4,274.3 323.7,272.8 324.0,274.8 324.3,271.1 324.6,273.6 324.9,274.2 325.2,275.3 325.5,273.1 325.8,274.2 326.0,272.3 326.1,273.9 326.4,274.5 326.7,277.2 327.0,272.3 327.3,273.5 327.6,272.2 327.9,274.1 328.2,271.7 328.5,274.5 328.8,271.5 329.1,276.2 329.4,273.7 329.7,273.1 330.0,273.6 330.3,273.9 330.6,274.0 330.9,275.4 331.2,273.7 331.5,272.6 331.8,271.4 332.1,267.4 332.4,261.3 332.5,263.0 332.7,262.4 333.0,268.2 333.2,273.2 333.6,275.2 333.9,270.9 334.2,272.8 334.5,274.7 334.8,270.6 335.1,274.7 335.4,269.9 335.7,273.1 336.0,271.6 336.3,272.4 336.6,274.0 336.9,275.9 337.2,271.9 337.5,276.0 337.8,275.8 338.1,270.2 338.4,272.7 338.5,273.8 338.7,275.7 339.0,274.9 339.3,273.4 339.6,273.6 339.9,275.6 340.2,273.2 340.5,277.5 340.8,275.1 341.1,274.0 341.4,279.8 341.7,276.4 342.0,279.8 342.2,278.0 342.6,278.0 342.9,274.8 343.2,276.9 343.5,277.2 343.8,277.2 344.1,276.1 344.4,281.1 344.7,282.3 345.0,279.5 345.3,278.9 345.5,278.2 345.6,276.7 345.9,278.5 346.2,277.2 346.5,277.7 346.8,278.0 347.1,279.7 347.4,275.3 347.7,275.2 348.0,274.5 348.3,274.8 348.5,272.0 348.6,276.3 348.9,273.8 349.2,269.5 349.5,271.1 349.8,272.4 350.1,271.1 350.4,268.2 350.7,270.0 351.0,268.9 351.3,267.0 351.6,268.0 351.9,265.5 352.2,266.3 352.5,264.8 352.8,268.5 353.1,268.4 353.4,265.4 353.5,266.4 353.7,268.3 354.0,262.9 354.3,265.2 354.6,266.2 354.9,266.1 355.2,264.3 355.5,261.9 355.8,264.0 356.0,266.8 356.1,264.0 356.4,264.5 356.7,264.0 357.0,265.5 357.3,262.5 357.6,264.4 357.9,263.5 358.2,260.9 358.5,263.1 358.8,264.0 359.0,262.9 359.1,261.2 359.4,261.9 359.7,261.2 360.0,261.9 360.3,260.8 360.6,265.2 360.9,265.2 361.2,265.4 361.5,270.4 361.8,266.6 362.1,268.2 362.2,264.7 362.4,266.8 362.7,266.8 363.0,262.9 363.3,267.7 363.6,269.1 363.9,269.4 364.2,272.1 364.5,270.2 364.8,273.3 365.1,273.4 365.4,272.5 365.7,273.6 366.0,271.1 366.3,271.0 366.6,270.6 366.9,268.8 367.2,270.1 367.5,268.8 367.8,268.9 368.1,265.7 368.4,267.4 368.7,263.2 369.0,266.4 369.3,262.3 369.6,261.9 369.9,261.4 370.2,261.8 370.5,257.0 370.8,260.4 371.1,263.6 371.4,264.4 371.7,263.2 372.0,266.2 372.3,271.1 372.6,267.8 372.9,269.6 373.0,268.5 373.2,270.2 373.5,272.0 373.8,276.9 374.1,272.1 374.4,278.6 374.7,276.6 375.0,276.8 375.3,277.5 375.5,279.9 375.6,278.1 375.9,277.7 376.2,277.3 376.5,277.1 376.8,276.8 377.1,275.1 377.4,273.5 377.7,275.4 378.0,274.2 378.3,273.8 378.5,270.2 378.6,273.3 378.9,271.6 379.2,270.8 379.5,271.3 379.8,270.1 380.1,268.0 380.4,268.7 380.7,271.7 381.0,269.0 381.3,267.5 381.6,268.7 381.9,265.0 382.2,270.6 382.5,270.0 382.8,267.7 383.1,268.0 383.4,266.2 383.5,266.2 383.7,266.5 384.0,265.9 384.3,267.6 384.6,264.4 384.9,267.8 385.2,264.3 385.5,265.8 385.8,267.5 386.0,268.4 386.1,262.6 386.4,265.0 386.7,265.5 387.0,261.7 387.3,262.8 387.6,257.8 387.9,257.9 388.2,260.3 388.5,257.0 388.8,257.7 389.1,257.9 389.4,259.1 389.7,262.2 390.0,261.8 390.3,265.8 390.6,263.0 390.9,263.8 391.0,266.5 391.2,264.2 391.5,268.6 391.8,271.3 392.1,273.4 392.4,269.7 392.7,272.0 393.0,275.4 393.3,274.2 393.5,276.3 393.6,272.5 393.9,275.2 394.2,276.4 394.5,274.3 394.8,276.4 395.1,276.0 395.4,274.6 395.7,274.1 396.0,275.6 396.3,276.7 396.6,275.7 396.9,277.7 397.2,277.8 397.5,275.0 397.8,276.7 398.1,278.3 398.4,277.2 398.5,275.5 398.7,273.7 399.0,276.2 399.3,276.6 399.6,278.3 399.9,276.2 400.2,276.4 400.5,277.1 400.8,278.6 401.1,278.1 401.4,279.7 401.7,275.6 402.0,278.1 402.3,276.6 402.6,278.7 402.9,275.2 403.2,277.1 403.5,276.8 403.8,274.4 404.1,275.8 404.4,275.5 404.7,274.9 405.0,274.2 405.3,272.9 405.6,275.7 405.9,275.0 406.2,275.0 406.5,274.6 406.8,275.3 407.1,273.7 407.4,273.2 407.7,275.4 408.0,275.3 408.3,275.5 408.5,275.2 408.6,272.4 408.9,268.6 409.2,273.3 409.5,277.5 409.8,272.2 410.1,272.9 410.4,276.3 410.7,275.9 411.0,273.8 411.3,275.6 411.6,274.5 411.9,274.3 412.2,274.6 412.5,276.1 412.8,275.2 413.1,271.2 413.4,272.9 413.5,276.1 413.7,280.9 414.0,272.8 414.3,276.9 414.6,272.9 414.9,277.8 415.2,275.4 415.5,277.9 415.8,277.4 416.0,275.4" fill="none" stroke="#ee4444" stroke-width="0.55" stroke-linejoin="round"/>
<path d="M270.0,274.2 270.8,268.5 271.0,269.1 271.6,268.4 272.4,269.8 273.0,269.4 273.2,270.0 274.0,272.4 274.8,273.8 275.6,274.6 276.4,275.6 277.2,276.4 278.0,276.0 278.8,275.9 279.6,275.0 280.4,275.2 281.0,275.3 281.2,275.0 282.0,275.3 282.8,275.9 283.6,276.7 284.4,276.9 285.2,276.6 286.0,276.1 286.8,275.9 287.6,277.1 288.4,276.1 289.2,275.6 290.0,275.4 290.8,276.9 291.0,276.1 291.6,275.8 292.4,275.7 293.2,275.4 294.0,275.8 294.8,275.6 295.6,275.8 296.0,274.1 296.4,275.4 297.2,275.2 298.0,275.5 298.8,275.3 299.6,274.0 300.4,275.0 301.0,275.7 301.2,275.2 302.0,274.5 302.8,274.0 303.6,275.4 304.4,274.9 305.2,275.0 306.0,274.2 306.8,274.9 307.6,274.3 308.4,274.3 309.2,273.7 310.0,274.4 310.8,274.7 311.0,274.0 311.6,274.1 312.4,274.7 313.2,273.6 314.0,274.3 314.8,274.6 315.6,274.1 316.0,273.3 316.4,273.9 317.2,274.4 318.0,273.8 318.8,273.0 319.6,273.9 320.4,273.6 321.0,273.6 321.2,274.1 322.0,273.7 322.8,273.5 323.6,272.7 324.4,272.8 325.2,273.7 326.0,273.6 326.8,273.7 327.6,273.2 328.4,273.1 329.2,274.1 330.0,273.6 330.8,273.3 331.6,274.0 331.8,272.9 332.4,263.2 332.5,260.9 333.2,272.3 334.0,273.3 334.8,273.2 335.6,272.9 336.4,273.1 337.2,273.8 338.0,272.9 338.5,272.6 338.8,274.3 339.6,273.2 340.4,274.2 341.2,274.3 342.0,275.0 342.2,276.2 342.8,276.7 343.6,276.9 344.4,278.5 345.2,278.4 345.5,279.4 346.0,278.1 346.8,277.0 347.6,275.0 348.4,273.6 348.5,273.4 349.2,270.5 350.0,271.2 350.8,268.7 351.0,268.2 351.6,267.5 352.4,266.4 353.2,264.4 353.5,265.7 354.0,265.9 354.8,265.2 355.6,264.5 356.0,264.9 356.4,263.9 357.2,264.2 358.0,262.9 358.8,262.4 359.0,262.2 359.6,263.7 360.4,263.9 361.2,265.9 362.0,266.2 362.2,266.6 362.8,267.9 363.6,269.7 364.4,272.2 364.8,272.5 365.2,273.0 366.0,271.2 366.8,269.1 367.2,269.5 367.6,268.6 368.4,266.1 369.2,263.5 370.0,261.3 370.5,258.6 370.8,260.6 371.6,263.6 372.4,267.4 373.0,271.1 373.2,272.1 374.0,274.8 374.8,276.4 375.5,279.2 375.6,278.7 376.4,277.5 377.2,275.8 378.0,273.8 378.5,273.8 378.8,272.5 379.6,271.2 380.4,270.3 381.0,269.1 381.2,268.4 382.0,268.4 382.8,267.8 383.5,267.3 383.6,266.7 384.4,267.3 385.2,265.8 386.0,265.4 386.8,261.3 387.6,260.1 388.4,256.7 388.5,256.2 389.2,257.6 390.0,261.9 390.8,263.7 391.0,266.2 391.6,268.1 392.4,271.2 393.2,274.6 393.5,275.5 394.0,276.5 394.8,276.4 395.6,275.2 396.4,276.5 397.2,275.1 398.0,277.3 398.5,276.3 398.8,276.5 399.6,276.4 400.4,277.4 401.2,276.5 402.0,276.0 402.8,276.1 403.5,276.3 403.6,276.2 404.4,275.7 405.2,275.3 406.0,275.0 406.8,275.6 407.6,274.9 408.4,274.5 408.5,273.7 409.2,274.9 410.0,274.1 410.8,274.3 411.6,274.0 412.4,274.2 413.2,274.1 413.5,273.1 414.0,273.8 414.8,275.4 415.6,275.7 416.0,277.3" fill="none" stroke="#ee4444" stroke-width="0.6" stroke-linejoin="round"/>
<g stroke="#2a2a2a" stroke-width="0.9" fill="none">
<rect x="257" y="11.4" width="180.2" height="275.5"/>
<line x1="257" y1="45.84" x2="437.2" y2="45.84"/>
<line x1="257" y1="80.28" x2="437.2" y2="80.28"/>
<line x1="257" y1="114.71" x2="437.2" y2="114.71"/>
<line x1="257" y1="149.15" x2="437.2" y2="149.15"/>
<line x1="257" y1="183.59" x2="437.2" y2="183.59"/>
<line x1="257" y1="218.03" x2="437.2" y2="218.03"/>
<line x1="257" y1="252.46" x2="437.2" y2="252.46"/>
</g>
<path d="M291,45.84v-3M332.7,45.84v-3M374.4,45.84v-3M416.1,45.84v-3M270.15,45.84v-1.5M311.85,45.84v-1.5M353.55,45.84v-1.5M395.25,45.84v-1.5M291,80.28v-3M332.7,80.28v-3M374.4,80.28v-3M416.1,80.28v-3M270.15,80.28v-1.5M311.85,80.28v-1.5M353.55,80.28v-1.5M395.25,80.28v-1.5M291,114.71v-3M332.7,114.71v-3M374.4,114.71v-3M416.1,114.71v-3M270.15,114.71v-1.5M311.85,114.71v-1.5M353.55,114.71v-1.5M395.25,114.71v-1.5M291,149.15v-3M332.7,149.15v-3M374.4,149.15v-3M416.1,149.15v-3M270.15,149.15v-1.5M311.85,149.15v-1.5M353.55,149.15v-1.5M395.25,149.15v-1.5M291,183.59v-3M332.7,183.59v-3M374.4,183.59v-3M416.1,183.59v-3M270.15,183.59v-1.5M311.85,183.59v-1.5M353.55,183.59v-1.5M395.25,183.59v-1.5M291,218.03v-3M332.7,218.03v-3M374.4,218.03v-3M416.1,218.03v-3M270.15,218.03v-1.5M311.85,218.03v-1.5M353.55,218.03v-1.5M395.25,218.03v-1.5M291,252.46v-3M332.7,252.46v-3M374.4,252.46v-3M416.1,252.46v-3M270.15,252.46v-1.5M311.85,252.46v-1.5M353.55,252.46v-1.5M395.25,252.46v-1.5M291,286.9v-3M332.7,286.9v-3M374.4,286.9v-3M416.1,286.9v-3M270.15,286.9v-1.5M311.85,286.9v-1.5M353.55,286.9v-1.5M395.25,286.9v-1.5M291,11.4v3M332.7,11.4v3M374.4,11.4v3M416.1,11.4v3M270.15,11.4v1.5M311.85,11.4v1.5M353.55,11.4v1.5M395.25,11.4v1.5M257,18.2h3.6M437.2,18.2h-3.6M257,26.8h3.6M437.2,26.8h-3.6M257,34.9h3.6M437.2,34.9h-3.6M257,43.6h3.6M437.2,43.6h-3.6M257,22.43h1.8M437.2,22.43h-1.8M257,31.03h1.8M437.2,31.03h-1.8M257,39.13h1.8M437.2,39.13h-1.8M257,13.97h1.8M437.2,13.97h-1.8M257,51h3.6M437.2,51h-3.6M257,59.9h3.6M437.2,59.9h-3.6M257,68.1h3.6M437.2,68.1h-3.6M257,76.8h3.6M437.2,76.8h-3.6M257,55.3h1.8M437.2,55.3h-1.8M257,64.2h1.8M437.2,64.2h-1.8M257,72.4h1.8M437.2,72.4h-1.8M257,86.9h3.6M437.2,86.9h-3.6M257,95.5h3.6M437.2,95.5h-3.6M257,104h3.6M437.2,104h-3.6M257,112.3h3.6M437.2,112.3h-3.6M257,91.13h1.8M437.2,91.13h-1.8M257,99.73h1.8M437.2,99.73h-1.8M257,108.23h1.8M437.2,108.23h-1.8M257,82.67h1.8M437.2,82.67h-1.8M257,121.1h3.6M437.2,121.1h-3.6M257,129.8h3.6M437.2,129.8h-3.6M257,138.4h3.6M437.2,138.4h-3.6M257,146.5h3.6M437.2,146.5h-3.6M257,125.33h1.8M437.2,125.33h-1.8M257,134.03h1.8M437.2,134.03h-1.8M257,142.63h1.8M437.2,142.63h-1.8M257,116.87h1.8M437.2,116.87h-1.8M257,155.5h3.6M437.2,155.5h-3.6M257,164.2h3.6M437.2,164.2h-3.6M257,172.7h3.6M437.2,172.7h-3.6M257,180.9h3.6M437.2,180.9h-3.6M257,159.73h1.8M437.2,159.73h-1.8M257,168.43h1.8M437.2,168.43h-1.8M257,176.93h1.8M437.2,176.93h-1.8M257,151.27h1.8M437.2,151.27h-1.8M257,190.2h3.6M437.2,190.2h-3.6M257,198.7h3.6M437.2,198.7h-3.6M257,206.9h3.6M437.2,206.9h-3.6M257,215.8h3.6M437.2,215.8h-3.6M257,194.47h1.8M437.2,194.47h-1.8M257,202.97h1.8M437.2,202.97h-1.8M257,211.17h1.8M437.2,211.17h-1.8M257,185.93h1.8M437.2,185.93h-1.8M257,224.4h3.6M437.2,224.4h-3.6M257,233h3.6M437.2,233h-3.6M257,241.3h3.6M437.2,241.3h-3.6M257,249.8h3.6M437.2,249.8h-3.6M257,228.63h1.8M437.2,228.63h-1.8M257,237.23h1.8M437.2,237.23h-1.8M257,245.53h1.8M437.2,245.53h-1.8M257,220.17h1.8M437.2,220.17h-1.8M257,258.9h3.6M437.2,258.9h-3.6M257,267.5h3.6M437.2,267.5h-3.6M257,276h3.6M437.2,276h-3.6M257,284.2h3.6M437.2,284.2h-3.6M257,263.12h1.8M437.2,263.12h-1.8M257,271.72h1.8M437.2,271.72h-1.8M257,280.22h1.8M437.2,280.22h-1.8M257,254.68h1.8M437.2,254.68h-1.8" stroke="#222" stroke-width="0.9" fill="none"/>
<rect x="257.1" y="12" width="64.41" height="6.2" fill="#fff" stroke="#666" stroke-width="0.55"/>
<text x="258.5" y="16.9" font-family="Liberation Mono" font-style="italic" font-size="5.6" fill="#555" textLength="61.41" lengthAdjust="spacingAndGlyphs">Microbacterium sp. AQ95</text>
<rect x="257.1" y="46.44" width="53.73" height="6.2" fill="#fff" stroke="#666" stroke-width="0.55"/>
<text x="258.5" y="51.34" font-family="Liberation Mono" font-style="italic" font-size="5.6" fill="#555" textLength="50.73" lengthAdjust="spacingAndGlyphs">Halomonas sp. MT107</text>
<rect x="257.1" y="80.88" width="64.41" height="6.2" fill="#fff" stroke="#666" stroke-width="0.55"/>
<text x="258.5" y="85.78" font-family="Liberation Mono" font-style="italic" font-size="5.6" fill="#555" textLength="61.41" lengthAdjust="spacingAndGlyphs">Pseudomonas sp. AQ23RB1</text>
<rect x="257.1" y="115.31" width="59.07" height="6.2" fill="#fff" stroke="#666" stroke-width="0.55"/>
<text x="258.5" y="120.21" font-family="Liberation Mono" font-style="italic" font-size="5.6" fill="#555" textLength="56.07" lengthAdjust="spacingAndGlyphs">Bacillus sp. AQ24B2C1</text>
<rect x="257.1" y="149.75" width="80.43" height="6.2" fill="#fff" stroke="#666" stroke-width="0.55"/>
<text x="258.5" y="154.65" font-family="Liberation Mono" font-style="italic" font-size="5.6" fill="#555" textLength="77.43" lengthAdjust="spacingAndGlyphs">Pseudoalteromonas sp. AQ25683</text>
<rect x="257.1" y="184.19" width="69.75" height="6.2" fill="#fff" stroke="#666" stroke-width="0.55"/>
<text x="258.5" y="189.09" font-family="Liberation Mono" font-style="italic" font-size="5.6" fill="#555" textLength="66.75" lengthAdjust="spacingAndGlyphs">Rhodococcus sp. AQ11382C1</text>
<rect x="257.1" y="218.62" width="64.41" height="6.2" fill="#fff" stroke="#666" stroke-width="0.55"/>
<text x="258.5" y="223.53" font-family="Liberation Mono" font-style="italic" font-size="5.6" fill="#555" textLength="61.41" lengthAdjust="spacingAndGlyphs">Sulfitobacter sp. SQ167</text>
<rect x="257.1" y="253.06" width="64.41" height="6.2" fill="#fff" stroke="#666" stroke-width="0.55"/>
<text x="258.5" y="257.96" font-family="Liberation Mono" font-style="italic" font-size="5.6" fill="#555" textLength="61.41" lengthAdjust="spacingAndGlyphs">Psychrobacter sp. QS172</text>
<g font-family="Liberation Serif" font-size="7.6" fill="#333" text-anchor="end">
<text x="253.8" y="21.65">120</text>
<text x="253.8" y="30.25">60</text>
<text x="253.8" y="38.35">0</text>
<text x="253.8" y="47.05">−60</text>
<text x="253.8" y="54.45">106</text>
<text x="253.8" y="63.35">53</text>
<text x="253.8" y="71.55">0</text>
<text x="253.8" y="80.25">−53</text>
<text x="253.8" y="90.35">108</text>
<text x="253.8" y="98.95">54</text>
<text x="253.8" y="107.45">0</text>
<text x="253.8" y="115.75">−54</text>
<text x="253.8" y="124.55">132</text>
<text x="253.8" y="133.25">66</text>
<text x="253.8" y="141.85">0</text>
<text x="253.8" y="149.95">−66</text>
<text x="253.8" y="158.95">136</text>
<text x="253.8" y="167.65">68</text>
<text x="253.8" y="176.15">0</text>
<text x="253.8" y="184.35">−68</text>
<text x="253.8" y="193.65">106</text>
<text x="253.8" y="202.15">53</text>
<text x="253.8" y="210.35">0</text>
<text x="253.8" y="219.25">−53</text>
<text x="253.8" y="227.85">142</text>
<text x="253.8" y="236.45">71</text>
<text x="253.8" y="244.75">0</text>
<text x="253.8" y="253.25">−71</text>
<text x="253.8" y="262.35">220</text>
<text x="253.8" y="270.95">110</text>
<text x="253.8" y="279.45">0</text>
<text x="253.8" y="287.65">−110</text>
</g>
<g font-family="Liberation Serif" font-size="7.6" fill="#333" text-anchor="middle">
<text x="291" y="6.85">500</text>
<text x="291" y="297.95">500</text>
<text x="332.7" y="6.85">1000</text>
<text x="332.7" y="297.95">1000</text>
<text x="374.4" y="6.85">1500</text>
<text x="374.4" y="297.95">1500</text>
<text x="416.1" y="6.85">2000</text>
<text x="416.1" y="297.95">2000</text>
</g>
<text x="230.6" y="12.3" font-family="Liberation Serif" font-size="16.5" fill="#000">b</text>
<text x="312.9" y="310.4" font-family="Liberation Mono" font-size="9" fill="#333" textLength="74.8" lengthAdjust="spacingAndGlyphs">Raman shift(cm<tspan dy="-3" font-size="6">-1</tspan><tspan dy="3">)</tspan></text>
<text transform="translate(233.8,155.8) rotate(-90)" text-anchor="middle" font-family="Liberation Mono" font-size="8.2" fill="#444" textLength="69" lengthAdjust="spacingAndGlyphs">Intensity(a.u.)</text>
<path d="M504.5,19.6 504.8,23.7 505.0,31.6 505.1,34.2 505.4,36.1 505.7,15.6 506.0,31.0 506.3,21.2 506.6,15.6 506.9,26.5 507.0,24.2 507.2,19.6 507.5,34.1 507.8,20.6 508.1,15.6 508.2,19.5 508.4,24.8 508.7,26.6 509.0,24.5 509.3,26.3 509.5,28.1 509.6,24.9 509.9,29.6 510.2,28.2 510.5,30.0 510.8,21.9 511.1,31.8 511.4,31.4 511.7,32.3 512.0,30.8 512.3,32.9 512.6,29.6 512.9,32.7 513.2,29.3 513.5,27.1 513.8,29.0 514.1,27.2 514.4,31.6 514.5,29.5 514.7,28.1 515.0,36.4 515.3,30.7 515.6,33.8 515.9,29.1 516.2,32.0 516.5,29.7 516.8,32.5 517.1,31.6 517.4,36.7 517.7,26.2 518.0,33.5 518.3,35.0 518.6,27.6 518.9,33.6 519.2,31.5 519.5,33.1 519.8,30.9 520.1,31.0 520.4,28.1 520.7,30.9 521.0,31.1 521.3,30.1 521.6,35.2 521.9,32.1 522.2,34.4 522.5,32.4 522.8,24.9 523.1,31.4 523.4,31.3 523.7,30.7 524.0,34.1 524.3,33.5 524.5,31.6 524.6,33.1 524.9,30.2 525.2,30.5 525.5,34.1 525.8,33.3 526.1,33.0 526.4,34.6 526.7,31.6 527.0,31.2 527.3,32.4 527.6,33.8 527.9,34.5 528.2,31.7 528.5,31.8 528.8,34.1 529.1,33.1 529.4,32.7 529.5,30.8 529.7,31.9 530.0,32.9 530.3,32.9 530.6,32.5 530.9,34.6 531.2,32.6 531.5,31.7 531.8,31.5 532.1,32.8 532.4,28.7 532.7,33.4 533.0,33.6 533.3,31.5 533.6,35.3 533.9,30.5 534.2,28.3 534.5,33.8 534.8,33.8 535.1,30.7 535.4,31.1 535.7,34.0 536.0,34.3 536.3,30.9 536.6,30.5 536.9,33.0 537.2,34.7 537.5,36.0 537.8,31.7 538.1,32.5 538.4,29.8 538.7,30.5 539.0,25.8 539.3,26.7 539.5,33.1 539.6,31.3 539.9,29.2 540.2,32.7 540.5,29.9 540.8,28.8 541.1,28.0 541.4,29.2 541.7,32.9 542.0,28.7 542.3,33.6 542.6,30.8 542.9,31.7 543.2,28.7 543.5,25.1 543.8,28.3 544.1,22.6 544.4,26.3 544.7,24.4 545.0,20.7 545.3,20.1 545.6,23.3 545.9,27.6 546.2,26.2 546.5,23.9 546.8,27.3 547.1,32.0 547.4,30.6 547.7,28.3 548.0,29.4 548.3,29.5 548.6,35.3 548.9,28.2 549.2,28.3 549.5,30.5 549.8,31.1 550.1,29.3 550.4,32.1 550.7,30.8 551.0,29.2 551.3,29.1 551.6,30.2 551.9,30.6 552.2,31.5 552.5,33.5 552.8,30.5 553.1,32.6 553.4,32.8 553.7,30.2 554.0,26.7 554.3,31.4 554.5,31.7 554.6,33.4 554.9,26.6 555.2,32.2 555.5,30.7 555.8,31.9 556.1,33.7 556.4,32.0 556.7,32.7 557.0,33.9 557.3,29.2 557.6,32.4 557.9,31.0 558.2,32.7 558.5,28.8 558.8,33.5 559.1,32.9 559.4,32.4 559.5,31.7 559.7,34.4 560.0,33.3 560.3,33.6 560.6,32.7 560.9,30.7 561.2,32.3 561.5,32.9 561.8,30.2 562.1,31.8 562.4,31.1 562.7,33.0 563.0,30.4 563.2,30.0 563.6,29.0 563.9,29.2 564.2,31.5 564.5,33.2 564.8,27.7 565.0,29.9 565.1,30.4 565.4,27.7 565.7,22.0 566.0,24.3 566.3,29.5 566.5,33.4 566.6,33.4 566.9,31.6 567.2,33.3 567.5,32.1 567.8,32.1 568.1,34.6 568.4,33.1 568.7,34.2 569.0,33.7 569.3,32.0 569.6,31.6 569.9,33.1 570.2,32.6 570.5,35.9 570.8,33.8 571.1,33.3 571.4,30.8 571.7,32.7 572.0,34.5 572.3,30.4 572.6,30.8 572.9,34.5 573.2,34.1 573.5,32.5 573.8,33.6 574.1,34.0 574.4,33.7 574.7,35.9 575.0,35.1 575.3,39.9 575.6,36.4 575.9,35.0 576.2,33.9 576.5,36.9 576.8,35.8 577.0,35.7 577.1,36.4 577.4,35.3 577.7,34.2 578.0,36.9 578.3,35.9 578.6,36.1 578.9,39.4 579.2,36.8 579.5,36.7 579.8,42.2 580.1,38.6 580.4,35.4 580.7,35.7 581.0,34.1 581.3,31.8 581.6,31.2 581.9,29.3 582.0,32.3 582.2,33.8 582.5,33.7 582.8,30.7 583.1,32.9 583.4,30.0 583.7,31.8 584.0,32.0 584.3,28.1 584.5,29.3 584.6,28.6 584.9,27.3 585.2,28.9 585.5,30.6 585.8,30.6 586.1,26.8 586.4,27.5 586.7,31.0 587.0,26.0 587.3,26.6 587.6,30.2 587.9,28.1 588.2,27.0 588.5,24.9 588.8,21.4 589.1,25.1 589.4,20.1 589.7,20.2 590.0,25.5 590.3,25.9 590.6,21.9 590.8,23.3 590.9,24.1 591.2,23.3 591.5,20.5 591.8,21.7 592.1,27.4 592.4,26.2 592.7,29.6 593.0,26.3 593.2,30.3 593.6,25.2 593.9,30.2 594.2,29.6 594.5,31.2 594.8,25.0 595.1,27.1 595.4,27.7 595.7,30.3 596.0,32.6 596.3,31.3 596.6,26.1 596.9,27.4 597.2,30.9 597.5,29.3 597.8,25.2 598.1,29.0 598.4,29.0 598.7,29.1 599.0,27.1 599.3,27.6 599.5,28.3 599.6,26.5 599.9,27.5 600.2,26.9 600.5,25.9 600.8,23.6 601.1,25.3 601.4,25.4 601.7,21.7 602.0,20.7 602.3,24.4 602.6,25.9 602.9,23.8 603.2,26.9 603.5,31.4 603.8,24.1 604.1,30.2 604.4,26.0 604.5,31.2 604.7,31.5 605.0,33.0 605.3,32.1 605.6,32.0 605.9,35.1 606.2,38.0 606.5,35.0 606.8,37.5 607.0,39.1 607.1,34.3 607.4,34.8 607.7,34.6 608.0,33.4 608.3,34.8 608.6,30.7 608.9,34.1 609.2,34.8 609.5,28.5 609.8,29.0 610.1,28.7 610.4,23.7 610.7,20.7 611.0,23.4 611.3,20.5 611.6,23.1 611.9,17.9 612.0,17.7 612.2,17.8 612.5,19.8 612.8,21.5 613.1,20.2 613.4,21.7 613.7,19.0 614.0,24.8 614.3,24.9 614.5,26.3 614.6,23.0 614.9,22.0 615.2,25.1 615.5,22.0 615.8,24.4 616.1,24.6 616.4,25.1 616.7,23.1 617.0,28.3 617.3,23.4 617.6,25.5 617.9,24.3 618.2,19.8 618.5,24.2 618.8,22.1 619.1,25.1 619.4,24.4 619.5,19.2 619.7,17.6 620.0,22.8 620.3,25.7 620.6,24.4 620.9,29.0 621.2,26.2 621.5,25.4 621.8,27.2 622.0,28.8 622.1,30.7 622.4,28.2 622.7,30.2 623.0,32.1 623.3,30.4 623.6,32.3 623.9,34.8 624.2,34.8 624.5,36.0 624.8,33.8 625.1,31.9 625.4,33.3 625.7,34.1 626.0,36.2 626.3,34.1 626.6,33.4 626.9,34.0 627.0,35.5 627.2,33.9 627.5,36.9 627.8,35.8 628.1,35.0 628.4,33.2 628.7,37.7 629.0,35.3 629.3,36.6 629.6,35.9 629.9,33.5 630.2,33.5 630.5,33.4 630.8,35.8 631.1,34.8 631.4,30.9 631.7,35.2 632.0,31.9 632.3,32.7 632.6,36.5 632.9,33.7 633.2,33.3 633.5,28.2 633.8,34.8 634.1,32.5 634.4,32.6 634.7,30.1 635.0,30.9 635.3,32.5 635.6,28.6 635.9,34.1 636.2,33.7 636.5,30.2 636.8,30.7 637.0,32.7 637.1,32.6 637.4,31.1 637.7,32.4 638.0,30.2 638.3,29.3 638.6,33.8 638.9,33.0 639.2,29.3 639.5,28.8 639.8,31.9 640.1,34.9 640.4,34.4 640.7,34.9 641.0,31.4 641.3,34.3 641.6,30.6 641.9,29.8 642.0,36.1 642.2,29.6 642.5,34.2 642.8,30.6 643.1,30.5 643.4,35.7 643.7,27.9 644.0,32.0 644.3,32.8 644.6,30.3 644.9,29.8 645.2,29.8 645.5,36.1 645.8,28.6" fill="none" stroke="#34349a" stroke-width="0.55" stroke-linejoin="round"/>
<path d="M504.5,27.0 504.8,17.6 505.0,36.4 505.3,30.8 505.8,21.0 506.1,22.3 506.9,25.2 507.0,26.1 507.7,21.4 508.2,20.2 508.5,21.1 509.3,27.3 509.5,29.6 510.1,25.8 510.8,24.6 510.9,25.1 511.7,29.1 512.0,31.6 512.5,31.3 513.3,30.7 514.1,30.1 514.5,29.5 514.9,30.0 515.7,30.7 516.5,31.1 517.3,30.9 518.1,31.7 518.9,31.7 519.5,31.5 519.7,33.1 520.5,32.1 521.3,31.9 522.1,31.5 522.9,31.8 523.7,31.4 524.5,31.9 525.3,32.4 526.1,31.5 526.9,31.5 527.7,32.0 528.5,32.2 529.3,32.0 529.5,31.6 530.1,32.4 530.9,32.3 531.7,32.3 532.5,32.0 533.3,32.3 534.1,32.1 534.5,31.8 534.9,32.2 535.7,31.8 536.5,31.9 537.3,31.2 538.1,31.5 538.9,30.3 539.5,30.8 539.7,30.0 540.5,31.1 541.3,29.8 542.1,29.7 542.9,28.9 543.2,29.0 543.7,27.0 544.5,23.1 545.0,20.8 545.3,22.4 546.1,27.6 546.5,30.0 546.9,29.6 547.7,29.7 548.5,30.2 549.3,30.1 549.5,30.7 550.1,29.6 550.9,30.0 551.7,31.2 552.5,30.9 553.3,32.1 554.1,30.4 554.5,31.5 554.9,31.2 555.7,32.4 556.5,32.2 557.3,31.3 558.1,31.6 558.9,31.8 559.5,33.4 559.7,32.4 560.5,31.1 561.3,30.5 562.1,31.3 562.9,30.9 563.2,30.3 563.7,30.7 564.5,29.9 565.0,31.0 565.3,28.0 565.8,23.6 566.1,27.1 566.5,32.3 566.9,32.0 567.7,31.0 568.5,31.3 569.3,33.0 570.1,32.1 570.9,33.1 571.7,32.6 572.0,33.4 572.5,33.9 573.3,34.7 574.1,33.7 574.9,34.8 575.7,34.5 576.5,33.0 577.0,33.5 577.3,35.5 578.1,37.0 578.9,37.2 579.5,38.4 579.7,37.5 580.5,35.1 581.3,33.7 582.0,31.0 582.1,30.6 582.9,30.3 583.7,28.9 584.5,28.6 585.3,27.7 586.1,27.8 586.9,27.2 587.0,26.4 587.7,26.6 588.5,25.2 589.3,23.6 590.1,21.9 590.8,21.7 590.9,21.1 591.7,24.1 592.5,26.5 593.2,28.9 594.1,28.9 594.9,29.3 595.7,30.8 596.5,28.7 597.3,27.3 598.1,26.6 598.9,26.6 599.5,25.5 599.7,25.9 600.5,25.0 601.3,22.7 602.0,21.2 602.1,22.4 602.9,25.5 603.7,26.8 604.5,30.7 605.3,31.7 606.1,34.7 606.9,36.5 607.0,36.1 607.7,34.5 608.5,32.6 609.3,30.9 609.5,30.3 610.1,27.3 610.9,23.8 611.7,19.2 612.0,18.8 612.5,18.9 613.3,20.7 614.1,21.7 614.5,22.2 614.9,23.0 615.7,24.1 616.5,25.1 617.0,27.0 617.3,25.5 618.1,24.1 618.9,22.2 619.5,20.8 619.7,21.3 620.5,24.1 621.3,26.6 622.0,28.9 622.1,28.6 622.9,31.4 623.7,33.2 624.5,32.8 625.3,33.8 626.1,34.6 626.9,34.8 627.0,35.0 627.7,34.7 628.5,34.2 629.3,34.9 630.1,33.2 630.9,33.4 631.7,33.1 632.0,33.4 632.5,33.4 633.3,33.2 634.1,33.3 634.9,32.9 635.7,33.3 636.5,33.1 637.0,32.0 637.3,32.5 638.1,32.4 638.9,32.5 639.7,32.2 640.5,31.5 641.3,32.4 642.0,31.8 642.1,32.5 642.9,32.6 643.7,31.8 644.5,31.4 645.3,31.8 645.8,31.1" fill="none" stroke="#34349a" stroke-width="0.6" stroke-linejoin="round"/>
<path d="M504.5,65.2 504.8,54.4 505.0,68.9 505.1,78.4 505.4,74.4 505.7,54.8 506.0,57.3 506.3,50.3 506.6,62.9 506.9,56.0 507.0,59.3 507.2,52.3 507.5,58.5 507.8,63.7 508.1,69.4 508.2,55.0 508.4,57.8 508.7,60.2 509.0,63.7 509.3,63.7 509.5,65.8 509.6,62.1 509.9,58.3 510.2,66.6 510.5,64.6 510.8,58.9 511.1,64.0 511.4,61.6 511.7,72.3 512.0,65.1 512.3,65.9 512.6,68.1 512.9,61.9 513.2,67.2 513.5,65.1 513.8,66.7 514.1,62.6 514.4,67.6 514.7,62.9 515.0,67.0 515.3,68.0 515.6,68.9 515.8,69.8 515.9,63.6 516.2,71.7 516.5,67.3 516.8,67.3 517.1,69.6 517.4,71.3 517.7,65.3 518.0,70.0 518.3,67.4 518.6,69.6 518.9,67.4 519.2,71.3 519.5,67.7 519.8,64.8 520.1,64.6 520.4,65.5 520.7,65.7 521.0,64.2 521.3,66.2 521.6,67.8 521.9,65.1 522.2,67.9 522.5,67.3 522.8,66.1 523.1,68.3 523.4,67.8 523.7,62.2 524.0,64.9 524.3,65.5 524.5,61.9 524.6,61.2 524.9,64.4 525.2,63.1 525.5,64.7 525.8,62.6 526.1,66.5 526.4,62.0 526.7,61.3 527.0,63.5 527.3,64.0 527.6,61.4 527.9,64.6 528.2,61.2 528.5,67.2 528.8,64.5 529.1,64.8 529.4,64.7 529.5,63.8 529.7,60.5 530.0,64.5 530.3,65.3 530.6,62.5 530.9,64.5 531.2,62.0 531.5,66.2 531.8,64.7 532.1,67.5 532.4,66.5 532.7,63.8 533.0,65.6 533.3,69.1 533.6,68.2 533.9,64.4 534.2,62.0 534.5,63.6 534.8,62.8 535.1,63.2 535.4,70.2 535.7,65.1 536.0,67.5 536.3,62.4 536.6,65.6 536.9,66.5 537.2,61.1 537.5,63.3 537.8,61.2 538.1,61.4 538.4,62.3 538.7,65.5 539.0,65.8 539.3,62.9 539.5,61.9 539.6,68.6 539.9,63.9 540.2,63.3 540.5,66.9 540.8,62.7 541.1,60.4 541.4,64.8 541.7,61.3 542.0,59.1 542.3,64.1 542.6,60.0 542.9,60.8 543.2,63.2 543.5,64.4 543.8,57.7 544.1,62.4 544.4,63.6 544.5,64.0 544.7,60.9 545.0,58.7 545.3,60.8 545.6,56.2 545.9,61.8 546.2,57.6 546.5,55.1 546.8,58.3 547.1,59.3 547.4,57.4 547.5,53.6 547.7,60.0 548.0,58.2 548.3,59.4 548.6,60.2 548.9,63.7 549.2,63.8 549.5,64.0 549.8,64.7 550.1,64.9 550.4,64.6 550.7,66.8 551.0,64.6 551.3,66.9 551.6,61.8 551.9,60.3 552.2,62.5 552.5,65.2 552.8,63.3 553.1,64.3 553.4,65.6 553.7,64.9 554.0,65.3 554.3,66.2 554.5,65.9 554.6,64.3 554.9,64.5 555.2,65.1 555.5,63.2 555.8,64.4 556.1,62.9 556.4,63.9 556.7,61.8 557.0,62.6 557.3,68.0 557.6,62.8 557.9,66.8 558.2,67.1 558.5,68.3 558.8,65.6 559.1,67.0 559.4,65.7 559.5,66.7 559.7,66.8 560.0,67.8 560.3,66.0 560.6,65.1 560.9,64.8 561.2,64.2 561.5,66.2 561.8,67.2 562.1,65.0 562.4,66.3 562.7,67.2 563.0,63.4 563.3,67.1 563.6,65.4 563.9,63.4 564.2,63.6 564.5,65.6 564.8,64.9 565.1,66.4 565.4,61.1 565.7,67.5 566.0,67.7 566.3,63.1 566.6,64.2 566.9,70.1 567.2,68.0 567.5,66.2 567.8,66.1 568.1,67.0 568.4,68.6 568.7,66.5 569.0,68.3 569.3,66.3 569.5,63.2 569.6,67.3 569.9,65.9 570.2,69.4 570.5,67.8 570.8,68.5 571.1,64.6 571.4,68.1 571.7,62.8 572.0,68.1 572.3,66.9 572.6,68.3 572.9,69.9 573.2,69.0 573.5,64.4 573.8,63.9 574.1,66.4 574.4,66.8 574.5,66.9 574.7,64.5 575.0,64.5 575.3,67.6 575.6,70.4 575.9,65.8 576.2,69.1 576.5,69.4 576.8,67.8 577.1,63.6 577.4,70.2 577.7,64.8 578.0,68.8 578.2,66.2 578.6,67.0 578.9,70.4 579.2,64.2 579.5,65.7 579.8,66.9 580.1,66.2 580.4,67.9 580.7,67.0 581.0,67.3 581.3,66.3 581.6,66.0 581.9,68.6 582.2,62.7 582.5,64.4 582.8,62.9 583.1,63.9 583.2,56.1 583.4,55.0 583.7,62.4 584.0,61.3 584.3,63.6 584.6,57.8 584.9,65.9 585.2,61.7 585.5,59.8 585.8,59.0 586.1,58.2 586.4,58.3 586.7,59.2 587.0,56.8 587.3,59.0 587.6,57.2 587.9,59.3 588.2,55.9 588.5,57.8 588.8,55.9 589.1,59.4 589.4,56.8 589.7,57.6 590.0,60.3 590.3,56.9 590.6,54.8 590.8,55.9 590.9,55.6 591.2,58.7 591.5,61.8 591.8,62.2 592.1,59.0 592.4,59.3 592.7,62.0 593.0,61.6 593.2,56.0 593.6,59.2 593.9,60.3 594.2,60.1 594.5,61.5 594.8,62.3 595.1,58.5 595.4,62.3 595.7,60.3 596.0,61.9 596.3,64.5 596.6,59.8 596.9,57.5 597.2,60.4 597.5,61.7 597.8,61.5 598.1,62.4 598.4,61.4 598.7,65.2 599.0,67.6 599.3,66.5 599.5,63.6 599.6,65.7 599.9,64.6 600.2,63.6 600.5,65.8 600.8,64.6 601.1,70.0 601.4,68.9 601.7,68.0 602.0,63.5 602.3,69.0 602.6,65.4 602.9,70.1 603.2,71.0 603.5,71.5 603.8,69.9 604.1,67.9 604.4,70.6 604.7,70.8 605.0,63.9 605.3,69.1 605.6,72.4 605.8,71.1 605.9,73.8 606.2,70.8 606.5,70.7 606.8,69.9 607.1,69.0 607.4,69.7 607.7,65.4 608.0,63.3 608.2,62.0 608.6,64.5 608.9,61.0 609.2,60.3 609.5,62.3 609.8,60.2 610.1,59.4 610.4,62.8 610.7,59.3 611.0,56.5 611.3,56.8 611.6,53.7 611.9,55.4 612.0,53.0 612.2,58.7 612.5,57.0 612.8,57.8 613.1,58.8 613.4,59.6 613.7,59.0 614.0,56.7 614.3,60.8 614.5,63.2 614.6,63.3 614.9,62.0 615.2,61.0 615.5,60.0 615.8,60.3 616.1,58.0 616.4,64.6 616.7,59.4 617.0,60.0 617.3,59.9 617.6,56.6 617.9,55.7 618.2,55.7 618.5,56.1 618.8,56.5 619.1,53.0 619.4,52.4 619.5,51.5 619.7,54.5 620.0,55.3 620.3,57.1 620.6,58.6 620.9,58.0 621.2,57.2 621.5,57.5 621.8,59.9 622.0,59.6 622.1,61.0 622.4,62.7 622.7,60.2 623.0,63.6 623.3,63.5 623.6,61.2 623.9,66.9 624.2,66.2 624.5,65.9 624.8,68.6 625.1,69.2 625.4,65.3 625.7,67.1 626.0,65.0 626.3,67.6 626.6,69.2 626.9,69.4 627.0,69.0 627.2,71.9 627.5,70.3 627.8,68.7 628.1,68.5 628.4,67.7 628.7,66.6 629.0,65.7 629.3,67.1 629.6,68.6 629.9,66.0 630.2,63.0 630.5,68.4 630.8,66.5 631.1,68.2 631.4,67.3 631.7,64.4 632.0,64.2 632.3,67.3 632.6,61.8 632.9,70.1 633.2,65.1 633.5,65.2 633.8,63.3 634.1,65.8 634.4,66.9 634.7,68.3 635.0,64.2 635.3,68.2 635.6,69.5 635.9,62.6 636.2,67.7 636.5,63.9 636.8,66.3 637.0,64.7 637.1,64.3 637.4,64.1 637.7,66.1 638.0,63.3 638.3,62.8 638.6,67.0 638.9,64.1 639.2,67.9 639.5,61.6 639.8,64.3 640.1,64.7 640.4,62.6 640.7,67.4 641.0,64.5 641.3,60.8 641.6,65.6 641.9,61.2 642.0,64.2 642.2,65.1 642.5,69.3 642.8,63.6 643.1,65.2 643.4,56.8 643.7,64.4 644.0,67.5 644.3,69.0 644.6,68.7 644.9,62.5 645.2,69.6 645.5,68.1 645.8,66.3" fill="none" stroke="#909030" stroke-width="0.55" stroke-linejoin="round"/>
<path d="M504.5,67.4 504.8,59.5 505.0,76.7 505.3,68.8 505.8,57.6 506.1,57.3 506.9,55.5 507.0,55.7 507.7,57.2 508.2,60.0 508.5,60.2 509.3,62.7 509.5,62.7 510.1,62.9 510.9,64.4 511.7,64.8 512.0,65.2 512.5,64.0 513.3,66.5 514.1,66.5 514.9,67.6 515.7,67.1 516.5,67.3 517.3,66.6 518.1,67.1 518.9,66.3 519.5,65.7 519.7,66.6 520.5,66.4 521.3,65.8 522.1,66.0 522.9,65.5 523.7,66.0 524.5,64.6 525.3,64.0 526.1,64.6 526.9,63.7 527.7,63.4 528.5,64.1 529.3,64.0 529.5,64.1 530.1,64.0 530.9,64.3 531.7,64.3 532.5,65.2 533.3,64.5 534.1,64.6 534.5,65.8 534.9,65.3 535.7,64.8 536.5,64.6 537.3,64.1 538.1,63.3 538.9,62.9 539.5,62.8 539.7,63.8 540.5,62.9 541.3,62.4 542.1,62.1 542.9,62.3 543.7,62.3 544.5,61.2 545.3,59.4 546.1,58.3 546.9,57.1 547.5,56.6 547.7,57.0 548.5,60.4 549.3,62.4 549.5,64.0 550.1,64.7 550.9,64.3 551.7,64.1 552.5,64.6 553.3,65.1 554.1,65.0 554.5,65.4 554.9,64.2 555.7,65.4 556.5,65.6 557.3,65.9 558.1,66.0 558.9,66.1 559.5,66.5 559.7,65.7 560.5,65.9 561.3,65.7 562.1,65.8 562.9,65.4 563.7,64.8 564.5,65.3 565.3,65.5 566.1,65.9 566.9,66.5 567.7,66.8 568.5,67.7 569.3,67.4 569.5,67.1 570.1,67.5 570.9,67.2 571.7,67.3 572.5,66.0 573.3,66.3 574.1,67.0 574.5,65.9 574.9,66.4 575.7,67.9 576.5,67.9 577.3,69.7 578.1,69.4 578.2,70.1 578.9,69.4 579.7,68.3 580.5,66.8 580.8,67.6 581.3,66.5 582.1,64.8 582.9,63.0 583.2,62.1 583.7,61.7 584.5,60.3 585.3,61.2 586.1,59.3 586.9,59.4 587.0,58.7 587.7,59.0 588.5,57.5 589.3,57.1 590.1,56.4 590.8,56.4 590.9,56.2 591.7,57.5 592.5,60.5 593.2,61.9 594.1,60.4 594.9,60.8 595.7,58.8 596.5,61.0 597.3,63.0 598.1,64.0 598.9,64.5 599.5,64.9 599.7,65.3 600.5,66.7 601.3,66.6 602.0,66.3 602.1,68.1 602.9,68.4 603.7,69.1 604.5,70.2 605.3,71.4 605.8,70.5 606.1,70.3 606.9,68.0 607.7,66.2 608.2,65.6 608.5,64.4 609.3,62.0 610.1,60.3 610.9,58.0 611.7,55.9 612.0,55.4 612.5,56.5 613.3,58.7 614.1,61.5 614.5,62.0 614.9,62.8 615.7,61.6 616.5,59.6 617.0,60.0 617.3,59.9 618.1,56.4 618.9,55.0 619.5,54.6 619.7,54.4 620.5,56.5 621.3,57.7 622.0,60.8 622.1,60.6 622.9,63.4 623.7,64.7 624.5,67.3 625.3,67.6 626.1,68.6 626.9,68.3 627.0,68.8 627.7,68.6 628.5,68.5 629.3,67.4 630.1,67.6 630.9,66.5 631.7,66.9 632.0,65.8 632.5,66.5 633.3,66.5 634.1,65.1 634.9,66.1 635.7,66.0 636.5,65.9 637.0,65.7 637.3,65.3 638.1,65.1 638.9,64.4 639.7,65.4 640.5,64.3 641.3,64.5 642.0,64.2 642.1,63.9 642.9,64.5 643.7,66.5 644.5,67.4 645.3,67.9 645.8,69.7" fill="none" stroke="#909030" stroke-width="0.6" stroke-linejoin="round"/>
<path d="M504.5,97.5 504.8,100.5 505.1,106.1 505.4,106.8 505.7,106.1 506.0,96.4 506.3,99.3 506.6,101.0 506.9,102.1 507.2,96.9 507.5,98.0 507.8,92.2 508.1,101.9 508.2,94.9 508.4,99.0 508.7,96.6 509.0,95.2 509.3,91.4 509.6,93.1 509.9,91.5 510.0,86.0 510.2,90.4 510.5,92.9 510.8,91.7 511.1,97.0 511.4,101.4 511.5,101.8 511.7,98.0 512.0,91.3 512.3,101.1 512.6,101.1 512.9,99.4 513.2,100.4 513.5,99.1 513.8,98.5 514.1,102.6 514.4,104.4 514.5,102.1 514.7,99.6 515.0,98.4 515.3,103.5 515.6,103.2 515.9,104.5 516.2,101.2 516.5,100.9 516.8,100.8 517.1,104.4 517.4,106.1 517.7,100.5 518.0,106.0 518.3,101.6 518.6,103.5 518.9,100.8 519.2,104.5 519.5,103.8 519.8,103.0 520.1,104.4 520.4,100.5 520.7,100.3 521.0,104.4 521.3,101.5 521.6,100.1 521.9,100.5 522.2,97.1 522.5,102.6 522.8,99.5 523.1,102.5 523.4,102.4 523.7,100.7 524.0,104.4 524.3,99.6 524.5,101.5 524.6,102.4 524.9,99.3 525.2,98.1 525.5,101.1 525.8,98.7 526.1,98.1 526.4,98.5 526.7,102.4 527.0,104.3 527.3,101.2 527.6,101.0 527.9,102.0 528.2,102.8 528.5,101.4 528.8,100.5 529.1,103.2 529.4,100.8 529.5,100.5 529.7,100.3 530.0,100.6 530.3,101.1 530.6,101.7 530.9,102.9 531.2,101.2 531.5,102.2 531.8,101.8 532.1,102.7 532.4,104.6 532.7,101.5 533.0,99.1 533.3,103.7 533.6,102.6 533.9,102.8 534.2,97.7 534.5,99.5 534.8,102.8 535.1,101.8 535.4,101.7 535.7,104.0 536.0,100.2 536.3,100.9 536.6,102.3 536.9,100.0 537.2,100.3 537.5,100.8 537.8,100.0 538.1,100.5 538.4,102.9 538.7,98.3 539.0,99.5 539.3,99.1 539.5,99.6 539.6,100.8 539.9,102.7 540.2,101.8 540.5,104.2 540.8,96.4 541.1,98.1 541.4,104.2 541.7,100.0 542.0,100.0 542.3,99.3 542.6,98.8 542.9,102.4 543.2,100.1 543.5,98.7 543.8,99.9 544.1,99.8 544.4,101.0 544.5,100.7 544.7,100.4 545.0,99.4 545.3,100.2 545.6,99.0 545.9,97.1 546.2,98.9 546.5,95.8 546.8,98.1 547.1,96.2 547.4,100.1 547.7,98.0 548.0,96.0 548.2,95.7 548.6,98.6 548.9,95.6 549.2,99.8 549.5,100.3 549.8,99.3 550.1,97.6 550.4,99.6 550.7,98.3 551.0,96.1 551.3,98.0 551.6,102.4 551.9,100.4 552.0,99.8 552.2,103.3 552.5,101.1 552.8,102.3 553.1,101.7 553.4,98.9 553.7,100.8 554.0,98.3 554.3,103.1 554.6,99.9 554.9,105.6 555.2,100.8 555.5,99.8 555.8,103.7 556.1,98.2 556.4,101.8 556.7,102.5 557.0,107.1 557.3,102.9 557.6,102.8 557.9,101.9 558.2,101.9 558.5,100.9 558.8,103.2 559.1,101.8 559.4,101.9 559.7,99.1 560.0,103.7 560.3,102.7 560.6,102.0 560.9,102.9 561.2,105.0 561.5,97.6 561.8,104.2 562.0,102.1 562.1,102.1 562.4,104.0 562.7,104.8 563.0,100.9 563.3,105.4 563.6,101.7 563.9,105.3 564.2,102.1 564.5,107.6 564.8,99.7 565.0,102.2 565.1,102.5 565.4,91.6 565.7,87.0 566.0,86.7 566.3,94.4 566.5,99.6 566.6,101.6 566.9,99.3 567.2,102.4 567.5,101.1 567.8,96.3 568.1,103.1 568.4,104.2 568.7,103.4 569.0,103.6 569.3,101.1 569.6,101.0 569.9,101.6 570.2,101.8 570.5,103.0 570.8,105.5 571.1,104.1 571.4,101.6 571.7,97.9 572.0,99.4 572.3,103.1 572.6,100.6 572.9,106.4 573.2,102.0 573.5,102.4 573.8,103.9 574.1,102.3 574.4,103.5 574.7,106.6 575.0,106.7 575.3,108.1 575.6,107.6 575.8,107.6 575.9,102.1 576.2,105.6 576.5,104.7 576.8,106.3 577.1,107.5 577.4,108.3 577.7,108.6 578.0,110.3 578.2,110.1 578.6,110.3 578.9,104.3 579.2,103.8 579.5,105.1 579.8,105.0 580.1,99.4 580.4,97.7 580.7,101.9 581.0,99.1 581.3,100.2 581.6,100.1 581.9,97.2 582.2,95.8 582.5,98.3 582.8,95.0 583.1,97.1 583.4,92.2 583.7,93.7 584.0,93.5 584.3,92.6 584.5,93.7 584.6,93.6 584.9,93.9 585.2,95.1 585.5,93.5 585.8,96.5 586.1,94.7 586.4,95.3 586.7,98.5 587.0,99.7 587.3,97.2 587.6,95.9 587.9,94.8 588.2,95.2 588.5,94.3 588.8,97.8 589.1,91.9 589.4,93.4 589.7,95.1 590.0,93.1 590.3,92.1 590.6,95.6 590.8,93.5 590.9,94.2 591.2,92.0 591.5,95.1 591.8,95.8 592.1,93.8 592.4,97.8 592.7,97.6 593.0,97.1 593.2,99.0 593.6,99.9 593.9,100.1 594.2,100.1 594.5,97.4 594.8,100.9 595.1,101.6 595.4,98.7 595.7,103.8 596.0,103.0 596.3,103.9 596.6,104.9 596.9,104.3 597.0,101.7 597.2,104.2 597.5,101.6 597.8,101.7 598.1,101.5 598.4,100.8 598.7,101.6 599.0,101.3 599.3,99.4 599.5,96.8 599.6,97.5 599.9,98.7 600.2,100.0 600.5,91.0 600.8,93.9 601.1,92.9 601.4,93.1 601.7,94.1 602.0,90.9 602.3,91.9 602.6,93.1 602.9,96.8 603.2,95.6 603.5,98.8 603.8,99.8 604.1,98.5 604.4,99.9 604.5,99.3 604.7,100.0 605.0,99.1 605.3,101.2 605.6,102.6 605.9,106.1 606.2,104.9 606.5,105.1 606.8,108.4 607.0,107.5 607.1,108.0 607.4,106.1 607.7,108.4 608.0,105.3 608.3,105.4 608.6,101.5 608.9,101.7 609.2,90.0 609.5,102.1 609.8,104.1 610.1,95.7 610.4,101.3 610.7,99.7 611.0,98.0 611.3,94.9 611.6,93.7 611.9,96.3 612.0,92.6 612.2,91.5 612.5,93.3 612.8,95.4 613.1,95.2 613.4,95.6 613.7,96.3 614.0,100.1 614.3,97.8 614.5,98.2 614.6,95.3 614.9,96.2 615.2,98.9 615.5,97.8 615.8,97.8 616.1,98.3 616.4,93.7 616.7,95.7 617.0,95.2 617.3,98.1 617.6,92.1 617.9,91.8 618.2,95.1 618.5,90.4 618.8,89.0 619.1,90.8 619.4,86.9 619.5,87.7 619.7,87.9 620.0,90.6 620.3,89.8 620.6,92.0 620.9,91.0 621.2,93.5 621.5,95.8 621.8,95.6 622.0,98.8 622.1,97.7 622.4,94.8 622.7,102.6 623.0,99.4 623.3,102.5 623.6,102.8 623.9,102.5 624.2,103.8 624.5,104.5 624.8,102.3 625.1,105.4 625.4,102.1 625.7,106.5 626.0,103.1 626.3,105.0 626.6,104.5 626.9,105.9 627.0,104.2 627.2,104.1 627.5,104.1 627.8,105.0 628.1,106.6 628.4,102.3 628.7,98.8 629.0,103.6 629.3,102.8 629.6,104.3 629.9,103.7 630.2,102.8 630.5,103.3 630.8,101.1 631.1,101.7 631.4,101.2 631.7,101.0 632.0,99.9 632.3,99.4 632.6,104.1 632.9,104.8 633.2,101.3 633.5,103.0 633.8,100.0 634.1,101.9 634.4,101.3 634.7,105.0 635.0,101.0 635.3,101.1 635.6,100.2 635.9,99.9 636.2,103.1 636.5,104.6 636.8,100.6 637.0,99.7 637.1,100.8 637.4,99.5 637.7,101.8 638.0,102.3 638.3,99.9 638.6,101.7 638.9,102.2 639.2,98.8 639.5,101.3 639.8,99.3 640.1,102.5 640.4,102.0 640.7,101.1 641.0,97.1 641.3,99.9 641.6,101.6 641.9,100.2 642.0,102.7 642.2,102.0 642.5,102.7 642.8,102.0 643.1,103.5 643.4,101.2 643.7,101.6 644.0,103.7 644.3,100.6 644.6,100.0 644.9,104.4 645.2,105.6 645.5,105.4 645.8,108.5" fill="none" stroke="#e8e050" stroke-width="0.55" stroke-linejoin="round"/>
<path d="M504.5,106.6 505.3,100.2 505.8,98.3 506.1,98.9 506.9,96.8 507.7,97.8 508.2,97.8 508.5,96.2 509.3,92.5 510.0,89.3 510.1,89.1 510.9,94.1 511.5,98.8 511.7,98.9 512.5,99.9 513.3,101.1 514.1,100.5 514.5,101.8 514.9,100.6 515.7,101.9 516.5,102.4 517.3,101.6 518.1,101.2 518.9,102.4 519.5,102.1 519.7,103.1 520.5,102.9 521.3,102.0 522.1,101.5 522.9,100.4 523.7,100.2 524.5,100.3 525.3,99.9 526.1,101.1 526.9,100.2 527.7,101.0 528.5,101.0 529.3,101.1 529.5,100.1 530.1,101.5 530.9,101.1 531.7,100.9 532.5,101.5 533.3,101.3 534.1,102.3 534.5,101.0 534.9,102.3 535.7,102.3 536.5,101.1 537.3,100.9 538.1,100.5 538.9,100.5 539.5,100.1 539.7,99.5 540.5,100.2 541.3,99.9 542.1,99.4 542.9,99.9 543.7,100.0 544.5,99.4 545.3,99.5 546.1,97.7 546.9,96.8 547.7,97.7 548.2,95.1 548.5,95.4 549.3,97.5 550.1,98.0 550.9,98.9 551.7,99.0 552.0,99.3 552.5,99.3 553.3,100.1 554.1,100.4 554.9,101.4 555.7,101.3 556.5,102.1 557.0,101.9 557.3,101.0 558.1,102.2 558.9,101.1 559.7,103.2 560.5,102.7 561.3,101.9 562.0,103.1 562.1,102.8 562.9,102.3 563.7,102.2 564.5,102.1 565.0,102.7 565.3,95.2 565.8,85.6 566.1,93.0 566.5,100.8 566.9,101.4 567.7,101.4 568.5,102.5 569.3,101.6 570.1,102.0 570.9,102.3 571.7,101.8 572.0,102.3 572.5,102.9 573.3,102.5 574.1,104.4 574.9,103.8 575.7,105.8 576.5,106.5 577.3,107.3 578.1,108.6 578.2,107.9 578.9,105.6 579.7,104.4 580.5,101.1 580.8,99.8 581.3,98.9 582.1,98.0 582.9,96.1 583.7,93.9 584.5,92.1 585.3,94.8 586.1,96.5 586.9,98.7 587.0,98.8 587.7,96.4 588.5,96.7 589.3,94.6 590.1,92.4 590.8,91.7 590.9,91.9 591.7,93.1 592.5,96.4 593.2,99.0 594.1,100.6 594.9,101.5 595.7,103.1 596.5,103.5 597.0,105.5 597.3,105.0 598.1,101.9 598.9,100.2 599.5,99.9 599.7,97.9 600.5,96.0 601.3,94.7 602.0,91.5 602.1,91.6 602.9,94.6 603.7,98.9 604.5,99.1 605.3,102.5 606.1,105.8 606.9,107.6 607.0,108.3 607.7,106.6 608.5,105.0 609.3,101.5 609.5,102.0 610.1,99.3 610.9,97.3 611.7,95.1 612.0,93.2 612.5,94.8 613.3,96.2 614.1,97.8 614.5,97.7 614.9,98.0 615.7,97.3 616.5,96.3 617.0,96.6 617.3,95.2 618.1,93.2 618.9,89.0 619.5,88.2 619.7,88.2 620.5,91.8 621.3,95.0 622.0,96.6 622.1,97.3 622.9,99.5 623.7,102.7 624.5,103.5 625.3,104.6 626.1,105.3 626.9,105.2 627.0,104.2 627.7,104.1 628.5,104.3 629.3,103.7 630.1,103.0 630.9,103.3 631.7,102.7 632.0,102.6 632.5,103.2 633.3,102.1 634.1,102.4 634.9,101.5 635.7,102.0 636.5,102.3 637.0,103.4 637.3,102.0 638.1,102.1 638.9,101.4 639.7,101.3 640.5,101.4 641.3,101.4 642.0,101.1 642.1,101.9 642.9,102.2 643.7,102.6 644.5,104.7 645.3,103.9 645.8,105.7" fill="none" stroke="#e8e050" stroke-width="0.6" stroke-linejoin="round"/>
<path d="M504.5,146.1 504.8,131.4 505.1,135.0 505.4,136.1 505.7,131.8 506.0,133.9 506.3,126.3 506.6,136.8 506.9,133.5 507.0,136.1 507.2,133.7 507.5,133.6 507.8,127.4 508.1,130.0 508.4,124.4 508.7,128.4 509.0,122.5 509.3,130.3 509.6,131.6 509.9,126.9 510.2,129.1 510.5,129.9 510.8,127.7 511.1,133.0 511.4,129.1 511.7,131.3 512.0,131.4 512.3,134.5 512.6,136.1 512.9,136.1 513.2,133.3 513.5,136.9 513.8,139.4 514.1,132.5 514.4,139.8 514.7,137.5 515.0,135.5 515.3,135.9 515.6,134.9 515.9,137.0 516.2,142.8 516.5,133.0 516.8,136.7 517.0,136.2 517.1,133.5 517.4,133.5 517.7,136.0 518.0,140.2 518.3,136.4 518.6,138.6 518.9,136.1 519.2,135.6 519.5,138.3 519.8,135.4 520.1,137.0 520.4,137.3 520.7,136.3 521.0,137.6 521.3,141.9 521.6,136.2 521.9,135.8 522.0,140.3 522.2,135.3 522.5,134.3 522.8,135.7 523.1,138.2 523.4,139.2 523.7,136.7 524.0,138.5 524.3,135.1 524.6,139.3 524.9,138.3 525.2,136.9 525.5,137.3 525.8,140.0 526.1,137.4 526.4,136.4 526.7,139.6 527.0,135.1 527.3,135.4 527.6,139.0 527.9,135.6 528.2,134.3 528.5,134.0 528.8,136.9 529.1,136.6 529.4,134.8 529.7,137.3 530.0,134.7 530.3,134.0 530.6,137.6 530.9,133.6 531.2,136.8 531.5,138.5 531.8,134.6 532.0,133.4 532.1,138.4 532.4,138.8 532.7,141.3 533.0,136.7 533.3,137.1 533.6,134.9 533.9,138.8 534.2,139.4 534.5,136.4 534.8,137.7 535.1,140.0 535.4,137.4 535.7,140.2 536.0,139.3 536.3,136.5 536.6,135.6 536.9,135.3 537.0,134.8 537.2,140.3 537.5,135.9 537.8,134.8 538.1,133.9 538.4,134.7 538.7,137.2 539.0,136.5 539.3,131.3 539.6,136.6 539.9,137.1 540.2,137.1 540.5,138.0 540.8,136.5 541.1,140.0 541.4,133.9 541.7,137.3 542.0,133.7 542.3,134.0 542.6,138.1 542.9,136.3 543.2,133.0 543.5,135.0 543.8,130.2 544.1,131.6 544.4,131.3 544.5,129.6 544.7,133.2 545.0,129.3 545.3,130.5 545.6,132.9 545.9,131.0 546.2,128.0 546.5,127.7 546.8,129.0 547.1,124.9 547.4,127.5 547.5,127.6 547.7,129.8 548.0,127.9 548.3,126.1 548.6,126.1 548.9,134.6 549.2,132.6 549.5,131.6 549.8,131.2 550.1,130.9 550.4,130.9 550.7,132.2 551.0,129.7 551.3,133.9 551.6,132.1 551.9,133.8 552.2,132.6 552.5,133.3 552.8,131.5 553.1,137.9 553.4,139.4 553.7,135.4 554.0,133.5 554.3,139.1 554.5,136.6 554.6,135.1 554.9,134.4 555.2,135.8 555.5,138.3 555.8,134.6 556.1,134.9 556.4,136.0 556.7,137.1 557.0,138.4 557.3,136.3 557.6,137.0 557.9,137.5 558.2,135.7 558.5,137.4 558.8,135.5 559.1,138.4 559.4,138.0 559.5,137.8 559.7,136.2 560.0,141.4 560.3,139.1 560.6,137.6 560.9,136.2 561.2,138.2 561.5,138.2 561.8,138.9 562.1,139.3 562.4,133.8 562.7,136.8 563.0,138.2 563.3,134.5 563.6,142.7 563.9,140.2 564.2,139.4 564.5,140.8 564.8,139.5 565.1,138.8 565.4,140.0 565.7,139.3 566.0,140.9 566.3,138.9 566.6,141.3 566.9,142.1 567.2,140.0 567.5,138.9 567.8,136.1 568.1,137.2 568.4,136.1 568.7,138.0 569.0,139.9 569.3,134.9 569.5,138.7 569.6,134.7 569.9,137.0 570.2,139.2 570.5,136.6 570.8,139.8 571.1,137.7 571.4,136.9 571.7,137.4 572.0,137.1 572.3,138.0 572.6,135.1 572.9,137.0 573.2,135.7 573.5,137.3 573.8,135.5 574.1,139.9 574.4,140.0 574.5,140.1 574.7,135.9 575.0,137.4 575.3,139.3 575.6,137.8 575.9,139.8 576.2,139.6 576.5,143.0 576.8,140.7 577.0,147.1 577.1,140.8 577.4,142.1 577.7,144.5 578.0,142.0 578.3,136.3 578.6,141.9 578.9,140.3 579.2,140.9 579.5,136.1 579.8,142.7 580.1,134.4 580.4,139.1 580.7,133.5 581.0,132.7 581.3,135.9 581.6,132.4 581.9,136.9 582.0,135.7 582.2,133.5 582.5,131.1 582.8,130.6 583.1,131.5 583.4,130.7 583.7,128.5 584.0,129.0 584.3,128.7 584.5,129.9 584.6,126.6 584.9,128.3 585.2,130.5 585.5,130.3 585.8,124.7 586.1,131.7 586.4,129.9 586.7,133.2 587.0,131.1 587.3,128.6 587.6,135.4 587.9,126.8 588.2,125.0 588.5,126.9 588.8,127.4 589.1,125.9 589.4,124.6 589.7,121.3 590.0,126.2 590.3,119.8 590.6,121.0 590.8,119.8 590.9,121.4 591.2,121.7 591.5,123.3 591.8,121.2 592.1,122.1 592.4,120.1 592.7,123.4 593.0,124.0 593.2,125.9 593.6,125.2 593.9,127.9 594.2,127.7 594.5,129.3 594.8,130.0 595.1,127.9 595.4,131.2 595.7,131.1 596.0,127.6 596.3,133.9 596.6,129.8 596.9,131.8 597.2,135.2 597.5,132.2 597.8,135.4 598.1,133.1 598.4,133.7 598.7,137.3 599.0,134.8 599.3,138.0 599.5,139.1 599.6,137.2 599.9,135.9 600.2,132.8 600.5,131.6 600.8,132.1 601.1,131.8 601.4,127.2 601.7,128.0 602.0,127.9 602.3,129.5 602.6,127.3 602.9,125.4 603.2,127.2 603.5,125.0 603.8,125.0 604.1,126.6 604.4,130.2 604.5,129.8 604.7,124.8 605.0,133.4 605.3,127.7 605.6,131.8 605.9,133.2 606.2,138.6 606.5,137.4 606.8,142.2 607.0,140.3 607.1,140.8 607.4,139.1 607.7,139.2 608.0,137.6 608.3,142.4 608.6,140.0 608.9,138.3 609.2,139.8 609.5,133.8 609.8,131.4 610.1,130.2 610.4,127.4 610.7,128.3 611.0,128.3 611.3,124.5 611.6,125.7 611.9,125.5 612.0,122.7 612.2,122.4 612.5,126.0 612.8,126.3 613.1,126.1 613.4,125.8 613.7,130.2 614.0,132.5 614.3,131.0 614.5,130.1 614.6,133.7 614.9,130.8 615.2,131.7 615.5,126.4 615.8,130.2 616.1,130.8 616.4,130.6 616.7,128.6 617.0,129.0 617.3,127.1 617.6,126.0 617.9,124.6 618.2,120.6 618.5,121.4 618.8,123.3 619.1,119.8 619.4,122.9 619.5,121.9 619.7,119.8 620.0,123.7 620.3,122.7 620.6,127.1 620.9,124.0 621.2,128.4 621.5,124.5 621.8,126.0 622.0,124.6 622.1,129.5 622.4,128.3 622.7,134.7 623.0,130.1 623.3,135.6 623.6,136.6 623.9,134.8 624.2,137.3 624.5,142.8 624.8,137.7 625.1,140.7 625.4,140.4 625.7,139.4 626.0,135.3 626.3,138.1 626.6,139.9 626.9,141.4 627.0,137.8 627.2,135.4 627.5,135.6 627.8,138.4 628.1,136.8 628.4,139.7 628.7,139.3 629.0,137.9 629.3,135.4 629.6,138.0 629.9,138.5 630.2,137.7 630.5,138.7 630.8,134.7 631.1,139.1 631.4,139.1 631.7,137.5 632.0,137.4 632.3,133.7 632.6,136.5 632.9,135.7 633.2,139.5 633.5,137.8 633.8,135.1 634.1,136.9 634.4,138.0 634.7,140.7 635.0,140.3 635.3,135.7 635.6,139.8 635.9,135.6 636.2,141.4 636.5,141.5 636.8,135.1 637.0,138.0 637.1,135.2 637.4,138.1 637.7,136.3 638.0,135.5 638.3,139.3 638.6,137.6 638.9,139.2 639.2,138.1 639.5,134.9 639.8,135.7 640.1,139.1 640.4,139.3 640.7,136.7 641.0,141.6 641.3,138.5 641.6,140.0 641.9,137.8 642.0,139.0 642.2,135.5 642.5,136.4 642.8,133.8 643.1,137.4 643.4,134.7 643.7,137.9 644.0,136.6 644.3,135.9 644.6,137.3 644.9,137.2 645.2,136.1 645.5,141.6 645.8,136.9" fill="none" stroke="#ee3cee" stroke-width="0.55" stroke-linejoin="round"/>
<path d="M504.5,140.9 505.3,134.9 505.8,132.8 506.1,131.9 506.9,129.1 507.0,128.7 507.7,128.1 508.5,125.5 509.0,125.8 509.3,125.7 510.1,129.6 510.8,133.0 510.9,133.7 511.7,135.2 512.5,133.6 513.2,134.8 514.1,135.7 514.9,136.8 515.7,136.2 516.5,137.4 517.0,136.6 517.3,136.3 518.1,135.9 518.9,136.4 519.7,137.4 520.5,137.5 521.3,136.0 522.0,137.7 522.1,137.7 522.9,137.4 523.7,137.3 524.5,136.4 525.3,137.4 526.1,136.0 526.9,136.5 527.0,138.0 527.7,136.6 528.5,136.6 529.3,137.6 530.1,137.7 530.9,138.7 531.7,137.4 532.0,138.0 532.5,136.9 533.3,137.7 534.1,137.4 534.9,136.7 535.7,137.5 536.5,136.8 537.0,136.9 537.3,136.4 538.1,136.2 538.9,135.8 539.7,135.8 540.5,136.0 541.3,134.7 542.0,135.1 542.1,135.1 542.9,133.8 543.7,133.1 544.5,133.9 545.3,131.1 546.1,129.3 546.9,127.8 547.5,127.0 547.7,125.7 548.5,128.3 549.3,130.7 549.5,131.7 550.1,131.9 550.9,132.2 551.7,132.6 552.5,133.2 553.3,134.6 554.1,134.2 554.5,134.1 554.9,134.8 555.7,135.9 556.5,137.0 557.3,136.2 558.1,136.8 558.9,136.7 559.5,137.8 559.7,137.6 560.5,138.4 561.3,137.8 562.1,138.1 562.9,138.7 563.7,138.5 564.5,138.6 565.3,139.2 566.1,138.3 566.9,138.8 567.7,137.6 568.5,138.2 569.3,138.2 569.5,137.2 570.1,137.6 570.9,136.4 571.7,138.0 572.5,136.8 573.3,136.3 574.1,136.0 574.5,137.2 574.9,137.6 575.7,139.9 576.5,140.9 577.0,142.7 577.3,142.4 578.1,141.0 578.9,140.1 579.5,138.2 579.7,138.5 580.5,136.9 581.3,134.4 582.0,133.0 582.1,132.9 582.9,130.5 583.7,129.1 584.5,128.2 585.3,127.4 586.1,130.4 586.9,131.9 587.0,131.6 587.7,130.2 588.5,127.2 589.3,125.0 590.1,122.8 590.8,120.2 590.9,119.7 591.7,122.5 592.5,125.7 593.2,126.1 594.1,127.2 594.9,128.4 595.7,131.0 596.5,131.3 597.3,132.3 598.1,133.8 598.9,135.6 599.5,136.2 599.7,136.0 600.5,132.8 601.3,130.1 602.0,127.9 602.1,128.5 602.9,126.5 603.7,125.3 604.5,126.1 605.3,131.1 606.1,135.4 606.9,141.2 607.0,141.5 607.7,139.7 608.5,136.2 609.3,134.6 609.5,134.9 610.1,131.3 610.9,127.8 611.7,125.2 612.0,123.5 612.5,126.1 613.3,127.8 614.1,130.0 614.5,133.0 614.9,132.0 615.7,130.9 616.5,128.2 617.0,127.3 617.3,126.6 618.1,125.1 618.9,121.5 619.5,120.1 619.7,121.0 620.5,123.3 621.3,126.8 622.0,129.4 622.1,128.3 622.9,133.4 623.7,135.9 624.5,139.1 625.3,139.6 626.1,138.8 626.9,139.6 627.0,139.5 627.7,138.5 628.5,139.2 629.3,139.1 630.1,138.1 630.9,138.4 631.7,138.2 632.0,136.8 632.5,137.3 633.3,137.7 634.1,137.3 634.9,138.9 635.7,137.1 636.5,137.6 637.0,137.2 637.3,137.9 638.1,137.7 638.9,137.1 639.7,137.2 640.5,137.5 641.3,136.6 642.0,136.9 642.1,137.2 642.9,136.7 643.7,137.1 644.5,137.4 645.3,138.9 645.8,138.9" fill="none" stroke="#ee3cee" stroke-width="0.6" stroke-linejoin="round"/>
<path d="M504.5,168.2 504.8,174.7 505.1,174.4 505.4,168.5 505.7,165.4 506.0,160.5 506.3,165.8 506.6,161.5 506.9,162.1 507.2,164.3 507.5,167.6 507.8,171.9 508.1,163.7 508.4,164.4 508.7,173.8 509.0,176.5 509.3,168.5 509.5,171.2 509.6,171.4 509.9,172.4 510.2,167.8 510.5,171.4 510.8,169.5 511.1,169.3 511.4,174.4 511.7,170.3 512.0,170.4 512.3,169.9 512.6,173.2 512.9,170.7 513.2,171.7 513.5,172.2 513.8,172.4 514.1,172.0 514.4,172.5 514.7,171.9 515.0,169.5 515.3,174.0 515.6,171.5 515.9,172.0 516.2,170.6 516.5,172.0 516.8,171.9 517.0,172.7 517.1,171.1 517.4,172.0 517.7,168.0 518.0,174.1 518.3,175.0 518.6,170.7 518.9,168.7 519.2,175.0 519.5,172.6 519.8,167.9 520.1,175.5 520.4,169.9 520.7,174.6 521.0,176.6 521.3,173.3 521.6,171.8 521.9,171.1 522.0,169.5 522.2,172.7 522.5,171.4 522.8,170.3 523.1,173.4 523.4,172.7 523.7,171.5 524.0,173.9 524.3,171.4 524.6,173.0 524.9,171.1 525.2,171.6 525.5,170.9 525.8,173.6 526.1,174.2 526.4,169.4 526.7,172.9 527.0,172.7 527.3,172.0 527.6,174.3 527.9,175.8 528.2,169.3 528.5,172.9 528.8,173.6 529.1,172.1 529.4,170.2 529.7,172.1 530.0,169.8 530.3,173.0 530.6,174.4 530.9,175.8 531.2,171.7 531.5,173.7 531.8,173.4 532.0,173.1 532.1,176.0 532.4,172.8 532.7,174.5 533.0,175.9 533.3,174.2 533.6,169.9 533.9,172.1 534.2,173.8 534.5,172.7 534.8,171.5 535.1,171.4 535.4,171.4 535.7,174.8 536.0,171.6 536.3,173.9 536.6,172.5 536.9,174.4 537.0,175.8 537.2,171.8 537.5,170.3 537.8,172.4 538.1,175.1 538.4,172.9 538.7,171.5 539.0,175.1 539.3,172.4 539.6,172.1 539.9,176.3 540.2,170.9 540.5,172.0 540.8,173.9 541.1,171.6 541.4,171.8 541.7,172.0 542.0,170.7 542.3,170.6 542.6,174.3 542.9,171.7 543.2,168.0 543.5,171.4 543.8,169.1 544.1,168.7 544.4,172.8 544.7,171.1 545.0,169.9 545.3,169.1 545.6,167.1 545.8,168.6 545.9,170.3 546.2,170.6 546.5,166.0 546.8,168.6 547.1,169.1 547.4,170.9 547.7,168.6 548.0,170.6 548.3,167.9 548.6,169.2 548.9,171.7 549.2,172.2 549.5,171.7 549.8,171.0 550.1,168.7 550.4,170.1 550.7,170.9 551.0,170.9 551.3,170.8 551.6,173.1 551.9,170.9 552.2,171.7 552.5,172.5 552.8,173.2 553.1,173.5 553.4,169.2 553.7,173.4 554.0,172.2 554.3,172.9 554.5,173.6 554.6,170.8 554.9,172.2 555.2,175.6 555.5,176.0 555.8,166.8 556.1,166.9 556.4,174.7 556.7,170.3 557.0,170.7 557.3,172.8 557.6,172.1 557.9,169.3 558.2,172.6 558.5,171.9 558.8,167.8 559.1,170.3 559.4,172.2 559.5,173.0 559.7,169.5 560.0,171.3 560.3,170.6 560.6,168.4 560.9,171.3 561.2,170.1 561.5,170.5 561.8,167.9 562.1,168.0 562.4,171.0 562.7,169.8 563.0,173.1 563.3,172.1 563.6,171.8 563.9,171.0 564.2,171.6 564.5,170.5 564.8,171.1 565.0,173.6 565.1,173.0 565.4,168.8 565.7,160.4 566.0,162.9 566.3,169.5 566.5,174.5 566.6,173.7 566.9,173.5 567.2,175.8 567.5,171.0 567.8,174.4 568.1,172.8 568.4,172.2 568.7,174.0 569.0,171.3 569.3,173.0 569.6,170.9 569.9,170.9 570.2,175.2 570.5,172.2 570.8,175.8 571.1,171.3 571.4,172.1 571.7,172.1 572.0,173.6 572.3,169.7 572.6,171.9 572.9,170.1 573.2,170.8 573.5,173.1 573.8,173.3 574.1,176.1 574.4,176.5 574.7,174.2 575.0,173.5 575.3,176.0 575.6,173.8 575.8,175.4 575.9,172.9 576.2,170.0 576.5,174.9 576.8,172.8 577.1,175.9 577.4,176.1 577.7,176.9 578.0,176.9 578.3,177.4 578.6,175.9 578.9,178.8 579.2,177.5 579.5,175.2 579.8,175.9 580.1,177.8 580.4,175.2 580.7,174.6 581.0,173.3 581.3,170.2 581.6,174.7 581.9,170.4 582.0,172.3 582.2,165.9 582.5,164.9 582.8,173.3 583.1,169.3 583.4,168.9 583.7,167.7 584.0,167.0 584.3,165.5 584.5,163.5 584.6,165.2 584.9,164.9 585.2,166.5 585.5,166.9 585.8,164.8 586.1,165.6 586.4,170.0 586.7,165.2 587.0,168.4 587.3,165.4 587.6,166.8 587.9,167.3 588.2,163.8 588.5,165.5 588.8,165.1 589.1,162.2 589.4,166.3 589.7,162.5 590.0,165.2 590.3,158.6 590.6,157.9 590.8,159.8 590.9,162.6 591.2,162.3 591.5,163.0 591.8,161.7 592.1,163.8 592.4,164.3 592.7,167.0 593.0,165.7 593.2,165.8 593.6,167.6 593.9,171.3 594.2,170.3 594.5,169.2 594.8,167.6 595.1,170.0 595.4,169.7 595.7,170.8 596.0,164.4 596.3,175.3 596.6,170.9 596.9,173.8 597.0,173.8 597.2,174.1 597.5,170.4 597.8,170.7 598.1,169.4 598.4,172.3 598.7,167.4 599.0,165.4 599.3,164.8 599.5,168.0 599.6,167.0 599.9,160.8 600.2,162.4 600.5,162.6 600.8,159.8 601.1,161.9 601.4,160.8 601.7,162.4 602.0,156.8 602.3,160.6 602.6,165.9 602.9,163.4 603.2,164.0 603.5,167.7 603.8,169.3 604.1,167.4 604.4,170.7 604.5,173.0 604.7,169.6 605.0,170.0 605.3,173.0 605.6,173.1 605.9,171.5 606.2,174.1 606.5,174.3 606.8,175.5 607.0,176.0 607.1,172.7 607.4,176.5 607.7,178.5 608.0,173.0 608.3,171.2 608.6,175.3 608.9,173.0 609.2,171.8 609.5,168.1 609.8,166.9 610.1,170.1 610.4,170.0 610.7,166.5 611.0,168.3 611.3,167.6 611.6,165.7 611.9,163.2 612.0,163.6 612.2,162.2 612.5,160.2 612.8,163.5 613.1,164.6 613.4,165.4 613.7,163.3 614.0,164.4 614.3,168.0 614.5,165.3 614.6,166.8 614.9,167.3 615.2,162.3 615.5,165.7 615.8,161.1 616.1,164.3 616.4,160.8 616.7,163.8 617.0,159.5 617.3,159.0 617.6,160.7 617.9,157.2 618.2,156.4 618.5,158.0 618.8,156.1 619.0,154.5 619.1,155.9 619.4,157.4 619.7,157.0 620.0,159.5 620.3,160.4 620.6,161.5 620.9,165.0 621.2,166.0 621.5,164.3 621.8,169.2 622.0,168.0 622.1,166.2 622.4,167.9 622.7,170.9 623.0,172.0 623.3,174.9 623.6,172.1 623.9,172.9 624.2,172.3 624.5,173.7 624.8,174.0 625.1,176.4 625.4,173.7 625.7,176.0 626.0,173.6 626.3,173.7 626.6,176.9 626.9,175.8 627.0,173.9 627.2,176.8 627.5,172.3 627.8,174.3 628.1,171.6 628.4,175.3 628.7,174.5 629.0,172.6 629.3,172.2 629.6,175.2 629.9,173.0 630.2,171.3 630.5,169.8 630.8,175.2 631.1,175.6 631.4,174.8 631.7,173.9 632.0,172.9 632.3,172.5 632.6,171.5 632.9,178.8 633.2,173.4 633.5,175.0 633.8,173.4 634.1,173.5 634.4,175.2 634.7,173.6 635.0,178.3 635.3,176.2 635.6,173.3 635.9,174.0 636.2,172.6 636.5,178.1 636.8,169.5 637.0,173.8 637.1,171.3 637.4,174.6 637.7,173.3 638.0,174.0 638.3,175.4 638.6,171.1 638.9,172.1 639.2,173.9 639.5,172.9 639.8,172.5 640.1,171.2 640.4,167.8 640.7,173.2 641.0,175.9 641.3,176.0 641.6,177.5 641.9,174.3 642.0,172.3 642.2,170.1 642.5,174.0 642.8,172.1 643.1,172.8 643.4,171.2 643.7,171.7 644.0,175.7 644.3,173.6 644.6,174.5 644.9,175.9 645.2,177.7 645.5,173.5 645.8,179.2" fill="none" stroke="#3ce8e8" stroke-width="0.55" stroke-linejoin="round"/>
<path d="M504.5,174.8 505.3,168.7 505.8,165.7 506.1,165.3 506.9,165.3 507.5,166.6 507.7,166.5 508.5,167.7 509.3,169.5 509.5,169.5 510.1,169.7 510.9,170.6 511.7,170.4 512.5,170.5 513.2,171.9 514.1,173.0 514.9,172.4 515.7,173.2 516.5,173.1 517.0,173.0 517.3,172.1 518.1,172.8 518.9,173.3 519.7,172.6 520.5,172.6 521.3,172.2 522.0,171.9 522.1,172.3 522.9,171.7 523.7,173.0 524.5,173.1 525.3,171.5 526.1,172.5 526.9,172.1 527.0,171.5 527.7,172.0 528.5,173.2 529.3,172.5 530.1,173.2 530.9,172.9 531.7,173.4 532.0,172.4 532.5,173.4 533.3,173.7 534.1,172.4 534.9,173.0 535.7,171.9 536.5,173.1 537.0,172.5 537.3,172.8 538.1,171.6 538.9,172.5 539.7,172.4 540.5,171.6 541.3,172.5 542.0,172.8 542.1,171.7 542.9,170.9 543.7,170.9 544.5,171.1 545.3,169.2 545.8,168.5 546.1,169.2 546.9,169.2 547.7,170.3 548.5,170.3 549.3,170.8 549.5,172.5 550.1,171.9 550.9,171.4 551.7,171.5 552.5,172.7 553.3,171.7 554.1,172.5 554.5,172.3 554.9,172.4 555.7,172.1 556.5,171.3 557.3,170.9 558.1,171.3 558.9,171.1 559.5,171.6 559.7,170.8 560.5,170.2 561.3,170.7 562.1,171.0 562.9,169.8 563.7,170.4 564.5,170.8 565.0,171.1 565.3,166.3 565.8,161.0 566.1,165.7 566.5,172.7 566.9,172.4 567.7,171.8 568.5,172.8 569.3,171.7 570.1,173.7 570.9,173.9 571.7,173.3 572.0,172.2 572.5,172.7 573.3,173.3 574.1,174.1 574.9,173.6 575.7,173.8 576.5,174.8 577.3,176.3 578.1,176.0 578.9,177.9 579.5,177.8 579.7,176.9 580.5,174.3 581.3,171.2 582.0,169.2 582.1,168.7 582.9,166.7 583.7,165.6 584.5,163.6 585.3,165.1 586.1,166.8 586.9,168.0 587.0,167.7 587.7,166.4 588.5,164.8 589.3,161.6 590.1,161.3 590.8,160.1 590.9,161.1 591.7,163.3 592.5,164.5 593.2,166.1 594.1,167.5 594.9,170.1 595.7,171.7 596.5,172.7 597.0,174.6 597.3,173.0 598.1,170.6 598.9,168.0 599.5,166.2 599.7,165.9 600.5,162.3 601.3,160.1 602.0,158.8 602.1,159.3 602.9,163.0 603.7,164.6 604.5,169.7 605.3,170.4 606.1,174.0 606.9,176.3 607.0,175.8 607.7,174.9 608.5,172.7 609.3,170.7 609.5,170.4 610.1,168.1 610.9,166.1 611.7,163.7 612.0,164.1 612.5,164.4 613.3,164.1 614.1,164.4 614.5,165.2 614.9,164.1 615.7,163.6 616.5,162.5 617.0,160.8 617.3,160.3 618.1,157.0 618.9,154.7 619.0,153.0 619.7,157.5 620.5,160.2 621.3,163.7 622.0,166.4 622.1,165.9 622.9,169.8 623.7,173.0 624.5,175.7 625.3,174.8 626.1,173.8 626.9,173.3 627.0,174.3 627.7,173.6 628.5,173.6 629.3,173.0 630.1,172.7 630.9,173.1 631.7,172.1 632.0,173.2 632.5,173.1 633.3,173.5 634.1,173.5 634.9,174.1 635.7,173.6 636.5,174.1 637.0,174.1 637.3,174.1 638.1,173.7 638.9,172.9 639.7,173.9 640.5,174.0 641.3,173.1 642.0,173.2 642.1,172.5 642.9,172.6 643.7,174.8 644.5,174.4 645.3,174.5 645.8,175.6" fill="none" stroke="#3ce8e8" stroke-width="0.6" stroke-linejoin="round"/>
<path d="M504.5,214.4 504.8,210.5 505.1,209.5 505.4,207.8 505.7,206.6 506.0,197.2 506.3,198.6 506.6,205.4 506.9,202.2 507.2,205.0 507.5,203.8 507.8,205.8 508.1,200.2 508.4,202.0 508.7,202.3 509.0,203.5 509.3,208.4 509.5,203.9 509.6,206.1 509.9,205.7 510.2,206.9 510.5,208.4 510.8,204.6 511.1,201.5 511.4,202.3 511.7,204.6 512.0,208.4 512.3,202.9 512.6,205.9 512.9,204.6 513.2,201.7 513.5,201.4 513.8,202.1 514.1,204.7 514.4,207.4 514.7,204.9 515.0,210.8 515.3,206.0 515.6,205.7 515.9,203.6 516.2,207.2 516.5,208.3 516.8,209.4 517.0,207.8 517.1,207.1 517.4,206.5 517.7,209.5 518.0,204.2 518.3,203.0 518.6,203.6 518.9,205.0 519.2,209.2 519.5,207.5 519.8,208.3 520.1,207.7 520.4,205.1 520.7,208.9 521.0,202.7 521.3,204.9 521.6,204.2 521.9,203.0 522.0,204.1 522.2,206.0 522.5,206.6 522.8,208.5 523.1,202.7 523.4,204.2 523.7,206.6 524.0,204.8 524.3,206.9 524.6,201.3 524.9,206.2 525.2,204.8 525.5,202.0 525.8,206.5 526.1,203.8 526.4,200.9 526.7,202.9 527.0,201.6 527.3,208.8 527.6,199.8 527.9,205.4 528.2,201.6 528.5,206.1 528.8,203.1 529.1,201.1 529.4,203.6 529.7,206.3 530.0,208.0 530.3,208.6 530.6,209.2 530.9,204.9 531.2,205.8 531.5,205.6 531.8,198.5 532.0,203.7 532.1,204.5 532.4,205.5 532.7,202.7 533.0,203.9 533.3,203.5 533.6,206.6 533.9,206.0 534.2,206.7 534.5,206.4 534.8,207.2 535.1,202.6 535.4,204.6 535.7,205.8 536.0,210.0 536.3,202.3 536.6,205.8 536.9,202.2 537.0,209.3 537.2,206.3 537.5,207.0 537.8,207.1 538.1,206.8 538.4,207.8 538.7,207.9 539.0,208.3 539.3,202.7 539.6,203.0 539.9,206.3 540.2,206.4 540.5,207.6 540.8,203.5 541.1,205.4 541.4,204.3 541.7,206.5 542.0,204.3 542.3,209.6 542.6,205.4 542.9,204.9 543.2,204.7 543.5,204.4 543.8,202.4 544.1,200.5 544.4,204.0 544.7,203.3 545.0,201.9 545.3,204.1 545.6,204.9 545.9,202.7 546.2,208.1 546.5,200.7 546.8,198.9 547.1,198.3 547.4,206.0 547.7,204.9 548.0,204.8 548.3,201.1 548.6,208.3 548.9,209.2 549.2,203.4 549.5,200.1 549.8,205.8 550.1,202.3 550.4,204.2 550.7,208.2 551.0,204.0 551.3,206.6 551.6,206.1 551.9,206.6 552.2,206.8 552.5,205.3 552.8,204.6 553.1,204.7 553.4,201.3 553.7,207.3 554.0,203.9 554.3,204.3 554.5,202.6 554.6,205.4 554.9,204.0 555.2,206.4 555.5,204.2 555.8,207.1 556.1,205.4 556.4,206.1 556.7,202.7 557.0,205.7 557.3,202.0 557.6,204.8 557.9,200.6 558.2,205.0 558.5,205.0 558.8,206.9 559.1,205.5 559.4,206.6 559.5,206.5 559.7,203.2 560.0,204.1 560.3,199.6 560.6,207.2 560.9,209.4 561.2,202.6 561.5,205.6 561.8,205.2 562.1,203.1 562.4,203.0 562.7,206.6 563.0,202.7 563.3,204.6 563.6,202.5 563.9,201.6 564.2,206.2 564.5,200.9 564.8,202.4 565.1,202.2 565.4,200.3 565.7,205.5 566.0,196.7 566.2,198.1 566.6,196.4 566.9,200.5 567.2,195.8 567.5,200.0 567.8,200.3 568.1,205.8 568.2,203.6 568.4,207.6 568.7,198.0 569.0,208.8 569.3,202.8 569.6,204.0 569.9,206.6 570.2,205.9 570.5,205.2 570.8,202.6 571.1,203.1 571.4,205.3 571.7,201.8 572.0,203.8 572.3,205.1 572.6,205.1 572.9,202.9 573.2,205.0 573.5,204.2 573.8,203.9 574.1,207.0 574.4,205.6 574.7,207.4 575.0,210.2 575.3,206.1 575.6,209.8 575.8,207.2 575.9,206.4 576.2,209.6 576.5,208.8 576.8,208.5 577.1,211.5 577.4,209.0 577.7,210.9 578.0,212.7 578.3,209.9 578.6,211.8 578.9,211.7 579.2,209.9 579.5,213.0 579.8,209.8 580.1,207.9 580.4,210.1 580.7,208.7 581.0,209.2 581.3,208.5 581.6,209.4 581.9,209.5 582.0,207.6 582.2,205.9 582.5,205.6 582.8,200.2 583.1,204.3 583.4,203.3 583.7,201.6 584.0,198.6 584.3,200.5 584.5,201.1 584.6,195.7 584.9,195.6 585.2,197.0 585.5,194.1 585.8,199.7 586.1,200.9 586.4,200.9 586.7,200.7 587.0,201.9 587.3,202.2 587.6,197.4 587.9,196.3 588.2,198.6 588.5,200.2 588.8,200.1 589.1,194.8 589.4,194.3 589.7,198.5 590.0,196.5 590.3,193.9 590.6,192.2 590.8,192.3 590.9,190.8 591.2,199.5 591.5,193.2 591.8,193.0 592.1,195.3 592.4,198.6 592.7,196.4 593.0,193.6 593.2,199.8 593.6,197.8 593.9,201.3 594.2,198.5 594.5,201.4 594.8,204.7 595.1,204.4 595.4,206.2 595.7,204.2 596.0,206.1 596.3,206.0 596.6,205.3 596.9,209.9 597.0,208.2 597.2,204.3 597.5,204.6 597.8,208.5 598.1,206.2 598.4,203.5 598.7,206.0 599.0,202.2 599.3,201.9 599.5,202.8 599.6,203.1 599.9,204.4 600.2,202.1 600.5,198.4 600.8,195.6 601.1,197.2 601.4,195.5 601.7,198.5 602.0,195.0 602.3,192.8 602.6,192.9 602.9,198.3 603.2,200.5 603.5,199.0 603.8,197.3 604.1,200.2 604.4,202.6 604.5,201.5 604.7,201.0 605.0,202.3 605.3,208.4 605.6,204.2 605.9,209.6 606.2,206.3 606.5,206.2 606.8,209.0 607.0,213.9 607.1,215.6 607.4,209.9 607.7,206.1 608.0,214.6 608.3,211.1 608.6,212.0 608.9,205.0 609.2,208.8 609.5,203.5 609.8,208.0 610.1,202.9 610.4,201.3 610.7,199.4 611.0,203.4 611.3,198.5 611.6,197.5 611.9,198.7 612.0,198.6 612.2,197.3 612.5,203.4 612.8,202.5 613.1,202.1 613.4,195.5 613.7,196.5 614.0,197.2 614.3,200.8 614.5,201.5 614.6,203.5 614.9,199.8 615.2,204.7 615.5,199.2 615.8,202.2 616.1,197.1 616.4,195.2 616.7,197.7 617.0,197.6 617.3,196.2 617.6,195.9 617.9,195.2 618.2,193.6 618.5,191.3 618.8,193.9 619.0,189.6 619.1,190.9 619.4,191.6 619.7,189.5 620.0,194.7 620.3,193.6 620.6,195.9 620.9,197.0 621.2,199.1 621.5,202.6 621.8,202.7 622.0,202.0 622.1,204.4 622.4,199.7 622.7,205.4 623.0,208.1 623.3,203.1 623.6,208.1 623.9,205.0 624.2,206.7 624.5,208.5 624.8,208.4 625.1,207.5 625.4,204.6 625.7,207.1 626.0,210.0 626.3,208.1 626.6,209.0 626.9,203.9 627.0,206.6 627.2,211.6 627.5,211.2 627.8,207.6 628.1,204.3 628.4,206.9 628.7,210.3 629.0,207.3 629.3,209.1 629.6,203.9 629.9,207.4 630.2,208.0 630.5,205.7 630.8,205.2 631.1,209.7 631.4,206.6 631.7,206.3 632.0,206.2 632.3,206.9 632.6,203.8 632.9,205.2 633.2,209.4 633.5,204.8 633.8,207.8 634.1,206.2 634.4,205.6 634.7,207.7 635.0,207.6 635.3,206.9 635.6,204.0 635.9,205.0 636.2,206.7 636.5,203.8 636.8,210.1 637.0,201.7 637.1,203.2 637.4,203.3 637.7,207.2 638.0,204.9 638.3,207.9 638.6,205.1 638.9,204.1 639.2,203.9 639.5,205.9 639.8,209.0 640.1,204.7 640.4,206.7 640.7,204.8 641.0,205.9 641.3,207.9 641.6,208.8 641.9,204.9 642.0,205.1 642.2,209.8 642.5,203.5 642.8,207.8 643.1,205.2 643.4,208.8 643.7,211.0 644.0,205.7 644.3,208.4 644.6,204.9 644.9,208.4 645.2,209.0 645.5,207.9 645.8,209.5" fill="none" stroke="#4040ee" stroke-width="0.55" stroke-linejoin="round"/>
<path d="M504.5,210.7 505.3,202.7 505.8,198.7 506.1,198.9 506.9,200.4 507.5,201.5 507.7,201.5 508.5,202.3 509.3,202.7 509.5,203.8 510.1,204.2 510.9,205.3 511.7,204.3 512.5,204.4 513.2,205.3 514.1,205.6 514.9,206.6 515.7,206.6 516.5,206.5 517.0,206.6 517.3,206.7 518.1,206.5 518.9,206.6 519.7,204.5 520.5,205.4 521.3,205.8 522.0,204.7 522.1,204.4 522.9,205.4 523.7,204.4 524.5,204.4 525.3,204.6 526.1,204.9 526.9,203.3 527.0,204.2 527.7,203.9 528.5,203.8 529.3,204.6 530.1,204.4 530.9,204.8 531.7,206.3 532.0,205.4 532.5,205.5 533.3,206.1 534.1,204.7 534.9,206.6 535.7,206.3 536.5,206.3 537.0,205.9 537.3,206.7 538.1,205.8 538.9,205.5 539.7,205.0 540.5,206.2 541.3,205.0 542.0,205.0 542.1,205.4 542.9,204.8 543.7,204.6 544.5,202.9 545.3,202.4 546.1,201.6 546.5,201.0 546.9,201.4 547.7,202.1 548.5,203.5 549.3,204.4 549.5,204.4 550.1,203.2 550.9,203.4 551.7,205.0 552.5,204.0 553.3,205.3 554.1,204.6 554.5,205.0 554.9,206.5 555.7,205.5 556.5,205.0 557.3,206.3 558.1,205.0 558.9,204.8 559.5,205.5 559.7,205.8 560.5,205.4 561.3,205.7 562.1,205.2 562.9,205.0 563.7,204.4 564.5,203.9 565.3,200.8 566.1,198.3 566.2,197.5 566.9,200.0 567.7,202.3 568.2,204.2 568.5,206.4 569.3,205.6 570.1,204.7 570.9,204.9 571.7,204.6 572.0,204.0 572.5,203.8 573.3,205.6 574.1,205.8 574.9,205.4 575.7,206.9 576.5,207.9 577.3,210.6 578.1,210.0 578.9,212.9 579.5,213.4 579.7,213.3 580.5,210.0 581.3,208.6 582.0,206.4 582.1,205.3 582.9,203.9 583.7,201.5 584.5,198.5 585.3,200.3 586.1,200.5 586.9,201.4 587.0,202.0 587.7,199.0 588.5,197.9 589.3,196.8 590.1,193.5 590.8,193.4 590.9,193.2 591.7,194.1 592.5,196.8 593.2,197.4 594.1,199.7 594.9,201.7 595.7,204.6 596.5,206.4 597.0,207.9 597.3,207.2 598.1,204.8 598.9,202.9 599.5,201.3 599.7,201.0 600.5,198.1 601.3,194.7 602.0,192.5 602.1,192.6 602.9,196.4 603.7,200.2 604.5,202.8 605.3,206.7 606.1,208.3 606.9,212.6 607.0,212.7 607.7,210.1 608.5,208.1 609.3,205.8 609.5,205.1 610.1,203.5 610.9,203.6 611.7,199.0 612.0,199.2 612.5,199.2 613.3,200.4 614.1,201.1 614.5,201.6 614.9,200.5 615.7,199.1 616.5,197.3 617.0,196.5 617.3,195.4 618.1,193.1 618.9,192.5 619.0,190.7 619.7,191.9 620.5,195.8 621.3,198.2 622.0,202.2 622.1,201.6 622.9,205.2 623.7,207.1 624.5,208.5 625.3,208.6 626.1,206.9 626.9,208.5 627.0,208.3 627.7,207.6 628.5,206.7 629.3,206.7 630.1,207.0 630.9,205.7 631.7,206.6 632.0,206.9 632.5,205.8 633.3,205.5 634.1,206.7 634.9,205.7 635.7,205.4 636.5,205.5 637.0,204.5 637.3,205.3 638.1,205.8 638.9,206.5 639.7,206.2 640.5,205.1 641.3,206.9 642.0,206.1 642.1,206.5 642.9,207.4 643.7,207.5 644.5,207.0 645.3,206.8 645.8,208.3" fill="none" stroke="#4040ee" stroke-width="0.6" stroke-linejoin="round"/>
<path d="M504.5,248.5 504.8,245.5 505.1,245.8 505.4,244.9 505.7,236.7 506.0,233.1 506.3,233.9 506.6,238.6 506.9,234.4 507.2,236.9 507.5,229.2 507.8,235.5 508.1,236.7 508.4,236.2 508.7,236.8 509.0,236.1 509.3,234.0 509.5,245.1 509.6,238.9 509.9,242.0 510.2,246.1 510.5,240.0 510.8,242.9 511.1,246.0 511.4,243.0 511.7,239.9 512.0,238.6 512.3,240.2 512.6,244.0 512.9,249.3 513.2,239.6 513.5,241.5 513.8,244.7 514.1,240.6 514.4,244.7 514.7,244.7 515.0,240.9 515.3,242.8 515.6,243.8 515.9,239.1 516.2,241.2 516.5,240.4 516.8,239.9 517.0,244.6 517.1,241.3 517.4,242.2 517.7,243.7 518.0,244.5 518.3,243.0 518.6,243.7 518.9,245.6 519.2,243.0 519.5,244.8 519.8,242.9 520.1,244.3 520.4,243.3 520.7,245.2 521.0,243.0 521.3,242.7 521.6,239.8 521.9,239.5 522.0,246.8 522.2,244.5 522.5,239.5 522.8,246.0 523.1,240.3 523.4,242.9 523.7,244.8 524.0,246.2 524.3,245.6 524.6,243.0 524.9,242.5 525.2,241.8 525.5,240.9 525.8,241.0 526.1,239.6 526.4,242.8 526.7,241.9 527.0,239.9 527.3,246.0 527.6,237.5 527.9,242.3 528.2,241.3 528.5,240.5 528.8,237.4 529.1,242.8 529.4,243.0 529.7,242.7 530.0,243.1 530.3,241.1 530.6,243.0 530.9,240.5 531.2,240.9 531.5,241.2 531.8,242.2 532.0,240.8 532.1,244.3 532.4,242.0 532.7,240.6 533.0,239.7 533.3,238.5 533.6,244.2 533.9,245.0 534.2,242.8 534.5,242.5 534.8,240.1 535.1,243.0 535.4,241.0 535.7,243.0 536.0,240.5 536.3,246.9 536.6,242.4 536.9,241.1 537.0,243.5 537.2,240.9 537.5,241.6 537.8,241.8 538.1,240.9 538.4,243.9 538.7,243.8 539.0,243.9 539.3,242.4 539.6,245.0 539.9,243.9 540.2,242.9 540.5,243.5 540.8,242.2 541.1,243.2 541.4,238.3 541.7,239.9 542.0,245.6 542.3,240.6 542.6,239.5 542.9,240.0 543.2,239.8 543.5,240.8 543.8,239.8 544.1,236.3 544.4,240.4 544.7,241.1 545.0,240.8 545.3,239.5 545.6,239.6 545.8,237.3 545.9,236.9 546.2,238.1 546.5,236.8 546.8,238.6 547.1,239.9 547.4,242.1 547.7,242.3 548.0,245.1 548.2,245.4 548.6,242.0 548.9,242.5 549.2,240.1 549.5,245.1 549.8,244.4 550.1,244.1 550.4,241.9 550.7,240.1 551.0,240.6 551.3,242.8 551.6,242.3 551.9,242.7 552.0,239.5 552.2,241.6 552.5,243.6 552.8,235.9 553.1,238.9 553.4,239.5 553.7,240.7 554.0,238.6 554.3,241.5 554.6,242.7 554.9,240.3 555.2,239.7 555.5,237.4 555.8,239.7 556.1,241.4 556.4,238.5 556.7,237.2 557.0,239.2 557.3,237.8 557.6,238.1 557.9,241.3 558.2,239.7 558.5,240.8 558.8,234.8 559.1,240.5 559.4,237.5 559.7,238.2 560.0,237.6 560.3,239.3 560.6,241.1 560.9,241.9 561.2,239.1 561.5,239.4 561.8,242.8 562.0,237.0 562.1,241.0 562.4,240.6 562.7,241.1 563.0,241.5 563.3,239.9 563.6,241.7 563.9,239.0 564.2,240.2 564.5,236.1 564.8,241.6 565.0,239.6 565.1,234.3 565.4,235.5 565.7,227.3 566.0,232.9 566.3,237.6 566.5,240.0 566.6,242.1 566.9,238.0 567.2,240.3 567.5,244.1 567.8,241.1 568.1,241.0 568.4,237.9 568.7,240.3 569.0,240.3 569.3,240.7 569.6,240.4 569.9,240.7 570.2,240.3 570.5,238.8 570.8,239.7 571.1,241.1 571.4,240.1 571.7,242.0 572.0,243.7 572.3,241.5 572.6,240.2 572.9,239.4 573.2,244.6 573.5,241.3 573.8,240.1 574.1,241.8 574.4,242.7 574.7,243.2 575.0,239.9 575.3,243.3 575.6,242.8 575.8,242.4 575.9,243.3 576.2,242.3 576.5,246.9 576.8,245.1 577.1,245.0 577.4,243.7 577.7,246.4 578.0,244.3 578.3,242.2 578.6,242.4 578.9,244.4 579.2,245.2 579.5,245.5 579.8,245.9 580.1,243.9 580.4,243.0 580.7,240.1 581.0,240.1 581.3,242.9 581.6,241.7 581.9,241.2 582.0,241.8 582.2,236.5 582.5,236.5 582.8,236.2 583.1,241.7 583.4,236.7 583.7,238.0 584.0,241.2 584.3,234.5 584.5,235.5 584.6,237.7 584.9,238.4 585.2,239.3 585.5,235.1 585.8,238.0 586.1,234.4 586.4,230.8 586.7,235.8 587.0,235.5 587.3,238.0 587.6,237.5 587.9,233.3 588.2,237.0 588.5,238.1 588.8,235.0 589.1,235.3 589.4,237.8 589.7,234.6 590.0,237.3 590.3,234.1 590.6,234.9 590.8,233.8 590.9,235.1 591.2,234.7 591.5,231.7 591.8,234.5 592.1,234.8 592.4,233.6 592.7,233.1 593.0,235.0 593.2,234.4 593.6,231.7 593.9,235.9 594.2,239.1 594.5,236.6 594.8,237.8 595.1,235.0 595.4,240.1 595.7,239.8 596.0,240.2 596.3,239.8 596.6,243.2 596.9,243.6 597.0,243.7 597.2,239.9 597.5,242.7 597.8,240.4 598.1,241.4 598.4,234.6 598.7,235.8 599.0,234.2 599.3,234.5 599.5,233.8 599.6,231.7 599.9,231.0 600.2,226.4 600.5,230.5 600.8,226.9 601.1,225.2 601.4,223.9 601.5,223.9 601.7,225.7 602.0,226.1 602.3,228.2 602.6,227.7 602.9,232.7 603.2,235.4 603.5,237.1 603.8,236.3 604.1,239.7 604.4,244.0 604.5,241.6 604.7,241.7 605.0,243.5 605.3,245.6 605.6,245.3 605.9,244.6 606.2,243.5 606.5,247.5 606.8,247.2 607.0,242.9 607.1,249.4 607.4,247.5 607.7,245.7 608.0,244.6 608.3,241.7 608.6,243.7 608.9,243.0 609.2,242.9 609.5,238.6 609.8,237.4 610.1,241.3 610.4,237.0 610.7,232.5 611.0,233.3 611.3,234.5 611.6,235.5 611.9,230.8 612.0,231.9 612.2,231.3 612.5,232.4 612.8,231.0 613.1,234.3 613.4,231.8 613.7,233.0 614.0,234.4 614.3,232.6 614.5,233.7 614.6,232.6 614.9,236.1 615.2,231.4 615.5,233.0 615.8,231.3 616.1,230.5 616.4,228.2 616.7,230.3 617.0,229.5 617.3,229.5 617.6,228.2 617.9,225.8 618.2,225.6 618.5,223.9 618.8,225.5 619.0,225.5 619.1,223.9 619.4,224.6 619.7,230.9 620.0,227.9 620.3,231.9 620.6,230.2 620.9,232.6 621.2,232.5 621.5,235.6 621.8,236.1 622.0,238.0 622.1,238.6 622.4,236.9 622.7,243.4 623.0,239.1 623.3,241.8 623.6,243.5 623.9,243.3 624.2,241.8 624.5,242.4 624.8,242.6 625.1,238.9 625.4,245.2 625.7,246.6 626.0,245.8 626.3,247.4 626.6,241.8 626.9,243.2 627.0,243.0 627.2,244.2 627.5,242.3 627.8,239.0 628.1,243.4 628.4,245.7 628.7,240.1 629.0,239.0 629.3,243.4 629.6,240.6 629.9,242.4 630.2,243.3 630.5,241.4 630.8,240.7 631.1,242.8 631.4,241.3 631.7,243.5 632.0,243.1 632.3,244.3 632.6,243.6 632.9,243.6 633.2,238.3 633.5,241.9 633.8,246.6 634.1,243.3 634.4,241.2 634.7,243.3 635.0,245.8 635.3,243.3 635.6,242.7 635.9,241.5 636.2,241.6 636.5,245.8 636.8,239.7 637.0,242.6 637.1,238.5 637.4,245.1 637.7,243.5 638.0,243.9 638.3,240.8 638.6,241.0 638.9,243.5 639.2,242.7 639.5,242.8 639.8,241.5 640.1,241.6 640.4,241.2 640.7,239.8 641.0,241.4 641.3,238.9 641.6,244.0 641.9,243.1 642.0,244.6 642.2,243.3 642.5,239.4 642.8,245.0 643.1,245.6 643.4,241.1 643.7,240.8 644.0,246.0 644.3,242.3 644.6,243.7 644.9,241.7 645.2,244.5 645.5,243.2 645.8,246.7" fill="none" stroke="#44e844" stroke-width="0.55" stroke-linejoin="round"/>
<path d="M504.5,245.0 505.3,239.7 505.8,236.1 506.1,235.7 506.9,235.1 507.5,235.2 507.7,235.4 508.5,236.5 509.3,238.9 509.5,239.3 510.1,239.7 510.9,240.7 511.7,239.8 512.5,240.5 513.2,241.7 514.1,241.5 514.9,242.2 515.7,242.6 516.5,241.6 517.0,243.6 517.3,243.5 518.1,242.0 518.9,242.4 519.7,243.2 520.5,242.5 521.3,243.0 522.0,242.4 522.1,243.4 522.9,242.1 523.7,242.5 524.5,242.0 525.3,241.6 526.1,242.3 526.9,242.1 527.0,242.3 527.7,241.2 528.5,242.6 529.3,241.4 530.1,241.3 530.9,241.3 531.7,241.8 532.0,241.2 532.5,241.3 533.3,241.9 534.1,241.6 534.9,241.4 535.7,241.6 536.5,241.8 537.0,242.1 537.3,242.6 538.1,241.9 538.9,242.1 539.7,241.8 540.5,242.0 541.3,241.3 542.0,240.9 542.1,239.9 542.9,239.9 543.7,239.4 544.5,238.6 545.3,236.7 545.8,236.6 546.1,237.6 546.9,240.0 547.7,243.0 548.2,244.4 548.5,244.4 549.3,242.2 550.1,241.2 550.9,241.2 551.7,240.0 552.0,240.1 552.5,240.1 553.3,240.3 554.1,240.3 554.9,239.3 555.7,239.5 556.5,239.4 557.0,239.8 557.3,239.2 558.1,238.4 558.9,239.5 559.7,239.1 560.5,238.7 561.3,239.9 562.0,239.2 562.1,239.5 562.9,239.2 563.7,239.4 564.5,239.6 565.0,239.7 565.3,235.7 565.8,228.7 566.1,233.4 566.5,240.8 566.9,241.1 567.7,241.1 568.5,241.1 569.3,241.1 570.1,241.2 570.9,241.0 571.7,241.2 572.0,241.8 572.5,241.5 573.3,242.3 574.1,241.8 574.9,242.9 575.7,242.4 576.5,242.8 577.3,243.5 578.1,245.1 578.9,245.3 579.5,244.4 579.7,245.5 580.5,243.0 581.3,240.8 582.0,241.2 582.1,240.0 582.9,239.0 583.7,238.8 584.5,238.4 585.3,236.6 586.1,237.4 586.9,236.1 587.0,235.8 587.7,236.1 588.5,236.0 589.3,235.4 590.1,234.9 590.8,235.1 590.9,235.7 591.7,234.5 592.5,235.0 593.2,233.7 594.1,236.0 594.9,238.0 595.7,239.4 596.5,242.4 597.0,243.1 597.3,241.7 598.1,238.4 598.9,235.1 599.5,233.1 599.7,232.5 600.5,228.5 601.3,224.9 601.5,223.8 602.1,227.2 602.9,233.0 603.7,237.1 604.5,243.3 605.3,244.1 606.1,244.7 606.9,246.5 607.0,245.8 607.7,244.0 608.5,240.0 609.3,240.4 609.5,239.0 610.1,237.0 610.9,235.8 611.7,233.2 612.0,232.3 612.5,233.0 613.3,233.9 614.1,234.4 614.5,234.2 614.9,233.2 615.7,232.1 616.5,230.8 617.0,230.4 617.3,229.1 618.1,226.3 618.9,224.6 619.0,223.6 619.7,226.4 620.5,231.4 621.3,234.9 622.0,236.8 622.1,237.8 622.9,239.8 623.7,242.6 624.5,243.9 625.3,244.0 626.1,242.6 626.9,242.9 627.0,244.0 627.7,243.4 628.5,243.2 629.3,243.4 630.1,242.7 630.9,243.1 631.7,243.0 632.0,242.7 632.5,242.8 633.3,243.4 634.1,242.9 634.9,242.2 635.7,242.6 636.5,243.5 637.0,241.6 637.3,241.9 638.1,241.9 638.9,243.2 639.7,242.2 640.5,242.4 641.3,242.1 642.0,242.7 642.1,243.1 642.9,242.8 643.7,242.9 644.5,243.1 645.3,244.4 645.8,244.7" fill="none" stroke="#44e844" stroke-width="0.6" stroke-linejoin="round"/>
<path d="M504.5,277.7 504.8,286.9 505.1,274.2 505.4,266.4 505.7,273.2 506.0,271.7 506.3,276.7 506.6,274.6 506.9,265.6 507.0,273.4 507.2,272.8 507.5,269.3 507.8,279.8 508.1,271.9 508.2,269.1 508.4,270.6 508.7,273.9 509.0,276.6 509.3,274.9 509.6,274.4 509.9,277.5 510.0,273.6 510.2,276.1 510.5,275.7 510.8,276.0 511.1,283.1 511.4,282.2 511.7,277.7 512.0,272.7 512.3,280.3 512.6,277.7 512.9,276.0 513.2,276.5 513.5,278.7 513.8,273.7 514.1,276.0 514.4,280.1 514.7,277.4 515.0,277.1 515.3,276.4 515.6,281.8 515.9,277.2 516.2,279.0 516.5,280.5 516.8,278.2 517.0,277.5 517.1,283.7 517.4,280.5 517.7,280.9 518.0,277.8 518.3,284.6 518.6,280.1 518.9,276.6 519.2,275.4 519.5,281.0 519.8,276.4 520.1,281.3 520.4,275.4 520.7,277.9 521.0,281.8 521.3,277.8 521.6,279.9 521.9,278.3 522.0,280.6 522.2,278.5 522.5,278.5 522.8,280.5 523.1,278.1 523.4,279.2 523.7,283.2 524.0,278.1 524.3,280.7 524.6,275.6 524.9,276.3 525.2,277.7 525.5,279.6 525.8,279.8 526.1,278.7 526.4,276.7 526.7,278.0 527.0,277.2 527.3,280.9 527.6,279.0 527.9,278.6 528.2,278.4 528.5,277.5 528.8,278.4 529.1,281.6 529.4,275.1 529.7,278.5 530.0,278.8 530.3,275.3 530.6,279.4 530.9,279.1 531.2,274.8 531.5,279.4 531.8,276.9 532.0,276.3 532.1,275.7 532.4,277.7 532.7,280.1 533.0,276.5 533.3,280.7 533.6,282.0 533.9,280.3 534.2,276.5 534.5,279.1 534.8,277.0 535.1,275.3 535.4,278.6 535.7,274.2 536.0,278.2 536.3,276.3 536.6,275.6 536.9,277.9 537.0,277.3 537.2,280.7 537.5,280.3 537.8,281.9 538.1,278.1 538.4,276.9 538.7,277.6 539.0,280.1 539.3,278.3 539.6,280.8 539.9,278.1 540.2,277.5 540.5,280.7 540.8,279.4 541.1,279.1 541.4,277.6 541.7,277.4 542.0,278.4 542.3,276.3 542.6,277.5 542.9,276.1 543.2,278.5 543.5,275.8 543.8,274.6 544.1,276.9 544.4,276.0 544.7,276.5 545.0,275.0 545.3,282.3 545.6,277.0 545.9,280.5 546.2,278.3 546.5,282.1 546.8,275.6 547.0,279.5 547.1,275.7 547.4,277.6 547.7,277.0 548.0,274.8 548.3,274.6 548.6,277.0 548.9,277.9 549.2,280.2 549.5,270.7 549.8,277.7 550.1,276.8 550.4,275.2 550.7,276.3 551.0,278.2 551.3,275.8 551.6,276.6 551.9,276.2 552.0,276.5 552.2,281.5 552.5,280.7 552.8,278.7 553.1,273.2 553.4,280.0 553.7,276.4 554.0,277.8 554.3,275.7 554.6,278.3 554.9,275.5 555.2,279.5 555.5,278.3 555.8,276.2 556.1,277.2 556.4,276.0 556.7,277.6 557.0,277.6 557.3,277.1 557.6,276.1 557.9,277.6 558.2,277.0 558.5,277.3 558.8,275.9 559.1,280.2 559.4,276.3 559.7,279.7 560.0,277.4 560.3,278.8 560.6,273.4 560.9,280.8 561.2,274.0 561.5,276.5 561.8,276.2 562.0,278.9 562.1,278.1 562.4,274.6 562.7,277.6 563.0,277.9 563.3,275.4 563.6,276.1 563.9,276.5 564.2,276.9 564.5,277.9 564.8,278.1 565.0,275.8 565.1,275.4 565.4,270.9 565.7,265.7 566.0,266.1 566.3,271.2 566.5,275.0 566.6,275.9 566.9,278.5 567.2,275.4 567.5,281.6 567.8,275.0 568.1,277.3 568.4,277.2 568.7,275.2 569.0,279.1 569.3,277.9 569.6,276.5 569.9,276.6 570.2,275.0 570.5,279.4 570.8,277.7 571.1,275.9 571.4,279.1 571.7,271.8 572.0,278.3 572.3,278.8 572.6,277.9 572.9,279.1 573.2,280.1 573.5,280.5 573.8,277.4 574.1,280.7 574.4,278.0 574.7,278.0 575.0,279.9 575.3,278.2 575.6,280.4 575.8,280.1 575.9,280.5 576.2,278.0 576.5,280.8 576.8,282.4 577.1,283.3 577.4,285.4 577.7,284.2 578.0,279.8 578.2,282.4 578.6,282.1 578.9,278.9 579.2,279.9 579.5,278.0 579.8,278.7 580.1,282.1 580.4,278.6 580.7,276.2 581.0,274.5 581.3,275.6 581.6,279.9 581.9,274.0 582.2,273.2 582.5,278.4 582.8,273.6 583.1,271.1 583.2,271.7 583.4,269.6 583.7,273.1 584.0,270.6 584.3,268.2 584.6,267.9 584.9,268.7 585.2,267.8 585.5,270.3 585.8,265.4 586.1,271.4 586.4,270.5 586.7,264.7 587.0,266.2 587.3,268.5 587.6,269.8 587.9,270.5 588.2,268.3 588.5,268.6 588.8,265.9 589.1,268.6 589.4,265.9 589.5,266.9 589.7,266.0 590.0,267.7 590.3,270.0 590.6,267.7 590.9,264.6 591.2,268.2 591.5,266.2 591.8,262.8 592.0,264.1 592.1,267.1 592.4,265.1 592.7,268.9 593.0,269.8 593.3,269.9 593.6,271.5 593.9,267.8 594.2,273.5 594.5,266.5 594.8,271.6 595.1,271.6 595.4,269.9 595.7,268.9 596.0,271.5 596.3,273.6 596.6,271.0 596.9,273.8 597.2,274.0 597.5,272.9 597.8,272.7 598.1,277.0 598.2,273.0 598.4,279.1 598.7,272.6 599.0,272.8 599.3,272.5 599.6,274.1 599.9,273.7 600.2,271.5 600.5,272.3 600.8,270.9 601.1,265.9 601.4,268.5 601.7,267.5 602.0,262.2 602.3,267.7 602.6,264.9 602.9,266.5 603.2,267.0 603.5,268.7 603.8,270.9 604.1,273.9 604.4,277.1 604.5,274.2 604.7,272.2 605.0,277.2 605.3,273.9 605.6,279.0 605.9,277.5 606.2,278.7 606.5,278.3 606.8,283.8 607.0,283.1 607.1,282.4 607.4,278.5 607.7,279.6 608.0,278.7 608.3,281.4 608.6,281.1 608.9,279.3 609.2,279.9 609.5,277.8 609.8,274.6 610.1,275.1 610.4,271.2 610.7,274.8 611.0,274.4 611.3,270.4 611.6,273.7 611.9,270.5 612.0,267.2 612.2,270.6 612.5,272.1 612.8,269.5 613.1,271.1 613.4,271.9 613.7,270.4 614.0,270.2 614.3,268.5 614.5,271.5 614.6,271.1 614.9,273.6 615.2,271.1 615.5,269.5 615.8,267.3 616.1,264.5 616.4,267.8 616.7,267.6 617.0,269.1 617.3,266.6 617.6,265.4 617.9,266.4 618.2,263.3 618.5,262.0 618.8,260.5 619.0,259.9 619.1,259.3 619.4,264.0 619.7,262.7 620.0,265.1 620.3,268.1 620.6,266.8 620.9,267.5 621.2,271.2 621.5,273.9 621.8,276.2 622.0,277.2 622.1,277.2 622.4,274.4 622.7,274.9 623.0,277.1 623.3,276.1 623.6,275.4 623.9,276.8 624.2,283.7 624.5,279.8 624.8,280.0 625.1,276.8 625.4,278.1 625.7,278.7 626.0,279.4 626.3,280.3 626.6,276.5 626.9,279.5 627.0,281.1 627.2,281.3 627.5,273.8 627.8,281.2 628.1,278.5 628.4,277.7 628.7,281.5 629.0,281.7 629.3,277.9 629.6,278.6 629.9,277.3 630.2,277.5 630.5,277.9 630.8,275.3 631.1,278.0 631.4,281.0 631.7,276.9 632.0,277.3 632.3,277.7 632.6,277.8 632.9,278.0 633.2,279.0 633.5,279.3 633.8,278.5 634.1,278.6 634.4,279.3 634.7,280.0 635.0,277.1 635.3,275.3 635.6,279.8 635.9,275.7 636.2,276.2 636.5,278.7 636.8,276.2 637.0,277.2 637.1,281.5 637.4,278.2 637.7,280.1 638.0,278.7 638.3,275.2 638.6,280.0 638.9,279.2 639.2,274.7 639.5,276.8 639.8,277.5 640.1,281.2 640.4,277.7 640.7,277.9 641.0,279.3 641.3,278.2 641.6,277.3 641.9,278.3 642.0,278.3 642.2,279.1 642.5,277.4 642.8,278.5 643.1,279.8 643.4,276.7 643.7,278.7 644.0,282.2 644.3,274.4 644.6,281.3 644.9,277.7 645.2,281.0 645.5,281.4 645.8,278.6" fill="none" stroke="#ee4444" stroke-width="0.55" stroke-linejoin="round"/>
<path d="M504.5,279.3 505.3,273.5 505.8,270.9 506.1,271.6 506.9,272.4 507.0,273.4 507.7,271.2 508.2,271.6 508.5,271.3 509.3,273.6 510.0,276.3 510.1,276.0 510.9,276.7 511.7,277.2 512.5,276.7 513.2,277.4 514.1,278.4 514.9,277.8 515.7,279.4 516.5,278.7 517.0,278.5 517.3,279.9 518.1,278.4 518.9,279.3 519.7,279.4 520.5,279.4 521.3,278.5 522.0,277.8 522.1,278.9 522.9,278.3 523.7,277.4 524.5,278.1 525.3,277.4 526.1,277.8 526.9,277.5 527.0,278.0 527.7,277.9 528.5,277.2 529.3,278.2 530.1,278.2 530.9,278.3 531.7,278.0 532.0,277.8 532.5,278.1 533.3,277.9 534.1,278.5 534.9,278.1 535.7,279.0 536.5,278.4 537.0,277.9 537.3,278.2 538.1,279.4 538.9,278.9 539.7,277.6 540.5,278.1 541.3,277.9 542.0,279.1 542.1,278.0 542.9,277.7 543.7,277.7 544.5,276.6 545.3,277.2 546.1,277.0 546.9,276.9 547.0,276.3 547.7,277.3 548.5,277.2 549.3,276.7 550.1,277.1 550.9,277.1 551.7,277.2 552.0,276.5 552.5,275.6 553.3,275.8 554.1,277.0 554.9,276.6 555.7,277.6 556.5,276.9 557.0,277.7 557.3,278.2 558.1,277.6 558.9,276.7 559.7,277.0 560.5,277.7 561.3,277.1 562.0,276.0 562.1,277.3 562.9,276.6 563.7,277.6 564.5,277.5 565.0,277.7 565.3,272.4 565.8,264.6 566.1,270.0 566.5,276.1 566.9,276.9 567.7,276.7 568.5,277.0 569.3,277.4 570.1,276.3 570.9,277.4 571.7,278.2 572.0,278.4 572.5,278.4 573.3,279.6 574.1,278.4 574.9,278.7 575.7,278.9 576.5,280.1 577.3,281.2 578.1,282.1 578.2,282.3 578.9,281.4 579.7,279.5 580.5,279.4 580.8,278.0 581.3,276.4 582.1,274.4 582.9,272.8 583.2,270.7 583.7,270.8 584.5,269.8 585.3,270.3 585.8,269.2 586.1,269.2 586.9,268.6 587.7,268.2 588.5,268.3 589.3,266.9 589.5,268.4 590.1,266.4 590.9,266.1 591.7,266.1 592.0,264.8 592.5,266.5 593.3,268.1 594.1,268.9 594.5,270.7 594.9,269.8 595.7,271.8 596.5,272.5 597.3,273.9 598.1,275.2 598.2,275.0 598.9,274.5 599.7,271.6 600.5,269.5 601.3,266.6 602.0,263.9 602.1,264.3 602.9,268.0 603.7,270.1 604.5,273.6 605.3,276.3 606.1,280.1 606.9,282.0 607.0,283.0 607.7,281.0 608.5,278.7 609.3,276.9 609.5,276.6 610.1,275.3 610.9,273.3 611.7,270.1 612.0,270.1 612.5,271.3 613.3,272.0 614.1,271.7 614.5,272.1 614.9,271.4 615.7,269.1 616.5,268.0 617.0,267.6 617.3,266.1 618.1,263.0 618.9,259.1 619.0,257.9 619.7,261.9 620.5,265.8 621.3,271.8 622.0,274.5 622.1,274.1 622.9,275.5 623.7,277.9 624.5,278.7 625.3,277.9 626.1,278.4 626.9,278.9 627.0,278.8 627.7,278.6 628.5,278.0 629.3,278.4 630.1,278.9 630.9,278.6 631.7,278.8 632.0,277.9 632.5,278.3 633.3,278.0 634.1,278.3 634.9,278.8 635.7,277.6 636.5,277.9 637.0,276.9 637.3,278.0 638.1,277.7 638.9,278.0 639.7,278.0 640.5,278.3 641.3,278.2 642.0,277.3 642.1,277.9 642.9,278.5 643.7,279.5 644.5,278.9 645.3,280.0 645.8,280.3" fill="none" stroke="#ee4444" stroke-width="0.6" stroke-linejoin="round"/>
<g stroke="#2a2a2a" stroke-width="0.9" fill="none">
<rect x="484.5" y="11.1" width="182.1" height="277.8"/>
<line x1="484.5" y1="45.82" x2="666.6" y2="45.82"/>
<line x1="484.5" y1="80.55" x2="666.6" y2="80.55"/>
<line x1="484.5" y1="115.27" x2="666.6" y2="115.27"/>
<line x1="484.5" y1="150" x2="666.6" y2="150"/>
<line x1="484.5" y1="184.72" x2="666.6" y2="184.72"/>
<line x1="484.5" y1="219.45" x2="666.6" y2="219.45"/>
<line x1="484.5" y1="254.17" x2="666.6" y2="254.17"/>
</g>
<path d="M524.6,45.82v-3M565.2,45.82v-3M605.8,45.82v-3M646.4,45.82v-3M504.3,45.82v-1.5M544.9,45.82v-1.5M585.5,45.82v-1.5M626.1,45.82v-1.5M524.6,80.55v-3M565.2,80.55v-3M605.8,80.55v-3M646.4,80.55v-3M504.3,80.55v-1.5M544.9,80.55v-1.5M585.5,80.55v-1.5M626.1,80.55v-1.5M524.6,115.27v-3M565.2,115.27v-3M605.8,115.27v-3M646.4,115.27v-3M504.3,115.27v-1.5M544.9,115.27v-1.5M585.5,115.27v-1.5M626.1,115.27v-1.5M524.6,150v-3M565.2,150v-3M605.8,150v-3M646.4,150v-3M504.3,150v-1.5M544.9,150v-1.5M585.5,150v-1.5M626.1,150v-1.5M524.6,184.72v-3M565.2,184.72v-3M605.8,184.72v-3M646.4,184.72v-3M504.3,184.72v-1.5M544.9,184.72v-1.5M585.5,184.72v-1.5M626.1,184.72v-1.5M524.6,219.45v-3M565.2,219.45v-3M605.8,219.45v-3M646.4,219.45v-3M504.3,219.45v-1.5M544.9,219.45v-1.5M585.5,219.45v-1.5M626.1,219.45v-1.5M524.6,254.17v-3M565.2,254.17v-3M605.8,254.17v-3M646.4,254.17v-3M504.3,254.17v-1.5M544.9,254.17v-1.5M585.5,254.17v-1.5M626.1,254.17v-1.5M524.6,288.9v-3M565.2,288.9v-3M605.8,288.9v-3M646.4,288.9v-3M504.3,288.9v-1.5M544.9,288.9v-1.5M585.5,288.9v-1.5M626.1,288.9v-1.5M524.6,11.1v3M565.2,11.1v3M605.8,11.1v3M646.4,11.1v3M504.3,11.1v1.5M544.9,11.1v1.5M585.5,11.1v1.5M626.1,11.1v1.5M484.5,16.5h3.6M666.6,16.5h-3.6M484.5,25.15h3.6M666.6,25.15h-3.6M484.5,33.8h3.6M666.6,33.8h-3.6M484.5,42.45h3.6M666.6,42.45h-3.6M484.5,20.82h1.8M666.6,20.82h-1.8M484.5,29.47h1.8M666.6,29.47h-1.8M484.5,38.12h1.8M666.6,38.12h-1.8M484.5,12.18h1.8M666.6,12.18h-1.8M484.5,51.22h3.6M666.6,51.22h-3.6M484.5,59.87h3.6M666.6,59.87h-3.6M484.5,68.52h3.6M666.6,68.52h-3.6M484.5,77.17h3.6M666.6,77.17h-3.6M484.5,55.55h1.8M666.6,55.55h-1.8M484.5,64.2h1.8M666.6,64.2h-1.8M484.5,72.85h1.8M666.6,72.85h-1.8M484.5,46.9h1.8M666.6,46.9h-1.8M484.5,85.95h3.6M666.6,85.95h-3.6M484.5,94.6h3.6M666.6,94.6h-3.6M484.5,103.25h3.6M666.6,103.25h-3.6M484.5,111.9h3.6M666.6,111.9h-3.6M484.5,90.27h1.8M666.6,90.27h-1.8M484.5,98.92h1.8M666.6,98.92h-1.8M484.5,107.57h1.8M666.6,107.57h-1.8M484.5,81.62h1.8M666.6,81.62h-1.8M484.5,120.67h3.6M666.6,120.67h-3.6M484.5,129.32h3.6M666.6,129.32h-3.6M484.5,137.97h3.6M666.6,137.97h-3.6M484.5,146.62h3.6M666.6,146.62h-3.6M484.5,125h1.8M666.6,125h-1.8M484.5,133.65h1.8M666.6,133.65h-1.8M484.5,142.3h1.8M666.6,142.3h-1.8M484.5,116.35h1.8M666.6,116.35h-1.8M484.5,155.4h3.6M666.6,155.4h-3.6M484.5,164.05h3.6M666.6,164.05h-3.6M484.5,172.7h3.6M666.6,172.7h-3.6M484.5,181.35h3.6M666.6,181.35h-3.6M484.5,159.72h1.8M666.6,159.72h-1.8M484.5,168.37h1.8M666.6,168.37h-1.8M484.5,177.02h1.8M666.6,177.02h-1.8M484.5,151.07h1.8M666.6,151.07h-1.8M484.5,190.12h3.6M666.6,190.12h-3.6M484.5,198.77h3.6M666.6,198.77h-3.6M484.5,207.42h3.6M666.6,207.42h-3.6M484.5,216.07h3.6M666.6,216.07h-3.6M484.5,194.45h1.8M666.6,194.45h-1.8M484.5,203.1h1.8M666.6,203.1h-1.8M484.5,211.75h1.8M666.6,211.75h-1.8M484.5,185.8h1.8M666.6,185.8h-1.8M484.5,224.85h3.6M666.6,224.85h-3.6M484.5,233.5h3.6M666.6,233.5h-3.6M484.5,242.15h3.6M666.6,242.15h-3.6M484.5,250.8h3.6M666.6,250.8h-3.6M484.5,229.17h1.8M666.6,229.17h-1.8M484.5,237.82h1.8M666.6,237.82h-1.8M484.5,246.47h1.8M666.6,246.47h-1.8M484.5,220.52h1.8M666.6,220.52h-1.8M484.5,259.57h3.6M666.6,259.57h-3.6M484.5,268.22h3.6M666.6,268.22h-3.6M484.5,276.87h3.6M666.6,276.87h-3.6M484.5,285.52h3.6M666.6,285.52h-3.6M484.5,263.9h1.8M666.6,263.9h-1.8M484.5,272.55h1.8M666.6,272.55h-1.8M484.5,281.2h1.8M666.6,281.2h-1.8M484.5,255.25h1.8M666.6,255.25h-1.8" stroke="#222" stroke-width="0.9" fill="none"/>
<rect x="483.5" y="11.7" width="64.41" height="6.2" fill="#fff" stroke="#666" stroke-width="0.55"/>
<text x="484.9" y="16.6" font-family="Liberation Mono" font-style="italic" font-size="5.6" fill="#555" textLength="61.41" lengthAdjust="spacingAndGlyphs">Microbacterium sp. AQ95</text>
<rect x="483.5" y="46.42" width="53.73" height="6.2" fill="#fff" stroke="#666" stroke-width="0.55"/>
<text x="484.9" y="51.32" font-family="Liberation Mono" font-style="italic" font-size="5.6" fill="#555" textLength="50.73" lengthAdjust="spacingAndGlyphs">Halomonas sp. MT107</text>
<rect x="483.5" y="81.15" width="64.41" height="6.2" fill="#fff" stroke="#666" stroke-width="0.55"/>
<text x="484.9" y="86.05" font-family="Liberation Mono" font-style="italic" font-size="5.6" fill="#555" textLength="61.41" lengthAdjust="spacingAndGlyphs">Pseudomonas sp. AQ23RB1</text>
<rect x="483.5" y="115.87" width="59.07" height="6.2" fill="#fff" stroke="#666" stroke-width="0.55"/>
<text x="484.9" y="120.77" font-family="Liberation Mono" font-style="italic" font-size="5.6" fill="#555" textLength="56.07" lengthAdjust="spacingAndGlyphs">Bacillus sp. AQ24B2C1</text>
<rect x="483.5" y="150.6" width="80.43" height="6.2" fill="#fff" stroke="#666" stroke-width="0.55"/>
<text x="484.9" y="155.5" font-family="Liberation Mono" font-style="italic" font-size="5.6" fill="#555" textLength="77.43" lengthAdjust="spacingAndGlyphs">Pseudoalteromonas sp. AQ25683</text>
<rect x="483.5" y="185.32" width="69.75" height="6.2" fill="#fff" stroke="#666" stroke-width="0.55"/>
<text x="484.9" y="190.22" font-family="Liberation Mono" font-style="italic" font-size="5.6" fill="#555" textLength="66.75" lengthAdjust="spacingAndGlyphs">Rhodococcus sp. AQ11382C1</text>
<rect x="483.5" y="220.05" width="64.41" height="6.2" fill="#fff" stroke="#666" stroke-width="0.55"/>
<text x="484.9" y="224.95" font-family="Liberation Mono" font-style="italic" font-size="5.6" fill="#555" textLength="61.41" lengthAdjust="spacingAndGlyphs">Sulfitobacter sp. SQ167</text>
<rect x="483.5" y="254.77" width="64.41" height="6.2" fill="#fff" stroke="#666" stroke-width="0.55"/>
<text x="484.9" y="259.67" font-family="Liberation Mono" font-style="italic" font-size="5.6" fill="#555" textLength="61.41" lengthAdjust="spacingAndGlyphs">Psychrobacter sp. QS172</text>
<g font-family="Liberation Serif" font-size="7.6" fill="#333" text-anchor="end">
<text x="480.6" y="19.95">0. 99</text>
<text x="480.6" y="28.6">0. 66</text>
<text x="480.6" y="37.25">0. 33</text>
<text x="480.6" y="45.9">0. 00</text>
<text x="480.6" y="54.67">0. 99</text>
<text x="480.6" y="63.32">0. 66</text>
<text x="480.6" y="71.97">0. 33</text>
<text x="480.6" y="80.62">0. 00</text>
<text x="480.6" y="89.4">0. 99</text>
<text x="480.6" y="98.05">0. 66</text>
<text x="480.6" y="106.7">0. 33</text>
<text x="480.6" y="115.35">0. 00</text>
<text x="480.6" y="124.12">0. 99</text>
<text x="480.6" y="132.77">0. 66</text>
<text x="480.6" y="141.42">0. 33</text>
<text x="480.6" y="150.07">0. 00</text>
<text x="480.6" y="158.85">0. 99</text>
<text x="480.6" y="167.5">0. 66</text>
<text x="480.6" y="176.15">0. 33</text>
<text x="480.6" y="184.8">0. 00</text>
<text x="480.6" y="193.57">0. 99</text>
<text x="480.6" y="202.22">0. 66</text>
<text x="480.6" y="210.87">0. 33</text>
<text x="480.6" y="219.52">0. 00</text>
<text x="480.6" y="228.3">0. 99</text>
<text x="480.6" y="236.95">0. 66</text>
<text x="480.6" y="245.6">0. 33</text>
<text x="480.6" y="254.25">0. 00</text>
<text x="480.6" y="263.02">0. 99</text>
<text x="480.6" y="271.67">0. 66</text>
<text x="480.6" y="280.32">0. 33</text>
<text x="480.6" y="288.97">0. 00</text>
</g>
<g font-family="Liberation Serif" font-size="7.6" fill="#333" text-anchor="middle">
<text x="484" y="6.85">0</text>
<text x="484" y="299.95">0</text>
<text x="524.6" y="6.85">500</text>
<text x="524.6" y="299.95">500</text>
<text x="565.2" y="6.85">1000</text>
<text x="565.2" y="299.95">1000</text>
<text x="605.8" y="6.85">1500</text>
<text x="605.8" y="299.95">1500</text>
<text x="646.4" y="6.85">2000</text>
<text x="646.4" y="299.95">2000</text>
</g>
<text x="452.8" y="12.3" font-family="Liberation Serif" font-size="16.5" fill="#000" font-weight="bold">c</text>
<text x="537.6" y="312.4" font-family="Liberation Mono" font-size="9" fill="#333" textLength="74.8" lengthAdjust="spacingAndGlyphs">Raman shift(cm<tspan dy="-3" font-size="6">-1</tspan><tspan dy="3">)</tspan></text>
<text transform="translate(459,155.7) rotate(-90)" text-anchor="middle" font-family="Liberation Mono" font-size="8.2" fill="#444" textLength="69" lengthAdjust="spacingAndGlyphs">Intensity(a.u.)</text>
</svg>
</body></html>
